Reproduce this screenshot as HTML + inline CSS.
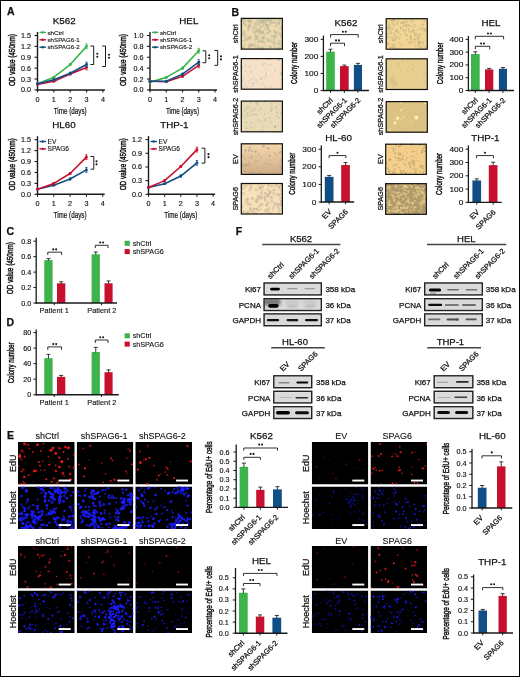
<!DOCTYPE html>
<html><head><meta charset="utf-8"><style>
html,body{margin:0;padding:0;background:#fff;}
svg{display:block;font-family:"Liberation Sans", sans-serif;will-change:transform;}
</style></head><body>
<svg width="520" height="677" viewBox="0 0 520 677">
<defs><filter id="bl" x="-50%" y="-50%" width="200%" height="200%"><feGaussianBlur stdDeviation="0.6"/></filter><filter id="bl2" x="-50%" y="-50%" width="200%" height="200%"><feGaussianBlur stdDeviation="1.6"/></filter></defs>
<rect x="0" y="0" width="520" height="677" fill="#fff"/>
<line x1="37.50" y1="32.00" x2="37.50" y2="90.65" stroke="#1a1a1a" stroke-width="1.4"/>
<line x1="36.80" y1="89.90" x2="104.90" y2="89.90" stroke="#1a1a1a" stroke-width="1.5"/>
<line x1="34.50" y1="89.90" x2="37.50" y2="89.90" stroke="#1a1a1a" stroke-width="1.1"/>
<text x="31.10" y="92.40" font-size="7.2" text-anchor="end" fill="#111" stroke="#111" stroke-width="0.15">0.0</text>
<line x1="34.50" y1="79.02" x2="37.50" y2="79.02" stroke="#1a1a1a" stroke-width="1.1"/>
<text x="31.10" y="81.52" font-size="7.2" text-anchor="end" fill="#111" stroke="#111" stroke-width="0.15">0.3</text>
<line x1="34.50" y1="68.14" x2="37.50" y2="68.14" stroke="#1a1a1a" stroke-width="1.1"/>
<text x="31.10" y="70.64" font-size="7.2" text-anchor="end" fill="#111" stroke="#111" stroke-width="0.15">0.6</text>
<line x1="34.50" y1="57.26" x2="37.50" y2="57.26" stroke="#1a1a1a" stroke-width="1.1"/>
<text x="31.10" y="59.76" font-size="7.2" text-anchor="end" fill="#111" stroke="#111" stroke-width="0.15">0.9</text>
<line x1="34.50" y1="46.38" x2="37.50" y2="46.38" stroke="#1a1a1a" stroke-width="1.1"/>
<text x="31.10" y="48.88" font-size="7.2" text-anchor="end" fill="#111" stroke="#111" stroke-width="0.15">1.2</text>
<line x1="34.50" y1="35.50" x2="37.50" y2="35.50" stroke="#1a1a1a" stroke-width="1.1"/>
<text x="31.10" y="38.00" font-size="7.2" text-anchor="end" fill="#111" stroke="#111" stroke-width="0.15">1.5</text>
<line x1="37.50" y1="89.90" x2="37.50" y2="92.40" stroke="#1a1a1a" stroke-width="1.1"/>
<text x="37.50" y="101.90" font-size="7.2" text-anchor="middle" fill="#111" stroke="#111" stroke-width="0.15">0</text>
<line x1="53.85" y1="89.90" x2="53.85" y2="92.40" stroke="#1a1a1a" stroke-width="1.1"/>
<text x="53.85" y="101.90" font-size="7.2" text-anchor="middle" fill="#111" stroke="#111" stroke-width="0.15">1</text>
<line x1="70.20" y1="89.90" x2="70.20" y2="92.40" stroke="#1a1a1a" stroke-width="1.1"/>
<text x="70.20" y="101.90" font-size="7.2" text-anchor="middle" fill="#111" stroke="#111" stroke-width="0.15">2</text>
<line x1="86.55" y1="89.90" x2="86.55" y2="92.40" stroke="#1a1a1a" stroke-width="1.1"/>
<text x="86.55" y="101.90" font-size="7.2" text-anchor="middle" fill="#111" stroke="#111" stroke-width="0.15">3</text>
<line x1="102.90" y1="89.90" x2="102.90" y2="92.40" stroke="#1a1a1a" stroke-width="1.1"/>
<text x="102.90" y="101.90" font-size="7.2" text-anchor="middle" fill="#111" stroke="#111" stroke-width="0.15">4</text>
<text x="70.20" y="113.80" font-size="8.2" text-anchor="middle" textLength="33" lengthAdjust="spacingAndGlyphs" fill="#111" stroke="#111" stroke-width="0.2">Time (days)</text>
<text x="64.20" y="24.00" font-size="9.8" text-anchor="middle" fill="#111" stroke="#111" stroke-width="0.25">K562</text>
<text x="14.60" y="60.10" font-size="8.7" text-anchor="middle" textLength="52" lengthAdjust="spacingAndGlyphs" transform="rotate(-90 14.60 60.10)" fill="#111" stroke="#111" stroke-width="0.45">OD value (450nm)</text>
<polyline points="37.50,83.73 53.85,77.21 70.20,64.51 86.55,46.38" stroke="#3cb44b" stroke-width="1.6" fill="none" stroke-linejoin="round"/>
<circle cx="37.50" cy="83.73" r="1.45" fill="#3cb44b"/>
<circle cx="53.85" cy="77.21" r="1.45" fill="#3cb44b"/>
<circle cx="70.20" cy="64.51" r="1.45" fill="#3cb44b"/>
<circle cx="86.55" cy="46.38" r="1.45" fill="#3cb44b"/>
<line x1="53.85" y1="76.61" x2="53.85" y2="77.81" stroke="#3cb44b" stroke-width="0.9"/>
<line x1="52.65" y1="76.61" x2="55.05" y2="76.61" stroke="#3cb44b" stroke-width="0.8"/>
<line x1="52.65" y1="77.81" x2="55.05" y2="77.81" stroke="#3cb44b" stroke-width="0.8"/>
<line x1="70.20" y1="63.51" x2="70.20" y2="65.51" stroke="#3cb44b" stroke-width="0.9"/>
<line x1="69.00" y1="63.51" x2="71.40" y2="63.51" stroke="#3cb44b" stroke-width="0.8"/>
<line x1="69.00" y1="65.51" x2="71.40" y2="65.51" stroke="#3cb44b" stroke-width="0.8"/>
<line x1="86.55" y1="43.98" x2="86.55" y2="48.78" stroke="#3cb44b" stroke-width="0.9"/>
<line x1="85.35" y1="43.98" x2="87.75" y2="43.98" stroke="#3cb44b" stroke-width="0.8"/>
<line x1="85.35" y1="48.78" x2="87.75" y2="48.78" stroke="#3cb44b" stroke-width="0.8"/>
<polyline points="37.50,84.46 53.85,81.20 70.20,73.94 86.55,67.41" stroke="#c8102e" stroke-width="1.6" fill="none" stroke-linejoin="round"/>
<circle cx="37.50" cy="84.46" r="1.45" fill="#c8102e"/>
<circle cx="53.85" cy="81.20" r="1.45" fill="#c8102e"/>
<circle cx="70.20" cy="73.94" r="1.45" fill="#c8102e"/>
<circle cx="86.55" cy="67.41" r="1.45" fill="#c8102e"/>
<line x1="53.85" y1="80.60" x2="53.85" y2="81.80" stroke="#c8102e" stroke-width="0.9"/>
<line x1="52.65" y1="80.60" x2="55.05" y2="80.60" stroke="#c8102e" stroke-width="0.8"/>
<line x1="52.65" y1="81.80" x2="55.05" y2="81.80" stroke="#c8102e" stroke-width="0.8"/>
<line x1="70.20" y1="72.94" x2="70.20" y2="74.94" stroke="#c8102e" stroke-width="0.9"/>
<line x1="69.00" y1="72.94" x2="71.40" y2="72.94" stroke="#c8102e" stroke-width="0.8"/>
<line x1="69.00" y1="74.94" x2="71.40" y2="74.94" stroke="#c8102e" stroke-width="0.8"/>
<line x1="86.55" y1="65.01" x2="86.55" y2="69.81" stroke="#c8102e" stroke-width="0.9"/>
<line x1="85.35" y1="65.01" x2="87.75" y2="65.01" stroke="#c8102e" stroke-width="0.8"/>
<line x1="85.35" y1="69.81" x2="87.75" y2="69.81" stroke="#c8102e" stroke-width="0.8"/>
<polyline points="37.50,83.73 53.85,79.74 70.20,73.22 86.55,64.51" stroke="#124e86" stroke-width="1.6" fill="none" stroke-linejoin="round"/>
<circle cx="37.50" cy="83.73" r="1.45" fill="#124e86"/>
<circle cx="53.85" cy="79.74" r="1.45" fill="#124e86"/>
<circle cx="70.20" cy="73.22" r="1.45" fill="#124e86"/>
<circle cx="86.55" cy="64.51" r="1.45" fill="#124e86"/>
<line x1="53.85" y1="79.14" x2="53.85" y2="80.34" stroke="#124e86" stroke-width="0.9"/>
<line x1="52.65" y1="79.14" x2="55.05" y2="79.14" stroke="#124e86" stroke-width="0.8"/>
<line x1="52.65" y1="80.34" x2="55.05" y2="80.34" stroke="#124e86" stroke-width="0.8"/>
<line x1="70.20" y1="72.22" x2="70.20" y2="74.22" stroke="#124e86" stroke-width="0.9"/>
<line x1="69.00" y1="72.22" x2="71.40" y2="72.22" stroke="#124e86" stroke-width="0.8"/>
<line x1="69.00" y1="74.22" x2="71.40" y2="74.22" stroke="#124e86" stroke-width="0.8"/>
<line x1="86.55" y1="62.11" x2="86.55" y2="66.91" stroke="#124e86" stroke-width="0.9"/>
<line x1="85.35" y1="62.11" x2="87.75" y2="62.11" stroke="#124e86" stroke-width="0.8"/>
<line x1="85.35" y1="66.91" x2="87.75" y2="66.91" stroke="#124e86" stroke-width="0.8"/>
<line x1="39.50" y1="32.40" x2="46.00" y2="32.40" stroke="#3cb44b" stroke-width="1.4"/>
<circle cx="42.70" cy="32.40" r="1.2" fill="#3cb44b"/>
<text x="47.50" y="34.60" font-size="6.2" text-anchor="start" fill="#111" stroke="#111" stroke-width="0.12">shCtrl</text>
<line x1="39.50" y1="39.80" x2="46.00" y2="39.80" stroke="#c8102e" stroke-width="1.4"/>
<circle cx="42.70" cy="39.80" r="1.2" fill="#c8102e"/>
<text x="47.50" y="42.00" font-size="6.2" text-anchor="start" fill="#111" stroke="#111" stroke-width="0.12">shSPAG6-1</text>
<line x1="39.50" y1="47.20" x2="46.00" y2="47.20" stroke="#124e86" stroke-width="1.4"/>
<circle cx="42.70" cy="47.20" r="1.2" fill="#124e86"/>
<text x="47.50" y="49.40" font-size="6.2" text-anchor="start" fill="#111" stroke="#111" stroke-width="0.12">shSPAG6-2</text>
<polyline points="90.40,46.00 93.70,46.00 93.70,64.50 90.40,64.50" stroke="#1a1a1a" stroke-width="1.0" fill="none" stroke-linejoin="round"/>
<circle cx="97.30" cy="53.75" r="1.05" fill="#1a1a1a"/>
<circle cx="97.30" cy="56.75" r="1.05" fill="#1a1a1a"/>
<polyline points="102.20,46.00 105.50,46.00 105.50,66.50 102.20,66.50" stroke="#1a1a1a" stroke-width="1.0" fill="none" stroke-linejoin="round"/>
<circle cx="109.00" cy="54.75" r="1.05" fill="#1a1a1a"/>
<circle cx="109.00" cy="57.75" r="1.05" fill="#1a1a1a"/>
<line x1="150.00" y1="32.00" x2="150.00" y2="90.65" stroke="#1a1a1a" stroke-width="1.4"/>
<line x1="149.30" y1="89.90" x2="217.00" y2="89.90" stroke="#1a1a1a" stroke-width="1.5"/>
<line x1="147.00" y1="89.90" x2="150.00" y2="89.90" stroke="#1a1a1a" stroke-width="1.1"/>
<text x="143.60" y="92.40" font-size="7.2" text-anchor="end" fill="#111" stroke="#111" stroke-width="0.15">0.0</text>
<line x1="147.00" y1="79.02" x2="150.00" y2="79.02" stroke="#1a1a1a" stroke-width="1.1"/>
<text x="143.60" y="81.52" font-size="7.2" text-anchor="end" fill="#111" stroke="#111" stroke-width="0.15">0.2</text>
<line x1="147.00" y1="68.14" x2="150.00" y2="68.14" stroke="#1a1a1a" stroke-width="1.1"/>
<text x="143.60" y="70.64" font-size="7.2" text-anchor="end" fill="#111" stroke="#111" stroke-width="0.15">0.4</text>
<line x1="147.00" y1="57.26" x2="150.00" y2="57.26" stroke="#1a1a1a" stroke-width="1.1"/>
<text x="143.60" y="59.76" font-size="7.2" text-anchor="end" fill="#111" stroke="#111" stroke-width="0.15">0.6</text>
<line x1="147.00" y1="46.38" x2="150.00" y2="46.38" stroke="#1a1a1a" stroke-width="1.1"/>
<text x="143.60" y="48.88" font-size="7.2" text-anchor="end" fill="#111" stroke="#111" stroke-width="0.15">0.8</text>
<line x1="147.00" y1="35.50" x2="150.00" y2="35.50" stroke="#1a1a1a" stroke-width="1.1"/>
<text x="143.60" y="38.00" font-size="7.2" text-anchor="end" fill="#111" stroke="#111" stroke-width="0.15">1.0</text>
<line x1="150.00" y1="89.90" x2="150.00" y2="92.40" stroke="#1a1a1a" stroke-width="1.1"/>
<text x="150.00" y="101.90" font-size="7.2" text-anchor="middle" fill="#111" stroke="#111" stroke-width="0.15">0</text>
<line x1="166.25" y1="89.90" x2="166.25" y2="92.40" stroke="#1a1a1a" stroke-width="1.1"/>
<text x="166.25" y="101.90" font-size="7.2" text-anchor="middle" fill="#111" stroke="#111" stroke-width="0.15">1</text>
<line x1="182.50" y1="89.90" x2="182.50" y2="92.40" stroke="#1a1a1a" stroke-width="1.1"/>
<text x="182.50" y="101.90" font-size="7.2" text-anchor="middle" fill="#111" stroke="#111" stroke-width="0.15">2</text>
<line x1="198.75" y1="89.90" x2="198.75" y2="92.40" stroke="#1a1a1a" stroke-width="1.1"/>
<text x="198.75" y="101.90" font-size="7.2" text-anchor="middle" fill="#111" stroke="#111" stroke-width="0.15">3</text>
<line x1="215.00" y1="89.90" x2="215.00" y2="92.40" stroke="#1a1a1a" stroke-width="1.1"/>
<text x="215.00" y="101.90" font-size="7.2" text-anchor="middle" fill="#111" stroke="#111" stroke-width="0.15">4</text>
<text x="182.50" y="113.80" font-size="8.2" text-anchor="middle" textLength="33" lengthAdjust="spacingAndGlyphs" fill="#111" stroke="#111" stroke-width="0.2">Time (days)</text>
<text x="188.80" y="24.00" font-size="9.8" text-anchor="middle" fill="#111" stroke="#111" stroke-width="0.25">HEL</text>
<text x="126.40" y="60.10" font-size="8.7" text-anchor="middle" textLength="52" lengthAdjust="spacingAndGlyphs" transform="rotate(-90 126.40 60.10)" fill="#111" stroke="#111" stroke-width="0.45">OD value (450nm)</text>
<polyline points="150.00,82.28 166.25,77.39 182.50,68.14 198.75,50.73" stroke="#3cb44b" stroke-width="1.6" fill="none" stroke-linejoin="round"/>
<circle cx="150.00" cy="82.28" r="1.45" fill="#3cb44b"/>
<circle cx="166.25" cy="77.39" r="1.45" fill="#3cb44b"/>
<circle cx="182.50" cy="68.14" r="1.45" fill="#3cb44b"/>
<circle cx="198.75" cy="50.73" r="1.45" fill="#3cb44b"/>
<line x1="166.25" y1="76.79" x2="166.25" y2="77.99" stroke="#3cb44b" stroke-width="0.9"/>
<line x1="165.05" y1="76.79" x2="167.45" y2="76.79" stroke="#3cb44b" stroke-width="0.8"/>
<line x1="165.05" y1="77.99" x2="167.45" y2="77.99" stroke="#3cb44b" stroke-width="0.8"/>
<line x1="182.50" y1="67.14" x2="182.50" y2="69.14" stroke="#3cb44b" stroke-width="0.9"/>
<line x1="181.30" y1="67.14" x2="183.70" y2="67.14" stroke="#3cb44b" stroke-width="0.8"/>
<line x1="181.30" y1="69.14" x2="183.70" y2="69.14" stroke="#3cb44b" stroke-width="0.8"/>
<line x1="198.75" y1="48.33" x2="198.75" y2="53.13" stroke="#3cb44b" stroke-width="0.9"/>
<line x1="197.55" y1="48.33" x2="199.95" y2="48.33" stroke="#3cb44b" stroke-width="0.8"/>
<line x1="197.55" y1="53.13" x2="199.95" y2="53.13" stroke="#3cb44b" stroke-width="0.8"/>
<polyline points="150.00,81.20 166.25,81.74 182.50,76.30 198.75,65.42" stroke="#c8102e" stroke-width="1.6" fill="none" stroke-linejoin="round"/>
<circle cx="150.00" cy="81.20" r="1.45" fill="#c8102e"/>
<circle cx="166.25" cy="81.74" r="1.45" fill="#c8102e"/>
<circle cx="182.50" cy="76.30" r="1.45" fill="#c8102e"/>
<circle cx="198.75" cy="65.42" r="1.45" fill="#c8102e"/>
<line x1="166.25" y1="81.14" x2="166.25" y2="82.34" stroke="#c8102e" stroke-width="0.9"/>
<line x1="165.05" y1="81.14" x2="167.45" y2="81.14" stroke="#c8102e" stroke-width="0.8"/>
<line x1="165.05" y1="82.34" x2="167.45" y2="82.34" stroke="#c8102e" stroke-width="0.8"/>
<line x1="182.50" y1="75.30" x2="182.50" y2="77.30" stroke="#c8102e" stroke-width="0.9"/>
<line x1="181.30" y1="75.30" x2="183.70" y2="75.30" stroke="#c8102e" stroke-width="0.8"/>
<line x1="181.30" y1="77.30" x2="183.70" y2="77.30" stroke="#c8102e" stroke-width="0.8"/>
<line x1="198.75" y1="63.02" x2="198.75" y2="67.82" stroke="#c8102e" stroke-width="0.9"/>
<line x1="197.55" y1="63.02" x2="199.95" y2="63.02" stroke="#c8102e" stroke-width="0.8"/>
<line x1="197.55" y1="67.82" x2="199.95" y2="67.82" stroke="#c8102e" stroke-width="0.8"/>
<polyline points="150.00,81.20 166.25,81.20 182.50,74.12 198.75,62.16" stroke="#124e86" stroke-width="1.6" fill="none" stroke-linejoin="round"/>
<circle cx="150.00" cy="81.20" r="1.45" fill="#124e86"/>
<circle cx="166.25" cy="81.20" r="1.45" fill="#124e86"/>
<circle cx="182.50" cy="74.12" r="1.45" fill="#124e86"/>
<circle cx="198.75" cy="62.16" r="1.45" fill="#124e86"/>
<line x1="166.25" y1="80.60" x2="166.25" y2="81.80" stroke="#124e86" stroke-width="0.9"/>
<line x1="165.05" y1="80.60" x2="167.45" y2="80.60" stroke="#124e86" stroke-width="0.8"/>
<line x1="165.05" y1="81.80" x2="167.45" y2="81.80" stroke="#124e86" stroke-width="0.8"/>
<line x1="182.50" y1="73.12" x2="182.50" y2="75.12" stroke="#124e86" stroke-width="0.9"/>
<line x1="181.30" y1="73.12" x2="183.70" y2="73.12" stroke="#124e86" stroke-width="0.8"/>
<line x1="181.30" y1="75.12" x2="183.70" y2="75.12" stroke="#124e86" stroke-width="0.8"/>
<line x1="198.75" y1="59.76" x2="198.75" y2="64.56" stroke="#124e86" stroke-width="0.9"/>
<line x1="197.55" y1="59.76" x2="199.95" y2="59.76" stroke="#124e86" stroke-width="0.8"/>
<line x1="197.55" y1="64.56" x2="199.95" y2="64.56" stroke="#124e86" stroke-width="0.8"/>
<line x1="152.00" y1="32.40" x2="158.50" y2="32.40" stroke="#3cb44b" stroke-width="1.4"/>
<circle cx="155.20" cy="32.40" r="1.2" fill="#3cb44b"/>
<text x="160.00" y="34.60" font-size="6.2" text-anchor="start" fill="#111" stroke="#111" stroke-width="0.12">shCtrl</text>
<line x1="152.00" y1="39.80" x2="158.50" y2="39.80" stroke="#c8102e" stroke-width="1.4"/>
<circle cx="155.20" cy="39.80" r="1.2" fill="#c8102e"/>
<text x="160.00" y="42.00" font-size="6.2" text-anchor="start" fill="#111" stroke="#111" stroke-width="0.12">shSPAG6-1</text>
<line x1="152.00" y1="47.20" x2="158.50" y2="47.20" stroke="#124e86" stroke-width="1.4"/>
<circle cx="155.20" cy="47.20" r="1.2" fill="#124e86"/>
<text x="160.00" y="49.40" font-size="6.2" text-anchor="start" fill="#111" stroke="#111" stroke-width="0.12">shSPAG6-2</text>
<polyline points="202.50,50.80 205.80,50.80 205.80,62.70 202.50,62.70" stroke="#1a1a1a" stroke-width="1.0" fill="none" stroke-linejoin="round"/>
<circle cx="209.20" cy="55.25" r="1.05" fill="#1a1a1a"/>
<circle cx="209.20" cy="58.25" r="1.05" fill="#1a1a1a"/>
<polyline points="214.40,50.40 217.70,50.40 217.70,65.30 214.40,65.30" stroke="#1a1a1a" stroke-width="1.0" fill="none" stroke-linejoin="round"/>
<circle cx="221.00" cy="56.35" r="1.05" fill="#1a1a1a"/>
<circle cx="221.00" cy="59.35" r="1.05" fill="#1a1a1a"/>
<line x1="37.50" y1="136.20" x2="37.50" y2="195.05" stroke="#1a1a1a" stroke-width="1.4"/>
<line x1="36.80" y1="194.30" x2="104.70" y2="194.30" stroke="#1a1a1a" stroke-width="1.5"/>
<line x1="34.50" y1="194.30" x2="37.50" y2="194.30" stroke="#1a1a1a" stroke-width="1.1"/>
<text x="31.10" y="196.80" font-size="7.2" text-anchor="end" fill="#111" stroke="#111" stroke-width="0.15">0.0</text>
<line x1="34.50" y1="183.38" x2="37.50" y2="183.38" stroke="#1a1a1a" stroke-width="1.1"/>
<text x="31.10" y="185.88" font-size="7.2" text-anchor="end" fill="#111" stroke="#111" stroke-width="0.15">0.3</text>
<line x1="34.50" y1="172.46" x2="37.50" y2="172.46" stroke="#1a1a1a" stroke-width="1.1"/>
<text x="31.10" y="174.96" font-size="7.2" text-anchor="end" fill="#111" stroke="#111" stroke-width="0.15">0.6</text>
<line x1="34.50" y1="161.54" x2="37.50" y2="161.54" stroke="#1a1a1a" stroke-width="1.1"/>
<text x="31.10" y="164.04" font-size="7.2" text-anchor="end" fill="#111" stroke="#111" stroke-width="0.15">0.9</text>
<line x1="34.50" y1="150.62" x2="37.50" y2="150.62" stroke="#1a1a1a" stroke-width="1.1"/>
<text x="31.10" y="153.12" font-size="7.2" text-anchor="end" fill="#111" stroke="#111" stroke-width="0.15">1.2</text>
<line x1="34.50" y1="139.70" x2="37.50" y2="139.70" stroke="#1a1a1a" stroke-width="1.1"/>
<text x="31.10" y="142.20" font-size="7.2" text-anchor="end" fill="#111" stroke="#111" stroke-width="0.15">1.5</text>
<line x1="37.50" y1="194.30" x2="37.50" y2="196.80" stroke="#1a1a1a" stroke-width="1.1"/>
<text x="37.50" y="206.30" font-size="7.2" text-anchor="middle" fill="#111" stroke="#111" stroke-width="0.15">0</text>
<line x1="53.80" y1="194.30" x2="53.80" y2="196.80" stroke="#1a1a1a" stroke-width="1.1"/>
<text x="53.80" y="206.30" font-size="7.2" text-anchor="middle" fill="#111" stroke="#111" stroke-width="0.15">1</text>
<line x1="70.10" y1="194.30" x2="70.10" y2="196.80" stroke="#1a1a1a" stroke-width="1.1"/>
<text x="70.10" y="206.30" font-size="7.2" text-anchor="middle" fill="#111" stroke="#111" stroke-width="0.15">2</text>
<line x1="86.40" y1="194.30" x2="86.40" y2="196.80" stroke="#1a1a1a" stroke-width="1.1"/>
<text x="86.40" y="206.30" font-size="7.2" text-anchor="middle" fill="#111" stroke="#111" stroke-width="0.15">3</text>
<line x1="102.70" y1="194.30" x2="102.70" y2="196.80" stroke="#1a1a1a" stroke-width="1.1"/>
<text x="102.70" y="206.30" font-size="7.2" text-anchor="middle" fill="#111" stroke="#111" stroke-width="0.15">4</text>
<text x="70.10" y="218.20" font-size="8.2" text-anchor="middle" textLength="33" lengthAdjust="spacingAndGlyphs" fill="#111" stroke="#111" stroke-width="0.2">Time (days)</text>
<text x="64.00" y="128.40" font-size="9.8" text-anchor="middle" fill="#111" stroke="#111" stroke-width="0.25">HL60</text>
<text x="14.60" y="164.40" font-size="8.7" text-anchor="middle" textLength="52" lengthAdjust="spacingAndGlyphs" transform="rotate(-90 14.60 164.40)" fill="#111" stroke="#111" stroke-width="0.45">OD value (450nm)</text>
<polyline points="37.50,189.20 53.80,185.20 70.10,179.01 86.40,169.91" stroke="#124e86" stroke-width="1.6" fill="none" stroke-linejoin="round"/>
<circle cx="37.50" cy="189.20" r="1.45" fill="#124e86"/>
<circle cx="53.80" cy="185.20" r="1.45" fill="#124e86"/>
<circle cx="70.10" cy="179.01" r="1.45" fill="#124e86"/>
<circle cx="86.40" cy="169.91" r="1.45" fill="#124e86"/>
<line x1="53.80" y1="184.60" x2="53.80" y2="185.80" stroke="#124e86" stroke-width="0.9"/>
<line x1="52.60" y1="184.60" x2="55.00" y2="184.60" stroke="#124e86" stroke-width="0.8"/>
<line x1="52.60" y1="185.80" x2="55.00" y2="185.80" stroke="#124e86" stroke-width="0.8"/>
<line x1="70.10" y1="178.01" x2="70.10" y2="180.01" stroke="#124e86" stroke-width="0.9"/>
<line x1="68.90" y1="178.01" x2="71.30" y2="178.01" stroke="#124e86" stroke-width="0.8"/>
<line x1="68.90" y1="180.01" x2="71.30" y2="180.01" stroke="#124e86" stroke-width="0.8"/>
<line x1="86.40" y1="167.51" x2="86.40" y2="172.31" stroke="#124e86" stroke-width="0.9"/>
<line x1="85.20" y1="167.51" x2="87.60" y2="167.51" stroke="#124e86" stroke-width="0.8"/>
<line x1="85.20" y1="172.31" x2="87.60" y2="172.31" stroke="#124e86" stroke-width="0.8"/>
<polyline points="37.50,189.20 53.80,183.38 70.10,173.55 86.40,157.17" stroke="#c8102e" stroke-width="1.6" fill="none" stroke-linejoin="round"/>
<circle cx="37.50" cy="189.20" r="1.45" fill="#c8102e"/>
<circle cx="53.80" cy="183.38" r="1.45" fill="#c8102e"/>
<circle cx="70.10" cy="173.55" r="1.45" fill="#c8102e"/>
<circle cx="86.40" cy="157.17" r="1.45" fill="#c8102e"/>
<line x1="53.80" y1="182.78" x2="53.80" y2="183.98" stroke="#c8102e" stroke-width="0.9"/>
<line x1="52.60" y1="182.78" x2="55.00" y2="182.78" stroke="#c8102e" stroke-width="0.8"/>
<line x1="52.60" y1="183.98" x2="55.00" y2="183.98" stroke="#c8102e" stroke-width="0.8"/>
<line x1="70.10" y1="172.55" x2="70.10" y2="174.55" stroke="#c8102e" stroke-width="0.9"/>
<line x1="68.90" y1="172.55" x2="71.30" y2="172.55" stroke="#c8102e" stroke-width="0.8"/>
<line x1="68.90" y1="174.55" x2="71.30" y2="174.55" stroke="#c8102e" stroke-width="0.8"/>
<line x1="86.40" y1="154.77" x2="86.40" y2="159.57" stroke="#c8102e" stroke-width="0.9"/>
<line x1="85.20" y1="154.77" x2="87.60" y2="154.77" stroke="#c8102e" stroke-width="0.8"/>
<line x1="85.20" y1="159.57" x2="87.60" y2="159.57" stroke="#c8102e" stroke-width="0.8"/>
<line x1="39.50" y1="141.50" x2="46.00" y2="141.50" stroke="#124e86" stroke-width="1.4"/>
<circle cx="42.70" cy="141.50" r="1.2" fill="#124e86"/>
<text x="47.50" y="143.70" font-size="6.6" text-anchor="start" fill="#111" stroke="#111" stroke-width="0.12">EV</text>
<line x1="39.50" y1="148.90" x2="46.00" y2="148.90" stroke="#c8102e" stroke-width="1.4"/>
<circle cx="42.70" cy="148.90" r="1.2" fill="#c8102e"/>
<text x="47.50" y="151.10" font-size="6.6" text-anchor="start" fill="#111" stroke="#111" stroke-width="0.12">SPAG6</text>
<polyline points="90.50,156.50 93.80,156.50 93.80,169.20 90.50,169.20" stroke="#1a1a1a" stroke-width="1.0" fill="none" stroke-linejoin="round"/>
<circle cx="96.50" cy="161.35" r="1.05" fill="#1a1a1a"/>
<circle cx="96.50" cy="164.35" r="1.05" fill="#1a1a1a"/>
<line x1="148.50" y1="136.08" x2="148.50" y2="195.05" stroke="#1a1a1a" stroke-width="1.4"/>
<line x1="147.80" y1="194.30" x2="215.10" y2="194.30" stroke="#1a1a1a" stroke-width="1.5"/>
<line x1="145.50" y1="194.30" x2="148.50" y2="194.30" stroke="#1a1a1a" stroke-width="1.1"/>
<text x="142.10" y="196.80" font-size="7.2" text-anchor="end" fill="#111" stroke="#111" stroke-width="0.15">0.0</text>
<line x1="145.50" y1="180.62" x2="148.50" y2="180.62" stroke="#1a1a1a" stroke-width="1.1"/>
<text x="142.10" y="183.12" font-size="7.2" text-anchor="end" fill="#111" stroke="#111" stroke-width="0.15">0.3</text>
<line x1="145.50" y1="166.94" x2="148.50" y2="166.94" stroke="#1a1a1a" stroke-width="1.1"/>
<text x="142.10" y="169.44" font-size="7.2" text-anchor="end" fill="#111" stroke="#111" stroke-width="0.15">0.6</text>
<line x1="145.50" y1="153.26" x2="148.50" y2="153.26" stroke="#1a1a1a" stroke-width="1.1"/>
<text x="142.10" y="155.76" font-size="7.2" text-anchor="end" fill="#111" stroke="#111" stroke-width="0.15">0.9</text>
<line x1="145.50" y1="139.58" x2="148.50" y2="139.58" stroke="#1a1a1a" stroke-width="1.1"/>
<text x="142.10" y="142.08" font-size="7.2" text-anchor="end" fill="#111" stroke="#111" stroke-width="0.15">1.2</text>
<line x1="148.50" y1="194.30" x2="148.50" y2="196.80" stroke="#1a1a1a" stroke-width="1.1"/>
<text x="148.50" y="206.30" font-size="7.2" text-anchor="middle" fill="#111" stroke="#111" stroke-width="0.15">0</text>
<line x1="164.65" y1="194.30" x2="164.65" y2="196.80" stroke="#1a1a1a" stroke-width="1.1"/>
<text x="164.65" y="206.30" font-size="7.2" text-anchor="middle" fill="#111" stroke="#111" stroke-width="0.15">1</text>
<line x1="180.80" y1="194.30" x2="180.80" y2="196.80" stroke="#1a1a1a" stroke-width="1.1"/>
<text x="180.80" y="206.30" font-size="7.2" text-anchor="middle" fill="#111" stroke="#111" stroke-width="0.15">2</text>
<line x1="196.95" y1="194.30" x2="196.95" y2="196.80" stroke="#1a1a1a" stroke-width="1.1"/>
<text x="196.95" y="206.30" font-size="7.2" text-anchor="middle" fill="#111" stroke="#111" stroke-width="0.15">3</text>
<line x1="213.10" y1="194.30" x2="213.10" y2="196.80" stroke="#1a1a1a" stroke-width="1.1"/>
<text x="213.10" y="206.30" font-size="7.2" text-anchor="middle" fill="#111" stroke="#111" stroke-width="0.15">4</text>
<text x="180.80" y="218.20" font-size="8.2" text-anchor="middle" textLength="33" lengthAdjust="spacingAndGlyphs" fill="#111" stroke="#111" stroke-width="0.2">Time (days)</text>
<text x="174.40" y="128.40" font-size="9.8" text-anchor="middle" fill="#111" stroke="#111" stroke-width="0.25">THP-1</text>
<text x="126.10" y="164.34" font-size="8.7" text-anchor="middle" textLength="52" lengthAdjust="spacingAndGlyphs" transform="rotate(-90 126.10 164.34)" fill="#111" stroke="#111" stroke-width="0.45">OD value (450nm)</text>
<polyline points="148.50,187.46 164.65,183.81 180.80,176.06 196.95,162.84" stroke="#124e86" stroke-width="1.6" fill="none" stroke-linejoin="round"/>
<circle cx="148.50" cy="187.46" r="1.45" fill="#124e86"/>
<circle cx="164.65" cy="183.81" r="1.45" fill="#124e86"/>
<circle cx="180.80" cy="176.06" r="1.45" fill="#124e86"/>
<circle cx="196.95" cy="162.84" r="1.45" fill="#124e86"/>
<line x1="164.65" y1="183.21" x2="164.65" y2="184.41" stroke="#124e86" stroke-width="0.9"/>
<line x1="163.45" y1="183.21" x2="165.85" y2="183.21" stroke="#124e86" stroke-width="0.8"/>
<line x1="163.45" y1="184.41" x2="165.85" y2="184.41" stroke="#124e86" stroke-width="0.8"/>
<line x1="180.80" y1="175.06" x2="180.80" y2="177.06" stroke="#124e86" stroke-width="0.9"/>
<line x1="179.60" y1="175.06" x2="182.00" y2="175.06" stroke="#124e86" stroke-width="0.8"/>
<line x1="179.60" y1="177.06" x2="182.00" y2="177.06" stroke="#124e86" stroke-width="0.8"/>
<line x1="196.95" y1="160.44" x2="196.95" y2="165.24" stroke="#124e86" stroke-width="0.9"/>
<line x1="195.75" y1="160.44" x2="198.15" y2="160.44" stroke="#124e86" stroke-width="0.8"/>
<line x1="195.75" y1="165.24" x2="198.15" y2="165.24" stroke="#124e86" stroke-width="0.8"/>
<polyline points="148.50,187.46 164.65,180.62 180.80,166.48 196.95,149.61" stroke="#c8102e" stroke-width="1.6" fill="none" stroke-linejoin="round"/>
<circle cx="148.50" cy="187.46" r="1.45" fill="#c8102e"/>
<circle cx="164.65" cy="180.62" r="1.45" fill="#c8102e"/>
<circle cx="180.80" cy="166.48" r="1.45" fill="#c8102e"/>
<circle cx="196.95" cy="149.61" r="1.45" fill="#c8102e"/>
<line x1="164.65" y1="180.02" x2="164.65" y2="181.22" stroke="#c8102e" stroke-width="0.9"/>
<line x1="163.45" y1="180.02" x2="165.85" y2="180.02" stroke="#c8102e" stroke-width="0.8"/>
<line x1="163.45" y1="181.22" x2="165.85" y2="181.22" stroke="#c8102e" stroke-width="0.8"/>
<line x1="180.80" y1="165.48" x2="180.80" y2="167.48" stroke="#c8102e" stroke-width="0.9"/>
<line x1="179.60" y1="165.48" x2="182.00" y2="165.48" stroke="#c8102e" stroke-width="0.8"/>
<line x1="179.60" y1="167.48" x2="182.00" y2="167.48" stroke="#c8102e" stroke-width="0.8"/>
<line x1="196.95" y1="147.21" x2="196.95" y2="152.01" stroke="#c8102e" stroke-width="0.9"/>
<line x1="195.75" y1="147.21" x2="198.15" y2="147.21" stroke="#c8102e" stroke-width="0.8"/>
<line x1="195.75" y1="152.01" x2="198.15" y2="152.01" stroke="#c8102e" stroke-width="0.8"/>
<line x1="150.50" y1="141.50" x2="157.00" y2="141.50" stroke="#124e86" stroke-width="1.4"/>
<circle cx="153.70" cy="141.50" r="1.2" fill="#124e86"/>
<text x="158.50" y="143.70" font-size="6.6" text-anchor="start" fill="#111" stroke="#111" stroke-width="0.12">EV</text>
<line x1="150.50" y1="148.90" x2="157.00" y2="148.90" stroke="#c8102e" stroke-width="1.4"/>
<circle cx="153.70" cy="148.90" r="1.2" fill="#c8102e"/>
<text x="158.50" y="151.10" font-size="6.6" text-anchor="start" fill="#111" stroke="#111" stroke-width="0.12">SPAG6</text>
<polyline points="201.60,148.20 204.90,148.20 204.90,163.10 201.60,163.10" stroke="#1a1a1a" stroke-width="1.0" fill="none" stroke-linejoin="round"/>
<circle cx="208.50" cy="154.15" r="1.05" fill="#1a1a1a"/>
<circle cx="208.50" cy="157.15" r="1.05" fill="#1a1a1a"/>
<rect x="326.20" y="51.63" width="8.60" height="38.87" fill="#3cb44b"/>
<line x1="330.50" y1="49.24" x2="330.50" y2="52.13" stroke="#222" stroke-width="0.9"/>
<line x1="328.50" y1="49.24" x2="332.50" y2="49.24" stroke="#222" stroke-width="0.9"/>
<rect x="340.00" y="66.12" width="8.70" height="24.38" fill="#c8102e"/>
<line x1="344.35" y1="65.10" x2="344.35" y2="66.62" stroke="#222" stroke-width="0.9"/>
<line x1="342.35" y1="65.10" x2="346.35" y2="65.10" stroke="#222" stroke-width="0.9"/>
<rect x="353.90" y="64.92" width="8.10" height="25.58" fill="#124e86"/>
<line x1="357.95" y1="63.39" x2="357.95" y2="65.42" stroke="#222" stroke-width="0.9"/>
<line x1="355.95" y1="63.39" x2="359.95" y2="63.39" stroke="#222" stroke-width="0.9"/>
<line x1="323.40" y1="35.60" x2="323.40" y2="91.20" stroke="#1a1a1a" stroke-width="1.3"/>
<line x1="322.80" y1="90.50" x2="369.00" y2="90.50" stroke="#1a1a1a" stroke-width="1.4"/>
<line x1="320.60" y1="90.50" x2="323.40" y2="90.50" stroke="#1a1a1a" stroke-width="1.0"/>
<text x="318.40" y="93.00" font-size="7.6" text-anchor="end" textLength="4.65" lengthAdjust="spacingAndGlyphs" fill="#111" stroke="#111" stroke-width="0.15">0</text>
<line x1="320.60" y1="73.45" x2="323.40" y2="73.45" stroke="#1a1a1a" stroke-width="1.0"/>
<text x="318.40" y="75.95" font-size="7.6" text-anchor="end" textLength="13.95" lengthAdjust="spacingAndGlyphs" fill="#111" stroke="#111" stroke-width="0.15">100</text>
<line x1="320.60" y1="56.40" x2="323.40" y2="56.40" stroke="#1a1a1a" stroke-width="1.0"/>
<text x="318.40" y="58.90" font-size="7.6" text-anchor="end" textLength="13.95" lengthAdjust="spacingAndGlyphs" fill="#111" stroke="#111" stroke-width="0.15">200</text>
<line x1="320.60" y1="39.35" x2="323.40" y2="39.35" stroke="#1a1a1a" stroke-width="1.0"/>
<text x="318.40" y="41.85" font-size="7.6" text-anchor="end" textLength="13.95" lengthAdjust="spacingAndGlyphs" fill="#111" stroke="#111" stroke-width="0.15">300</text>
<line x1="330.50" y1="90.50" x2="330.50" y2="92.80" stroke="#1a1a1a" stroke-width="1.0"/>
<line x1="344.35" y1="90.50" x2="344.35" y2="92.80" stroke="#1a1a1a" stroke-width="1.0"/>
<line x1="357.95" y1="90.50" x2="357.95" y2="92.80" stroke="#1a1a1a" stroke-width="1.0"/>
<text x="346.00" y="26.20" font-size="9.8" text-anchor="middle" fill="#111" stroke="#111" stroke-width="0.25">K562</text>
<text x="297.50" y="63.05" font-size="9.4" text-anchor="middle" textLength="42" lengthAdjust="spacingAndGlyphs" transform="rotate(-90 297.50 63.05)" fill="#111" stroke="#111" stroke-width="0.45">Colony number</text>
<polyline points="330.50,46.20 330.50,43.20 344.50,43.20 344.50,46.20" stroke="#1a1a1a" stroke-width="0.9" fill="none" stroke-linejoin="round"/>
<circle cx="336.05" cy="40.40" r="1.05" fill="#1a1a1a"/>
<circle cx="338.95" cy="40.40" r="1.05" fill="#1a1a1a"/>
<polyline points="330.50,37.60 330.50,34.60 358.20,34.60 358.20,37.60" stroke="#1a1a1a" stroke-width="0.9" fill="none" stroke-linejoin="round"/>
<circle cx="342.90" cy="31.80" r="1.05" fill="#1a1a1a"/>
<circle cx="345.80" cy="31.80" r="1.05" fill="#1a1a1a"/>
<text x="333.50" y="100.80" font-size="7.5" text-anchor="end" transform="rotate(-45 333.50 100.80)" fill="#111" stroke="#111" stroke-width="0.25">shCtrl</text>
<text x="347.35" y="100.80" font-size="7.5" text-anchor="end" transform="rotate(-45 347.35 100.80)" fill="#111" stroke="#111" stroke-width="0.25">shSPAG6-1</text>
<text x="360.95" y="100.80" font-size="7.5" text-anchor="end" transform="rotate(-45 360.95 100.80)" fill="#111" stroke="#111" stroke-width="0.25">shSPAG6-2</text>
<rect x="471.00" y="54.08" width="8.70" height="36.42" fill="#3cb44b"/>
<line x1="475.35" y1="51.78" x2="475.35" y2="54.58" stroke="#222" stroke-width="0.9"/>
<line x1="473.35" y1="51.78" x2="477.35" y2="51.78" stroke="#222" stroke-width="0.9"/>
<rect x="485.00" y="69.41" width="8.30" height="21.09" fill="#c8102e"/>
<line x1="489.15" y1="68.39" x2="489.15" y2="69.91" stroke="#222" stroke-width="0.9"/>
<line x1="487.15" y1="68.39" x2="491.15" y2="68.39" stroke="#222" stroke-width="0.9"/>
<rect x="498.90" y="68.77" width="8.10" height="21.73" fill="#124e86"/>
<line x1="502.95" y1="67.50" x2="502.95" y2="69.27" stroke="#222" stroke-width="0.9"/>
<line x1="500.95" y1="67.50" x2="504.95" y2="67.50" stroke="#222" stroke-width="0.9"/>
<line x1="468.40" y1="36.00" x2="468.40" y2="91.20" stroke="#1a1a1a" stroke-width="1.3"/>
<line x1="467.80" y1="90.50" x2="514.00" y2="90.50" stroke="#1a1a1a" stroke-width="1.4"/>
<line x1="465.60" y1="90.50" x2="468.40" y2="90.50" stroke="#1a1a1a" stroke-width="1.0"/>
<text x="463.40" y="93.00" font-size="7.6" text-anchor="end" textLength="4.65" lengthAdjust="spacingAndGlyphs" fill="#111" stroke="#111" stroke-width="0.15">0</text>
<line x1="465.60" y1="77.72" x2="468.40" y2="77.72" stroke="#1a1a1a" stroke-width="1.0"/>
<text x="463.40" y="80.22" font-size="7.6" text-anchor="end" textLength="13.95" lengthAdjust="spacingAndGlyphs" fill="#111" stroke="#111" stroke-width="0.15">100</text>
<line x1="465.60" y1="64.94" x2="468.40" y2="64.94" stroke="#1a1a1a" stroke-width="1.0"/>
<text x="463.40" y="67.44" font-size="7.6" text-anchor="end" textLength="13.95" lengthAdjust="spacingAndGlyphs" fill="#111" stroke="#111" stroke-width="0.15">200</text>
<line x1="465.60" y1="52.16" x2="468.40" y2="52.16" stroke="#1a1a1a" stroke-width="1.0"/>
<text x="463.40" y="54.66" font-size="7.6" text-anchor="end" textLength="13.95" lengthAdjust="spacingAndGlyphs" fill="#111" stroke="#111" stroke-width="0.15">300</text>
<line x1="465.60" y1="39.38" x2="468.40" y2="39.38" stroke="#1a1a1a" stroke-width="1.0"/>
<text x="463.40" y="41.88" font-size="7.6" text-anchor="end" textLength="13.95" lengthAdjust="spacingAndGlyphs" fill="#111" stroke="#111" stroke-width="0.15">400</text>
<line x1="475.35" y1="90.50" x2="475.35" y2="92.80" stroke="#1a1a1a" stroke-width="1.0"/>
<line x1="489.15" y1="90.50" x2="489.15" y2="92.80" stroke="#1a1a1a" stroke-width="1.0"/>
<line x1="502.95" y1="90.50" x2="502.95" y2="92.80" stroke="#1a1a1a" stroke-width="1.0"/>
<text x="491.00" y="26.20" font-size="9.8" text-anchor="middle" fill="#111" stroke="#111" stroke-width="0.25">HEL</text>
<text x="442.50" y="63.25" font-size="9.4" text-anchor="middle" textLength="42" lengthAdjust="spacingAndGlyphs" transform="rotate(-90 442.50 63.25)" fill="#111" stroke="#111" stroke-width="0.45">Colony number</text>
<polyline points="475.30,49.30 475.30,46.30 489.70,46.30 489.70,49.30" stroke="#1a1a1a" stroke-width="0.9" fill="none" stroke-linejoin="round"/>
<circle cx="481.05" cy="43.50" r="1.05" fill="#1a1a1a"/>
<circle cx="483.95" cy="43.50" r="1.05" fill="#1a1a1a"/>
<polyline points="475.30,39.30 475.30,36.30 503.60,36.30 503.60,39.30" stroke="#1a1a1a" stroke-width="0.9" fill="none" stroke-linejoin="round"/>
<circle cx="488.00" cy="33.50" r="1.05" fill="#1a1a1a"/>
<circle cx="490.90" cy="33.50" r="1.05" fill="#1a1a1a"/>
<text x="478.35" y="100.80" font-size="7.5" text-anchor="end" transform="rotate(-45 478.35 100.80)" fill="#111" stroke="#111" stroke-width="0.25">shCtrl</text>
<text x="492.15" y="100.80" font-size="7.5" text-anchor="end" transform="rotate(-45 492.15 100.80)" fill="#111" stroke="#111" stroke-width="0.25">shSPAG6-1</text>
<text x="505.95" y="100.80" font-size="7.5" text-anchor="end" transform="rotate(-45 505.95 100.80)" fill="#111" stroke="#111" stroke-width="0.25">shSPAG6-2</text>
<rect x="324.80" y="176.83" width="8.70" height="25.17" fill="#124e86"/>
<line x1="329.15" y1="175.42" x2="329.15" y2="177.33" stroke="#222" stroke-width="0.9"/>
<line x1="327.15" y1="175.42" x2="331.15" y2="175.42" stroke="#222" stroke-width="0.9"/>
<rect x="341.20" y="165.04" width="8.70" height="36.96" fill="#c8102e"/>
<line x1="345.55" y1="162.58" x2="345.55" y2="165.54" stroke="#222" stroke-width="0.9"/>
<line x1="343.55" y1="162.58" x2="347.55" y2="162.58" stroke="#222" stroke-width="0.9"/>
<line x1="321.30" y1="145.40" x2="321.30" y2="202.70" stroke="#1a1a1a" stroke-width="1.3"/>
<line x1="320.70" y1="202.00" x2="354.20" y2="202.00" stroke="#1a1a1a" stroke-width="1.4"/>
<line x1="318.50" y1="202.00" x2="321.30" y2="202.00" stroke="#1a1a1a" stroke-width="1.0"/>
<text x="316.30" y="204.50" font-size="7.6" text-anchor="end" textLength="4.65" lengthAdjust="spacingAndGlyphs" fill="#111" stroke="#111" stroke-width="0.15">0</text>
<line x1="318.50" y1="184.40" x2="321.30" y2="184.40" stroke="#1a1a1a" stroke-width="1.0"/>
<text x="316.30" y="186.90" font-size="7.6" text-anchor="end" textLength="13.95" lengthAdjust="spacingAndGlyphs" fill="#111" stroke="#111" stroke-width="0.15">100</text>
<line x1="318.50" y1="166.80" x2="321.30" y2="166.80" stroke="#1a1a1a" stroke-width="1.0"/>
<text x="316.30" y="169.30" font-size="7.6" text-anchor="end" textLength="13.95" lengthAdjust="spacingAndGlyphs" fill="#111" stroke="#111" stroke-width="0.15">200</text>
<line x1="318.50" y1="149.20" x2="321.30" y2="149.20" stroke="#1a1a1a" stroke-width="1.0"/>
<text x="316.30" y="151.70" font-size="7.6" text-anchor="end" textLength="13.95" lengthAdjust="spacingAndGlyphs" fill="#111" stroke="#111" stroke-width="0.15">300</text>
<line x1="329.15" y1="202.00" x2="329.15" y2="204.30" stroke="#1a1a1a" stroke-width="1.0"/>
<line x1="345.55" y1="202.00" x2="345.55" y2="204.30" stroke="#1a1a1a" stroke-width="1.0"/>
<text x="338.50" y="141.20" font-size="9.8" text-anchor="middle" fill="#111" stroke="#111" stroke-width="0.25">HL-60</text>
<text x="295.50" y="173.70" font-size="9.4" text-anchor="middle" textLength="42" lengthAdjust="spacingAndGlyphs" transform="rotate(-90 295.50 173.70)" fill="#111" stroke="#111" stroke-width="0.45">Colony number</text>
<polyline points="329.10,158.20 329.10,155.60 345.90,155.60 345.90,158.20" stroke="#1a1a1a" stroke-width="0.9" fill="none" stroke-linejoin="round"/>
<circle cx="337.50" cy="152.80" r="1.05" fill="#1a1a1a"/>
<text x="332.15" y="212.30" font-size="7.5" text-anchor="end" transform="rotate(-45 332.15 212.30)" fill="#111" stroke="#111" stroke-width="0.25">EV</text>
<text x="348.55" y="212.30" font-size="7.5" text-anchor="end" transform="rotate(-45 348.55 212.30)" fill="#111" stroke="#111" stroke-width="0.25">SPAG6</text>
<rect x="472.40" y="180.46" width="8.70" height="21.94" fill="#124e86"/>
<line x1="476.75" y1="178.86" x2="476.75" y2="180.96" stroke="#222" stroke-width="0.9"/>
<line x1="474.75" y1="178.86" x2="478.75" y2="178.86" stroke="#222" stroke-width="0.9"/>
<rect x="488.80" y="165.16" width="8.70" height="37.24" fill="#c8102e"/>
<line x1="493.15" y1="162.23" x2="493.15" y2="165.66" stroke="#222" stroke-width="0.9"/>
<line x1="491.15" y1="162.23" x2="495.15" y2="162.23" stroke="#222" stroke-width="0.9"/>
<line x1="468.40" y1="145.40" x2="468.40" y2="203.10" stroke="#1a1a1a" stroke-width="1.3"/>
<line x1="467.80" y1="202.40" x2="501.80" y2="202.40" stroke="#1a1a1a" stroke-width="1.4"/>
<line x1="465.60" y1="202.40" x2="468.40" y2="202.40" stroke="#1a1a1a" stroke-width="1.0"/>
<text x="463.40" y="204.90" font-size="7.6" text-anchor="end" textLength="4.65" lengthAdjust="spacingAndGlyphs" fill="#111" stroke="#111" stroke-width="0.15">0</text>
<line x1="465.60" y1="189.10" x2="468.40" y2="189.10" stroke="#1a1a1a" stroke-width="1.0"/>
<text x="463.40" y="191.60" font-size="7.6" text-anchor="end" textLength="13.95" lengthAdjust="spacingAndGlyphs" fill="#111" stroke="#111" stroke-width="0.15">100</text>
<line x1="465.60" y1="175.80" x2="468.40" y2="175.80" stroke="#1a1a1a" stroke-width="1.0"/>
<text x="463.40" y="178.30" font-size="7.6" text-anchor="end" textLength="13.95" lengthAdjust="spacingAndGlyphs" fill="#111" stroke="#111" stroke-width="0.15">200</text>
<line x1="465.60" y1="162.50" x2="468.40" y2="162.50" stroke="#1a1a1a" stroke-width="1.0"/>
<text x="463.40" y="165.00" font-size="7.6" text-anchor="end" textLength="13.95" lengthAdjust="spacingAndGlyphs" fill="#111" stroke="#111" stroke-width="0.15">300</text>
<line x1="465.60" y1="149.20" x2="468.40" y2="149.20" stroke="#1a1a1a" stroke-width="1.0"/>
<text x="463.40" y="151.70" font-size="7.6" text-anchor="end" textLength="13.95" lengthAdjust="spacingAndGlyphs" fill="#111" stroke="#111" stroke-width="0.15">400</text>
<line x1="476.75" y1="202.40" x2="476.75" y2="204.70" stroke="#1a1a1a" stroke-width="1.0"/>
<line x1="493.15" y1="202.40" x2="493.15" y2="204.70" stroke="#1a1a1a" stroke-width="1.0"/>
<text x="485.40" y="141.20" font-size="9.8" text-anchor="middle" fill="#111" stroke="#111" stroke-width="0.25">THP-1</text>
<text x="442.50" y="173.90" font-size="9.4" text-anchor="middle" textLength="42" lengthAdjust="spacingAndGlyphs" transform="rotate(-90 442.50 173.90)" fill="#111" stroke="#111" stroke-width="0.45">Colony number</text>
<polyline points="476.40,158.20 476.40,155.60 493.50,155.60 493.50,158.20" stroke="#1a1a1a" stroke-width="0.9" fill="none" stroke-linejoin="round"/>
<circle cx="484.95" cy="152.80" r="1.05" fill="#1a1a1a"/>
<text x="479.75" y="212.70" font-size="7.5" text-anchor="end" transform="rotate(-45 479.75 212.70)" fill="#111" stroke="#111" stroke-width="0.25">EV</text>
<text x="496.15" y="212.70" font-size="7.5" text-anchor="end" transform="rotate(-45 496.15 212.70)" fill="#111" stroke="#111" stroke-width="0.25">SPAG6</text>
<rect x="44.30" y="260.13" width="8.30" height="42.87" fill="#3cb44b"/>
<line x1="48.45" y1="258.58" x2="48.45" y2="260.63" stroke="#222" stroke-width="0.9"/>
<line x1="46.45" y1="258.58" x2="50.45" y2="258.58" stroke="#222" stroke-width="0.9"/>
<rect x="57.00" y="283.30" width="8.30" height="19.70" fill="#c8102e"/>
<line x1="61.15" y1="281.76" x2="61.15" y2="283.80" stroke="#222" stroke-width="0.9"/>
<line x1="59.15" y1="281.76" x2="63.15" y2="281.76" stroke="#222" stroke-width="0.9"/>
<rect x="91.60" y="254.33" width="8.30" height="48.67" fill="#3cb44b"/>
<line x1="95.75" y1="252.02" x2="95.75" y2="254.83" stroke="#222" stroke-width="0.9"/>
<line x1="93.75" y1="252.02" x2="97.75" y2="252.02" stroke="#222" stroke-width="0.9"/>
<rect x="104.50" y="283.30" width="8.10" height="19.70" fill="#c8102e"/>
<line x1="108.55" y1="280.98" x2="108.55" y2="283.80" stroke="#222" stroke-width="0.9"/>
<line x1="106.55" y1="280.98" x2="110.55" y2="280.98" stroke="#222" stroke-width="0.9"/>
<line x1="36.20" y1="237.70" x2="36.20" y2="303.70" stroke="#1a1a1a" stroke-width="1.3"/>
<line x1="35.60" y1="303.00" x2="117.00" y2="303.00" stroke="#1a1a1a" stroke-width="1.4"/>
<line x1="33.40" y1="303.00" x2="36.20" y2="303.00" stroke="#1a1a1a" stroke-width="1.0"/>
<text x="31.20" y="305.50" font-size="7.2" text-anchor="end" fill="#111" stroke="#111" stroke-width="0.15">0.0</text>
<line x1="33.40" y1="287.55" x2="36.20" y2="287.55" stroke="#1a1a1a" stroke-width="1.0"/>
<text x="31.20" y="290.05" font-size="7.2" text-anchor="end" fill="#111" stroke="#111" stroke-width="0.15">0.2</text>
<line x1="33.40" y1="272.10" x2="36.20" y2="272.10" stroke="#1a1a1a" stroke-width="1.0"/>
<text x="31.20" y="274.60" font-size="7.2" text-anchor="end" fill="#111" stroke="#111" stroke-width="0.15">0.4</text>
<line x1="33.40" y1="256.65" x2="36.20" y2="256.65" stroke="#1a1a1a" stroke-width="1.0"/>
<text x="31.20" y="259.15" font-size="7.2" text-anchor="end" fill="#111" stroke="#111" stroke-width="0.15">0.6</text>
<line x1="33.40" y1="241.20" x2="36.20" y2="241.20" stroke="#1a1a1a" stroke-width="1.0"/>
<text x="31.20" y="243.70" font-size="7.2" text-anchor="end" fill="#111" stroke="#111" stroke-width="0.15">0.8</text>
<line x1="54.20" y1="303.00" x2="54.20" y2="305.30" stroke="#1a1a1a" stroke-width="1.0"/>
<line x1="101.50" y1="303.00" x2="101.50" y2="305.30" stroke="#1a1a1a" stroke-width="1.0"/>
<text x="13.20" y="268.15" font-size="8.7" text-anchor="middle" textLength="52" lengthAdjust="spacingAndGlyphs" transform="rotate(-90 13.20 268.15)" fill="#111" stroke="#111" stroke-width="0.45">OD value (450nm)</text>
<polyline points="47.80,255.00 47.80,252.20 61.60,252.20 61.60,255.00" stroke="#1a1a1a" stroke-width="0.9" fill="none" stroke-linejoin="round"/>
<circle cx="53.25" cy="249.40" r="1.05" fill="#1a1a1a"/>
<circle cx="56.15" cy="249.40" r="1.05" fill="#1a1a1a"/>
<polyline points="95.30,248.10 95.30,245.30 108.00,245.30 108.00,248.10" stroke="#1a1a1a" stroke-width="0.9" fill="none" stroke-linejoin="round"/>
<circle cx="100.20" cy="242.50" r="1.05" fill="#1a1a1a"/>
<circle cx="103.10" cy="242.50" r="1.05" fill="#1a1a1a"/>
<text x="54.20" y="313.20" font-size="7.4" text-anchor="middle" fill="#111" stroke="#111" stroke-width="0.12">Patient 1</text>
<text x="101.80" y="313.20" font-size="7.4" text-anchor="middle" fill="#111" stroke="#111" stroke-width="0.12">Patient 2</text>
<rect x="44.30" y="358.23" width="8.30" height="36.47" fill="#3cb44b"/>
<line x1="48.45" y1="354.35" x2="48.45" y2="358.73" stroke="#222" stroke-width="0.9"/>
<line x1="46.45" y1="354.35" x2="50.45" y2="354.35" stroke="#222" stroke-width="0.9"/>
<rect x="57.00" y="376.85" width="8.30" height="17.85" fill="#c8102e"/>
<line x1="61.15" y1="375.46" x2="61.15" y2="377.35" stroke="#222" stroke-width="0.9"/>
<line x1="59.15" y1="375.46" x2="63.15" y2="375.46" stroke="#222" stroke-width="0.9"/>
<rect x="91.60" y="352.02" width="8.30" height="42.68" fill="#3cb44b"/>
<line x1="95.75" y1="347.36" x2="95.75" y2="352.52" stroke="#222" stroke-width="0.9"/>
<line x1="93.75" y1="347.36" x2="97.75" y2="347.36" stroke="#222" stroke-width="0.9"/>
<rect x="104.50" y="372.20" width="8.10" height="22.50" fill="#c8102e"/>
<line x1="108.55" y1="369.87" x2="108.55" y2="372.70" stroke="#222" stroke-width="0.9"/>
<line x1="106.55" y1="369.87" x2="110.55" y2="369.87" stroke="#222" stroke-width="0.9"/>
<line x1="36.20" y1="329.60" x2="36.20" y2="395.40" stroke="#1a1a1a" stroke-width="1.3"/>
<line x1="35.60" y1="394.70" x2="118.80" y2="394.70" stroke="#1a1a1a" stroke-width="1.4"/>
<line x1="33.40" y1="394.70" x2="36.20" y2="394.70" stroke="#1a1a1a" stroke-width="1.0"/>
<text x="31.20" y="397.20" font-size="7.2" text-anchor="end" fill="#111" stroke="#111" stroke-width="0.15">0</text>
<line x1="33.40" y1="379.18" x2="36.20" y2="379.18" stroke="#1a1a1a" stroke-width="1.0"/>
<text x="31.20" y="381.68" font-size="7.2" text-anchor="end" fill="#111" stroke="#111" stroke-width="0.15">20</text>
<line x1="33.40" y1="363.66" x2="36.20" y2="363.66" stroke="#1a1a1a" stroke-width="1.0"/>
<text x="31.20" y="366.16" font-size="7.2" text-anchor="end" fill="#111" stroke="#111" stroke-width="0.15">40</text>
<line x1="33.40" y1="348.14" x2="36.20" y2="348.14" stroke="#1a1a1a" stroke-width="1.0"/>
<text x="31.20" y="350.64" font-size="7.2" text-anchor="end" fill="#111" stroke="#111" stroke-width="0.15">60</text>
<line x1="33.40" y1="332.62" x2="36.20" y2="332.62" stroke="#1a1a1a" stroke-width="1.0"/>
<text x="31.20" y="335.12" font-size="7.2" text-anchor="end" fill="#111" stroke="#111" stroke-width="0.15">80</text>
<line x1="54.20" y1="394.70" x2="54.20" y2="397.00" stroke="#1a1a1a" stroke-width="1.0"/>
<line x1="101.50" y1="394.70" x2="101.50" y2="397.00" stroke="#1a1a1a" stroke-width="1.0"/>
<text x="14.50" y="362.85" font-size="9.4" text-anchor="middle" textLength="41" lengthAdjust="spacingAndGlyphs" transform="rotate(-90 14.50 362.85)" fill="#111" stroke="#111" stroke-width="0.45">Colony number</text>
<polyline points="47.80,349.90 47.80,346.90 61.60,346.90 61.60,349.90" stroke="#1a1a1a" stroke-width="0.9" fill="none" stroke-linejoin="round"/>
<circle cx="53.25" cy="344.10" r="1.05" fill="#1a1a1a"/>
<circle cx="56.15" cy="344.10" r="1.05" fill="#1a1a1a"/>
<polyline points="95.30,343.00 95.30,340.00 108.00,340.00 108.00,343.00" stroke="#1a1a1a" stroke-width="0.9" fill="none" stroke-linejoin="round"/>
<circle cx="100.20" cy="337.20" r="1.05" fill="#1a1a1a"/>
<circle cx="103.10" cy="337.20" r="1.05" fill="#1a1a1a"/>
<text x="54.20" y="405.00" font-size="7.4" text-anchor="middle" fill="#111" stroke="#111" stroke-width="0.12">Patient 1</text>
<text x="101.80" y="405.00" font-size="7.4" text-anchor="middle" fill="#111" stroke="#111" stroke-width="0.12">Patient 2</text>
<rect x="124.60" y="240.80" width="5.20" height="5.00" fill="#3cb44b"/>
<rect x="124.60" y="249.10" width="5.20" height="5.00" fill="#c8102e"/>
<text x="132.70" y="245.80" font-size="7.2" text-anchor="start" fill="#111" stroke="#111" stroke-width="0.12">shCtrl</text>
<text x="132.70" y="254.10" font-size="7.2" text-anchor="start" fill="#111" stroke="#111" stroke-width="0.12">shSPAG6</text>
<rect x="124.60" y="333.30" width="5.20" height="5.00" fill="#3cb44b"/>
<rect x="124.60" y="341.60" width="5.20" height="5.00" fill="#c8102e"/>
<text x="132.70" y="338.30" font-size="7.2" text-anchor="start" fill="#111" stroke="#111" stroke-width="0.12">shCtrl</text>
<text x="132.70" y="346.60" font-size="7.2" text-anchor="start" fill="#111" stroke="#111" stroke-width="0.12">shSPAG6</text>
<rect x="239.60" y="466.79" width="8.60" height="40.61" fill="#3cb44b"/>
<line x1="243.90" y1="463.10" x2="243.90" y2="467.29" stroke="#222" stroke-width="0.9"/>
<line x1="241.90" y1="463.10" x2="245.90" y2="463.10" stroke="#222" stroke-width="0.9"/>
<rect x="256.20" y="489.86" width="8.30" height="17.54" fill="#c8102e"/>
<line x1="260.35" y1="487.09" x2="260.35" y2="490.36" stroke="#222" stroke-width="0.9"/>
<line x1="258.35" y1="487.09" x2="262.35" y2="487.09" stroke="#222" stroke-width="0.9"/>
<rect x="273.00" y="489.40" width="8.80" height="18.00" fill="#124e86"/>
<line x1="277.40" y1="486.63" x2="277.40" y2="489.90" stroke="#222" stroke-width="0.9"/>
<line x1="275.40" y1="486.63" x2="279.40" y2="486.63" stroke="#222" stroke-width="0.9"/>
<line x1="236.20" y1="444.60" x2="236.20" y2="508.10" stroke="#1a1a1a" stroke-width="1.3"/>
<line x1="235.60" y1="507.40" x2="288.00" y2="507.40" stroke="#1a1a1a" stroke-width="1.4"/>
<line x1="233.40" y1="507.40" x2="236.20" y2="507.40" stroke="#1a1a1a" stroke-width="1.0"/>
<text x="229.40" y="509.90" font-size="7.2" text-anchor="end" fill="#111" stroke="#111" stroke-width="0.15">0.0</text>
<line x1="233.40" y1="498.17" x2="236.20" y2="498.17" stroke="#1a1a1a" stroke-width="1.0"/>
<text x="229.40" y="500.67" font-size="7.2" text-anchor="end" fill="#111" stroke="#111" stroke-width="0.15">0.1</text>
<line x1="233.40" y1="488.94" x2="236.20" y2="488.94" stroke="#1a1a1a" stroke-width="1.0"/>
<text x="229.40" y="491.44" font-size="7.2" text-anchor="end" fill="#111" stroke="#111" stroke-width="0.15">0.2</text>
<line x1="233.40" y1="479.71" x2="236.20" y2="479.71" stroke="#1a1a1a" stroke-width="1.0"/>
<text x="229.40" y="482.21" font-size="7.2" text-anchor="end" fill="#111" stroke="#111" stroke-width="0.15">0.3</text>
<line x1="233.40" y1="470.48" x2="236.20" y2="470.48" stroke="#1a1a1a" stroke-width="1.0"/>
<text x="229.40" y="472.98" font-size="7.2" text-anchor="end" fill="#111" stroke="#111" stroke-width="0.15">0.4</text>
<line x1="233.40" y1="461.25" x2="236.20" y2="461.25" stroke="#1a1a1a" stroke-width="1.0"/>
<text x="229.40" y="463.75" font-size="7.2" text-anchor="end" fill="#111" stroke="#111" stroke-width="0.15">0.5</text>
<line x1="233.40" y1="452.02" x2="236.20" y2="452.02" stroke="#1a1a1a" stroke-width="1.0"/>
<text x="229.40" y="454.52" font-size="7.2" text-anchor="end" fill="#111" stroke="#111" stroke-width="0.15">0.6</text>
<line x1="243.90" y1="507.40" x2="243.90" y2="509.70" stroke="#1a1a1a" stroke-width="1.0"/>
<line x1="260.35" y1="507.40" x2="260.35" y2="509.70" stroke="#1a1a1a" stroke-width="1.0"/>
<line x1="277.40" y1="507.40" x2="277.40" y2="509.70" stroke="#1a1a1a" stroke-width="1.0"/>
<text x="261.50" y="439.30" font-size="9.8" text-anchor="middle" fill="#111" stroke="#111" stroke-width="0.25">K562</text>
<text x="212.30" y="477.20" font-size="9" text-anchor="middle" textLength="71.5" lengthAdjust="spacingAndGlyphs" transform="rotate(-90 212.30 477.20)" fill="#111" stroke="#111" stroke-width="0.45">Percentage of EdU+ cells</text>
<polyline points="243.80,459.90 243.80,457.30 260.40,457.30 260.40,459.90" stroke="#1a1a1a" stroke-width="0.9" fill="none" stroke-linejoin="round"/>
<circle cx="250.65" cy="453.90" r="1.05" fill="#1a1a1a"/>
<circle cx="253.55" cy="453.90" r="1.05" fill="#1a1a1a"/>
<polyline points="243.80,450.60 243.80,448.00 277.50,448.00 277.50,450.60" stroke="#1a1a1a" stroke-width="0.9" fill="none" stroke-linejoin="round"/>
<circle cx="259.20" cy="444.60" r="1.05" fill="#1a1a1a"/>
<circle cx="262.10" cy="444.60" r="1.05" fill="#1a1a1a"/>
<text x="245.40" y="517.70" font-size="7.5" text-anchor="end" transform="rotate(-45 245.40 517.70)" fill="#111" stroke="#111" stroke-width="0.25">shCtrl</text>
<text x="261.85" y="517.70" font-size="7.5" text-anchor="end" transform="rotate(-45 261.85 517.70)" fill="#111" stroke="#111" stroke-width="0.25">shSPAG6-1</text>
<text x="278.90" y="517.70" font-size="7.5" text-anchor="end" transform="rotate(-45 278.90 517.70)" fill="#111" stroke="#111" stroke-width="0.25">shSPAG6-2</text>
<rect x="239.00" y="592.76" width="8.70" height="40.44" fill="#3cb44b"/>
<line x1="243.35" y1="588.88" x2="243.35" y2="593.26" stroke="#222" stroke-width="0.9"/>
<line x1="241.35" y1="588.88" x2="245.35" y2="588.88" stroke="#222" stroke-width="0.9"/>
<rect x="255.80" y="616.58" width="8.50" height="16.62" fill="#c8102e"/>
<line x1="260.05" y1="614.92" x2="260.05" y2="617.08" stroke="#222" stroke-width="0.9"/>
<line x1="258.05" y1="614.92" x2="262.05" y2="614.92" stroke="#222" stroke-width="0.9"/>
<rect x="272.40" y="617.69" width="8.80" height="15.51" fill="#124e86"/>
<line x1="276.80" y1="615.47" x2="276.80" y2="618.19" stroke="#222" stroke-width="0.9"/>
<line x1="274.80" y1="615.47" x2="278.80" y2="615.47" stroke="#222" stroke-width="0.9"/>
<line x1="235.50" y1="568.00" x2="235.50" y2="633.90" stroke="#1a1a1a" stroke-width="1.3"/>
<line x1="234.90" y1="633.20" x2="287.50" y2="633.20" stroke="#1a1a1a" stroke-width="1.4"/>
<line x1="232.70" y1="633.20" x2="235.50" y2="633.20" stroke="#1a1a1a" stroke-width="1.0"/>
<text x="228.70" y="635.70" font-size="7.2" text-anchor="end" fill="#111" stroke="#111" stroke-width="0.15">0.0</text>
<line x1="232.70" y1="622.12" x2="235.50" y2="622.12" stroke="#1a1a1a" stroke-width="1.0"/>
<text x="228.70" y="624.62" font-size="7.2" text-anchor="end" fill="#111" stroke="#111" stroke-width="0.15">0.1</text>
<line x1="232.70" y1="611.04" x2="235.50" y2="611.04" stroke="#1a1a1a" stroke-width="1.0"/>
<text x="228.70" y="613.54" font-size="7.2" text-anchor="end" fill="#111" stroke="#111" stroke-width="0.15">0.2</text>
<line x1="232.70" y1="599.96" x2="235.50" y2="599.96" stroke="#1a1a1a" stroke-width="1.0"/>
<text x="228.70" y="602.46" font-size="7.2" text-anchor="end" fill="#111" stroke="#111" stroke-width="0.15">0.3</text>
<line x1="232.70" y1="588.88" x2="235.50" y2="588.88" stroke="#1a1a1a" stroke-width="1.0"/>
<text x="228.70" y="591.38" font-size="7.2" text-anchor="end" fill="#111" stroke="#111" stroke-width="0.15">0.4</text>
<line x1="232.70" y1="577.80" x2="235.50" y2="577.80" stroke="#1a1a1a" stroke-width="1.0"/>
<text x="228.70" y="580.30" font-size="7.2" text-anchor="end" fill="#111" stroke="#111" stroke-width="0.15">0.5</text>
<line x1="243.35" y1="633.20" x2="243.35" y2="635.50" stroke="#1a1a1a" stroke-width="1.0"/>
<line x1="260.05" y1="633.20" x2="260.05" y2="635.50" stroke="#1a1a1a" stroke-width="1.0"/>
<line x1="276.80" y1="633.20" x2="276.80" y2="635.50" stroke="#1a1a1a" stroke-width="1.0"/>
<text x="261.50" y="564.20" font-size="9.8" text-anchor="middle" fill="#111" stroke="#111" stroke-width="0.25">HEL</text>
<text x="211.80" y="601.80" font-size="9" text-anchor="middle" textLength="71.5" lengthAdjust="spacingAndGlyphs" transform="rotate(-90 211.80 601.80)" fill="#111" stroke="#111" stroke-width="0.45">Percentage of EdU+ cells</text>
<polyline points="243.50,586.10 243.50,583.50 260.00,583.50 260.00,586.10" stroke="#1a1a1a" stroke-width="0.9" fill="none" stroke-linejoin="round"/>
<circle cx="250.30" cy="580.10" r="1.05" fill="#1a1a1a"/>
<circle cx="253.20" cy="580.10" r="1.05" fill="#1a1a1a"/>
<polyline points="243.50,576.00 243.50,573.40 277.00,573.40 277.00,576.00" stroke="#1a1a1a" stroke-width="0.9" fill="none" stroke-linejoin="round"/>
<circle cx="258.80" cy="570.00" r="1.05" fill="#1a1a1a"/>
<circle cx="261.70" cy="570.00" r="1.05" fill="#1a1a1a"/>
<text x="244.85" y="643.50" font-size="7.5" text-anchor="end" transform="rotate(-45 244.85 643.50)" fill="#111" stroke="#111" stroke-width="0.25">shCtrl</text>
<text x="261.55" y="643.50" font-size="7.5" text-anchor="end" transform="rotate(-45 261.55 643.50)" fill="#111" stroke="#111" stroke-width="0.25">shSPAG6-1</text>
<text x="278.30" y="643.50" font-size="7.5" text-anchor="end" transform="rotate(-45 278.30 643.50)" fill="#111" stroke="#111" stroke-width="0.25">shSPAG6-2</text>
<rect x="477.80" y="487.75" width="8.70" height="20.25" fill="#124e86"/>
<line x1="482.15" y1="485.50" x2="482.15" y2="488.25" stroke="#222" stroke-width="0.9"/>
<line x1="480.15" y1="485.50" x2="484.15" y2="485.50" stroke="#222" stroke-width="0.9"/>
<rect x="497.00" y="466.38" width="8.50" height="41.62" fill="#c8102e"/>
<line x1="501.25" y1="461.88" x2="501.25" y2="466.88" stroke="#222" stroke-width="0.9"/>
<line x1="499.25" y1="461.88" x2="503.25" y2="461.88" stroke="#222" stroke-width="0.9"/>
<line x1="472.00" y1="449.00" x2="472.00" y2="508.70" stroke="#1a1a1a" stroke-width="1.3"/>
<line x1="471.40" y1="508.00" x2="512.30" y2="508.00" stroke="#1a1a1a" stroke-width="1.4"/>
<line x1="469.20" y1="508.00" x2="472.00" y2="508.00" stroke="#1a1a1a" stroke-width="1.0"/>
<text x="466.40" y="510.50" font-size="7.2" text-anchor="end" fill="#111" stroke="#111" stroke-width="0.15">0.0</text>
<line x1="469.20" y1="496.75" x2="472.00" y2="496.75" stroke="#1a1a1a" stroke-width="1.0"/>
<text x="466.40" y="499.25" font-size="7.2" text-anchor="end" fill="#111" stroke="#111" stroke-width="0.15">0.1</text>
<line x1="469.20" y1="485.50" x2="472.00" y2="485.50" stroke="#1a1a1a" stroke-width="1.0"/>
<text x="466.40" y="488.00" font-size="7.2" text-anchor="end" fill="#111" stroke="#111" stroke-width="0.15">0.2</text>
<line x1="469.20" y1="474.25" x2="472.00" y2="474.25" stroke="#1a1a1a" stroke-width="1.0"/>
<text x="466.40" y="476.75" font-size="7.2" text-anchor="end" fill="#111" stroke="#111" stroke-width="0.15">0.3</text>
<line x1="469.20" y1="463.00" x2="472.00" y2="463.00" stroke="#1a1a1a" stroke-width="1.0"/>
<text x="466.40" y="465.50" font-size="7.2" text-anchor="end" fill="#111" stroke="#111" stroke-width="0.15">0.4</text>
<line x1="469.20" y1="451.75" x2="472.00" y2="451.75" stroke="#1a1a1a" stroke-width="1.0"/>
<text x="466.40" y="454.25" font-size="7.2" text-anchor="end" fill="#111" stroke="#111" stroke-width="0.15">0.5</text>
<line x1="482.15" y1="508.00" x2="482.15" y2="510.30" stroke="#1a1a1a" stroke-width="1.0"/>
<line x1="501.25" y1="508.00" x2="501.25" y2="510.30" stroke="#1a1a1a" stroke-width="1.0"/>
<text x="492.30" y="439.00" font-size="9.8" text-anchor="middle" fill="#111" stroke="#111" stroke-width="0.25">HL-60</text>
<text x="448.80" y="478.50" font-size="9.3" text-anchor="middle" textLength="71.5" lengthAdjust="spacingAndGlyphs" transform="rotate(-90 448.80 478.50)" fill="#111" stroke="#111" stroke-width="0.45">Percentage of EdU+ cells</text>
<polyline points="482.00,458.40 482.00,455.80 501.50,455.80 501.50,458.40" stroke="#1a1a1a" stroke-width="0.9" fill="none" stroke-linejoin="round"/>
<circle cx="491.75" cy="452.40" r="1.05" fill="#1a1a1a"/>
<text x="483.65" y="518.30" font-size="7.5" text-anchor="end" transform="rotate(-45 483.65 518.30)" fill="#111" stroke="#111" stroke-width="0.25">EV</text>
<text x="502.75" y="518.30" font-size="7.5" text-anchor="end" transform="rotate(-45 502.75 518.30)" fill="#111" stroke="#111" stroke-width="0.25">SPAG6</text>
<rect x="478.50" y="610.52" width="8.50" height="22.48" fill="#124e86"/>
<line x1="482.75" y1="609.40" x2="482.75" y2="611.02" stroke="#222" stroke-width="0.9"/>
<line x1="480.75" y1="609.40" x2="484.75" y2="609.40" stroke="#222" stroke-width="0.9"/>
<rect x="498.50" y="595.91" width="8.30" height="37.09" fill="#c8102e"/>
<line x1="502.65" y1="593.66" x2="502.65" y2="596.41" stroke="#222" stroke-width="0.9"/>
<line x1="500.65" y1="593.66" x2="504.65" y2="593.66" stroke="#222" stroke-width="0.9"/>
<line x1="473.60" y1="574.60" x2="473.60" y2="633.70" stroke="#1a1a1a" stroke-width="1.3"/>
<line x1="473.00" y1="633.00" x2="513.00" y2="633.00" stroke="#1a1a1a" stroke-width="1.4"/>
<line x1="470.80" y1="633.00" x2="473.60" y2="633.00" stroke="#1a1a1a" stroke-width="1.0"/>
<text x="468.00" y="635.50" font-size="7.2" text-anchor="end" fill="#111" stroke="#111" stroke-width="0.15">0.0</text>
<line x1="470.80" y1="621.76" x2="473.60" y2="621.76" stroke="#1a1a1a" stroke-width="1.0"/>
<text x="468.00" y="624.26" font-size="7.2" text-anchor="end" fill="#111" stroke="#111" stroke-width="0.15">0.1</text>
<line x1="470.80" y1="610.52" x2="473.60" y2="610.52" stroke="#1a1a1a" stroke-width="1.0"/>
<text x="468.00" y="613.02" font-size="7.2" text-anchor="end" fill="#111" stroke="#111" stroke-width="0.15">0.2</text>
<line x1="470.80" y1="599.28" x2="473.60" y2="599.28" stroke="#1a1a1a" stroke-width="1.0"/>
<text x="468.00" y="601.78" font-size="7.2" text-anchor="end" fill="#111" stroke="#111" stroke-width="0.15">0.3</text>
<line x1="470.80" y1="588.04" x2="473.60" y2="588.04" stroke="#1a1a1a" stroke-width="1.0"/>
<text x="468.00" y="590.54" font-size="7.2" text-anchor="end" fill="#111" stroke="#111" stroke-width="0.15">0.4</text>
<line x1="470.80" y1="576.80" x2="473.60" y2="576.80" stroke="#1a1a1a" stroke-width="1.0"/>
<text x="468.00" y="579.30" font-size="7.2" text-anchor="end" fill="#111" stroke="#111" stroke-width="0.15">0.5</text>
<line x1="482.75" y1="633.00" x2="482.75" y2="635.30" stroke="#1a1a1a" stroke-width="1.0"/>
<line x1="502.65" y1="633.00" x2="502.65" y2="635.30" stroke="#1a1a1a" stroke-width="1.0"/>
<text x="492.30" y="565.40" font-size="9.8" text-anchor="middle" fill="#111" stroke="#111" stroke-width="0.25">THP-1</text>
<text x="448.80" y="603.80" font-size="9.3" text-anchor="middle" textLength="71.5" lengthAdjust="spacingAndGlyphs" transform="rotate(-90 448.80 603.80)" fill="#111" stroke="#111" stroke-width="0.45">Percentage of EdU+ cells</text>
<polyline points="482.50,590.20 482.50,587.60 502.80,587.60 502.80,590.20" stroke="#1a1a1a" stroke-width="0.9" fill="none" stroke-linejoin="round"/>
<circle cx="491.20" cy="584.20" r="1.05" fill="#1a1a1a"/>
<circle cx="494.10" cy="584.20" r="1.05" fill="#1a1a1a"/>
<text x="484.25" y="643.30" font-size="7.5" text-anchor="end" transform="rotate(-45 484.25 643.30)" fill="#111" stroke="#111" stroke-width="0.25">EV</text>
<text x="504.15" y="643.30" font-size="7.5" text-anchor="end" transform="rotate(-45 504.15 643.30)" fill="#111" stroke="#111" stroke-width="0.25">SPAG6</text>
<clipPath id="c1"><rect x="240.70" y="17.80" width="42.30" height="31.90"/></clipPath>
<g clip-path="url(#c1)">
<rect x="240.70" y="17.80" width="42.30" height="31.90" fill="#efdab0"/>
<g fill="#9fa890" fill-opacity="0.45"><circle cx="259.8" cy="30.4" r="1.24"/><circle cx="260.4" cy="28.6" r="0.97"/><circle cx="248.5" cy="28.7" r="1.00"/><circle cx="274.2" cy="18.5" r="0.74"/><circle cx="244.5" cy="40.6" r="1.05"/><circle cx="242.5" cy="48.8" r="1.27"/><circle cx="268.4" cy="32.5" r="0.63"/><circle cx="241.3" cy="29.3" r="0.55"/><circle cx="248.7" cy="21.1" r="0.52"/><circle cx="260.3" cy="26.4" r="1.17"/><circle cx="262.7" cy="33.4" r="0.90"/><circle cx="268.7" cy="26.9" r="0.72"/><circle cx="282.9" cy="49.5" r="1.17"/><circle cx="270.6" cy="22.8" r="0.68"/><circle cx="252.9" cy="18.3" r="1.11"/><circle cx="257.6" cy="42.2" r="0.81"/><circle cx="281.2" cy="42.3" r="0.50"/><circle cx="249.6" cy="45.2" r="0.88"/><circle cx="282.2" cy="25.1" r="0.56"/><circle cx="267.3" cy="39.2" r="0.72"/><circle cx="244.4" cy="23.3" r="1.27"/><circle cx="272.8" cy="18.8" r="0.70"/><circle cx="245.0" cy="18.2" r="1.14"/><circle cx="248.2" cy="30.4" r="0.86"/><circle cx="248.8" cy="37.2" r="0.60"/><circle cx="267.9" cy="18.8" r="0.84"/><circle cx="249.7" cy="21.7" r="1.28"/><circle cx="274.7" cy="22.6" r="1.21"/><circle cx="249.6" cy="25.0" r="1.18"/><circle cx="267.8" cy="18.6" r="1.29"/><circle cx="249.7" cy="21.5" r="1.12"/><circle cx="254.6" cy="22.4" r="0.56"/><circle cx="244.5" cy="31.2" r="0.69"/><circle cx="266.1" cy="24.3" r="0.86"/><circle cx="281.3" cy="27.8" r="0.96"/><circle cx="277.4" cy="19.9" r="0.62"/><circle cx="279.1" cy="40.9" r="0.70"/><circle cx="248.7" cy="37.5" r="1.25"/><circle cx="249.0" cy="47.2" r="1.21"/><circle cx="266.2" cy="25.8" r="0.58"/><circle cx="242.3" cy="47.8" r="0.69"/><circle cx="270.5" cy="21.4" r="1.16"/><circle cx="265.9" cy="22.3" r="0.64"/><circle cx="271.2" cy="18.2" r="0.68"/><circle cx="264.4" cy="42.5" r="0.99"/><circle cx="252.6" cy="45.6" r="0.66"/><circle cx="241.4" cy="21.7" r="0.86"/><circle cx="243.3" cy="19.8" r="0.80"/><circle cx="264.9" cy="19.0" r="0.79"/><circle cx="278.4" cy="48.7" r="1.03"/><circle cx="269.9" cy="31.3" r="0.61"/><circle cx="242.2" cy="17.9" r="1.23"/><circle cx="270.4" cy="47.8" r="0.52"/><circle cx="267.6" cy="27.7" r="1.08"/><circle cx="254.2" cy="49.7" r="0.56"/><circle cx="263.8" cy="37.4" r="1.22"/><circle cx="271.9" cy="36.0" r="1.13"/><circle cx="279.4" cy="23.8" r="1.05"/><circle cx="278.8" cy="43.4" r="0.83"/><circle cx="274.1" cy="43.0" r="0.96"/><circle cx="267.1" cy="24.7" r="0.97"/><circle cx="266.5" cy="18.4" r="1.01"/><circle cx="282.7" cy="43.8" r="1.08"/><circle cx="257.1" cy="37.3" r="0.96"/><circle cx="259.3" cy="41.9" r="0.57"/><circle cx="272.4" cy="17.9" r="0.98"/><circle cx="261.0" cy="20.8" r="1.06"/><circle cx="261.7" cy="32.4" r="1.24"/><circle cx="251.5" cy="17.8" r="0.74"/><circle cx="269.4" cy="20.3" r="0.64"/><circle cx="279.0" cy="34.2" r="0.85"/><circle cx="278.4" cy="23.1" r="1.03"/><circle cx="249.1" cy="26.1" r="1.14"/><circle cx="279.4" cy="43.8" r="0.81"/><circle cx="265.4" cy="22.9" r="0.61"/><circle cx="261.7" cy="41.8" r="1.18"/><circle cx="270.8" cy="47.2" r="0.72"/><circle cx="247.9" cy="26.7" r="0.72"/><circle cx="249.8" cy="25.6" r="1.00"/><circle cx="261.6" cy="22.8" r="1.17"/><circle cx="282.2" cy="26.8" r="0.56"/><circle cx="242.0" cy="43.5" r="0.53"/><circle cx="270.7" cy="30.8" r="0.75"/><circle cx="274.2" cy="17.9" r="0.61"/><circle cx="259.9" cy="17.9" r="1.16"/><circle cx="250.7" cy="19.2" r="0.54"/><circle cx="267.3" cy="26.6" r="1.00"/><circle cx="268.4" cy="40.5" r="1.27"/><circle cx="269.7" cy="20.2" r="0.88"/><circle cx="248.3" cy="17.8" r="0.88"/><circle cx="270.9" cy="19.8" r="0.72"/><circle cx="255.3" cy="35.7" r="0.92"/><circle cx="266.7" cy="38.2" r="0.81"/><circle cx="274.2" cy="45.1" r="0.57"/><circle cx="280.1" cy="36.8" r="0.60"/><circle cx="259.9" cy="32.9" r="1.23"/><circle cx="256.6" cy="30.7" r="1.20"/><circle cx="274.4" cy="46.9" r="0.87"/><circle cx="268.3" cy="20.3" r="1.08"/><circle cx="275.3" cy="33.5" r="1.07"/><circle cx="249.7" cy="44.8" r="1.28"/><circle cx="282.0" cy="29.6" r="1.13"/><circle cx="254.3" cy="45.2" r="1.18"/><circle cx="255.4" cy="18.4" r="0.85"/><circle cx="264.0" cy="38.7" r="0.89"/><circle cx="241.9" cy="40.5" r="0.55"/><circle cx="274.5" cy="19.7" r="0.77"/><circle cx="274.0" cy="19.2" r="0.62"/><circle cx="262.5" cy="36.8" r="1.17"/><circle cx="269.9" cy="47.0" r="0.89"/><circle cx="280.8" cy="18.4" r="0.68"/><circle cx="263.0" cy="22.2" r="1.08"/><circle cx="267.7" cy="29.1" r="1.17"/><circle cx="264.4" cy="22.7" r="0.80"/><circle cx="276.5" cy="44.8" r="0.67"/><circle cx="276.7" cy="48.1" r="0.92"/><circle cx="264.9" cy="20.2" r="0.93"/><circle cx="262.0" cy="32.1" r="0.52"/><circle cx="281.7" cy="28.9" r="0.82"/><circle cx="274.6" cy="30.5" r="0.89"/><circle cx="269.9" cy="18.2" r="0.93"/><circle cx="258.2" cy="47.5" r="1.24"/><circle cx="252.1" cy="27.4" r="0.60"/><circle cx="259.0" cy="40.8" r="1.22"/><circle cx="260.9" cy="22.9" r="0.65"/><circle cx="266.8" cy="46.0" r="0.60"/><circle cx="273.7" cy="17.9" r="0.66"/><circle cx="250.3" cy="35.3" r="0.76"/><circle cx="255.7" cy="32.6" r="0.58"/><circle cx="271.6" cy="18.9" r="0.91"/><circle cx="251.3" cy="20.2" r="0.92"/><circle cx="259.2" cy="24.5" r="0.83"/><circle cx="263.1" cy="19.5" r="0.66"/><circle cx="267.4" cy="33.4" r="0.92"/><circle cx="276.7" cy="32.3" r="1.19"/><circle cx="250.5" cy="37.5" r="1.15"/><circle cx="278.9" cy="22.8" r="0.75"/><circle cx="279.7" cy="20.6" r="1.30"/><circle cx="278.2" cy="19.1" r="0.69"/><circle cx="271.4" cy="21.5" r="0.58"/><circle cx="275.9" cy="25.8" r="1.13"/><circle cx="246.0" cy="25.2" r="1.05"/><circle cx="241.5" cy="20.2" r="1.05"/><circle cx="279.3" cy="48.1" r="0.59"/><circle cx="262.1" cy="38.3" r="0.90"/><circle cx="269.7" cy="20.0" r="0.56"/><circle cx="245.2" cy="18.0" r="0.94"/><circle cx="262.5" cy="30.7" r="0.62"/><circle cx="248.5" cy="20.3" r="1.17"/><circle cx="282.6" cy="46.1" r="0.58"/><circle cx="243.3" cy="47.3" r="0.87"/><circle cx="273.0" cy="23.1" r="0.87"/><circle cx="262.5" cy="26.1" r="0.98"/><circle cx="241.3" cy="35.9" r="1.18"/><circle cx="248.4" cy="26.8" r="1.09"/><circle cx="257.8" cy="20.1" r="0.63"/><circle cx="262.4" cy="17.8" r="1.21"/><circle cx="274.6" cy="36.0" r="1.19"/><circle cx="267.3" cy="25.3" r="0.98"/><circle cx="262.0" cy="48.8" r="1.14"/><circle cx="251.6" cy="45.3" r="1.10"/><circle cx="273.6" cy="40.8" r="0.82"/><circle cx="278.6" cy="43.8" r="1.06"/><circle cx="273.2" cy="38.6" r="0.82"/><circle cx="271.3" cy="18.3" r="0.77"/><circle cx="260.5" cy="17.8" r="0.78"/><circle cx="267.7" cy="32.8" r="0.69"/><circle cx="280.7" cy="34.5" r="0.77"/><circle cx="268.6" cy="30.8" r="0.93"/><circle cx="257.2" cy="49.7" r="1.01"/></g>
<g fill="#b8b79c" fill-opacity="0.35"><circle cx="270.4" cy="40.2" r="1.88"/><circle cx="241.7" cy="34.8" r="1.61"/><circle cx="251.6" cy="27.5" r="0.86"/><circle cx="249.0" cy="26.7" r="0.91"/><circle cx="251.3" cy="45.8" r="1.41"/><circle cx="262.2" cy="48.3" r="1.42"/><circle cx="282.8" cy="35.6" r="1.69"/><circle cx="243.9" cy="34.1" r="1.64"/><circle cx="242.6" cy="46.8" r="0.98"/><circle cx="260.7" cy="21.0" r="1.35"/><circle cx="266.6" cy="18.6" r="1.84"/><circle cx="258.5" cy="31.7" r="1.46"/><circle cx="256.2" cy="24.1" r="1.52"/><circle cx="264.4" cy="24.0" r="1.59"/><circle cx="253.2" cy="17.9" r="1.07"/><circle cx="242.5" cy="20.7" r="1.63"/><circle cx="257.2" cy="45.5" r="1.62"/><circle cx="242.8" cy="49.2" r="1.84"/><circle cx="243.8" cy="45.8" r="1.27"/><circle cx="260.9" cy="48.6" r="1.07"/><circle cx="262.8" cy="47.1" r="1.60"/><circle cx="260.5" cy="48.8" r="1.70"/><circle cx="266.2" cy="19.7" r="1.49"/><circle cx="260.0" cy="21.8" r="0.86"/><circle cx="263.0" cy="19.9" r="1.29"/><circle cx="269.0" cy="29.3" r="1.09"/><circle cx="265.3" cy="28.1" r="1.66"/><circle cx="263.2" cy="49.6" r="1.85"/><circle cx="271.8" cy="22.7" r="0.93"/><circle cx="278.5" cy="41.1" r="1.49"/><circle cx="255.9" cy="23.7" r="1.55"/><circle cx="264.6" cy="33.9" r="1.50"/><circle cx="272.6" cy="21.5" r="1.07"/><circle cx="282.1" cy="46.3" r="1.77"/><circle cx="242.4" cy="18.6" r="1.10"/><circle cx="258.7" cy="35.1" r="0.91"/><circle cx="263.6" cy="18.9" r="0.90"/><circle cx="269.3" cy="32.5" r="1.49"/><circle cx="256.5" cy="30.0" r="1.03"/><circle cx="255.2" cy="39.6" r="1.72"/><circle cx="243.8" cy="19.8" r="1.69"/><circle cx="267.1" cy="40.5" r="1.03"/><circle cx="258.7" cy="23.3" r="1.69"/><circle cx="256.3" cy="36.2" r="1.89"/><circle cx="254.5" cy="32.4" r="1.62"/><circle cx="279.7" cy="28.4" r="1.21"/><circle cx="244.8" cy="44.6" r="0.89"/><circle cx="244.2" cy="33.0" r="1.33"/><circle cx="269.7" cy="24.4" r="1.65"/><circle cx="243.9" cy="22.1" r="1.53"/><circle cx="244.2" cy="24.6" r="1.60"/><circle cx="270.1" cy="24.0" r="0.96"/><circle cx="255.8" cy="38.8" r="1.20"/><circle cx="245.7" cy="38.2" r="1.43"/><circle cx="279.6" cy="47.2" r="1.80"/><circle cx="259.2" cy="41.8" r="1.14"/><circle cx="254.1" cy="27.5" r="1.83"/><circle cx="278.5" cy="23.0" r="1.20"/><circle cx="256.2" cy="26.4" r="1.24"/><circle cx="257.1" cy="21.6" r="1.42"/><circle cx="274.4" cy="32.1" r="1.72"/><circle cx="264.5" cy="21.1" r="1.63"/><circle cx="278.0" cy="23.9" r="0.82"/><circle cx="262.5" cy="32.3" r="1.42"/><circle cx="281.6" cy="36.1" r="1.68"/><circle cx="243.4" cy="32.4" r="1.67"/><circle cx="244.3" cy="19.0" r="1.61"/><circle cx="278.7" cy="19.1" r="1.50"/><circle cx="246.8" cy="39.6" r="1.51"/><circle cx="251.1" cy="22.3" r="1.64"/><circle cx="262.8" cy="40.3" r="1.23"/><circle cx="255.0" cy="48.4" r="1.54"/><circle cx="261.6" cy="32.0" r="1.59"/><circle cx="270.7" cy="46.2" r="1.25"/><circle cx="275.6" cy="36.6" r="1.74"/><circle cx="274.8" cy="43.0" r="1.78"/><circle cx="281.2" cy="35.7" r="1.38"/><circle cx="270.7" cy="41.8" r="1.26"/><circle cx="258.5" cy="20.4" r="1.62"/><circle cx="282.6" cy="26.7" r="0.98"/><circle cx="249.3" cy="28.3" r="1.12"/><circle cx="281.7" cy="18.6" r="1.14"/><circle cx="245.6" cy="35.9" r="1.65"/><circle cx="248.3" cy="18.7" r="1.30"/><circle cx="265.4" cy="46.0" r="0.84"/><circle cx="245.3" cy="21.3" r="1.04"/><circle cx="250.7" cy="38.5" r="1.45"/><circle cx="250.2" cy="21.4" r="1.11"/><circle cx="248.0" cy="40.0" r="1.14"/><circle cx="263.9" cy="42.3" r="1.33"/><circle cx="251.7" cy="45.1" r="1.81"/><circle cx="255.2" cy="32.4" r="1.85"/><circle cx="261.1" cy="22.3" r="0.85"/><circle cx="280.8" cy="41.7" r="1.22"/><circle cx="263.0" cy="31.3" r="1.10"/><circle cx="282.6" cy="36.3" r="1.06"/><circle cx="241.2" cy="29.8" r="1.21"/><circle cx="274.4" cy="38.4" r="1.47"/><circle cx="247.4" cy="20.7" r="1.15"/><circle cx="251.7" cy="44.4" r="1.37"/><circle cx="267.6" cy="49.4" r="1.09"/><circle cx="263.3" cy="20.5" r="1.65"/><circle cx="240.8" cy="42.5" r="1.73"/><circle cx="275.5" cy="19.0" r="1.10"/><circle cx="271.0" cy="19.3" r="1.33"/><circle cx="260.5" cy="47.9" r="1.45"/><circle cx="277.0" cy="24.6" r="1.67"/><circle cx="258.3" cy="46.3" r="0.90"/><circle cx="275.7" cy="22.0" r="1.40"/><circle cx="262.9" cy="20.7" r="1.72"/><circle cx="253.9" cy="24.8" r="0.88"/><circle cx="253.6" cy="29.7" r="1.59"/><circle cx="255.9" cy="37.4" r="0.92"/><circle cx="257.4" cy="29.5" r="1.86"/><circle cx="275.8" cy="36.2" r="0.81"/><circle cx="256.7" cy="38.2" r="1.06"/><circle cx="264.6" cy="29.4" r="0.81"/><circle cx="282.6" cy="41.6" r="1.03"/><circle cx="266.8" cy="24.2" r="1.21"/><circle cx="263.5" cy="24.4" r="1.17"/><circle cx="257.3" cy="36.6" r="1.08"/><circle cx="249.2" cy="39.0" r="1.16"/><circle cx="280.7" cy="32.9" r="1.60"/><circle cx="254.7" cy="42.7" r="0.90"/><circle cx="246.7" cy="19.3" r="1.55"/><circle cx="270.7" cy="21.2" r="1.24"/><circle cx="276.1" cy="34.0" r="0.90"/><circle cx="250.3" cy="20.7" r="0.94"/><circle cx="257.9" cy="18.9" r="1.81"/><circle cx="258.8" cy="31.1" r="1.51"/><circle cx="273.1" cy="42.5" r="1.22"/><circle cx="254.7" cy="27.9" r="0.82"/><circle cx="257.6" cy="37.9" r="1.88"/><circle cx="274.1" cy="36.4" r="1.47"/><circle cx="241.5" cy="25.4" r="1.18"/><circle cx="268.2" cy="19.5" r="1.22"/><circle cx="262.2" cy="41.2" r="1.71"/><circle cx="266.6" cy="20.7" r="1.64"/><circle cx="278.9" cy="32.4" r="1.19"/><circle cx="261.9" cy="20.3" r="1.58"/></g>
</g>
<rect x="241.30" y="18.40" width="41.10" height="30.70" fill="none" stroke="#111" stroke-width="1.2"/>
<clipPath id="c2"><rect x="240.70" y="58.00" width="42.30" height="31.80"/></clipPath>
<g clip-path="url(#c2)">
<rect x="240.70" y="58.00" width="42.30" height="31.80" fill="#f6e0c8"/>
<g fill="#86aaa4" fill-opacity="0.7"><circle cx="260.8" cy="78.9" r="0.73"/><circle cx="246.7" cy="58.3" r="0.59"/><circle cx="252.3" cy="83.8" r="0.75"/><circle cx="266.1" cy="75.8" r="0.73"/><circle cx="246.8" cy="72.0" r="0.48"/><circle cx="279.0" cy="59.9" r="0.81"/><circle cx="243.9" cy="79.8" r="0.57"/><circle cx="257.8" cy="84.8" r="0.41"/><circle cx="243.3" cy="87.1" r="0.65"/><circle cx="244.5" cy="89.4" r="0.87"/><circle cx="245.5" cy="71.5" r="0.47"/><circle cx="253.9" cy="77.8" r="0.48"/><circle cx="270.2" cy="59.6" r="0.49"/><circle cx="275.2" cy="70.7" r="0.61"/><circle cx="265.9" cy="73.2" r="0.59"/><circle cx="242.0" cy="81.1" r="0.88"/><circle cx="282.0" cy="79.1" r="0.58"/><circle cx="256.1" cy="79.9" r="0.74"/><circle cx="245.5" cy="65.5" r="0.58"/><circle cx="262.3" cy="83.8" r="0.65"/><circle cx="241.9" cy="84.2" r="0.62"/><circle cx="262.7" cy="65.1" r="0.61"/><circle cx="257.1" cy="82.5" r="0.45"/><circle cx="264.0" cy="63.7" r="0.75"/><circle cx="242.3" cy="66.8" r="0.57"/><circle cx="267.6" cy="59.7" r="0.63"/><circle cx="249.5" cy="67.0" r="0.64"/><circle cx="281.3" cy="73.3" r="0.88"/></g>
<g fill="#b9c6b6" fill-opacity="0.4"><circle cx="247.8" cy="87.4" r="1.02"/><circle cx="248.7" cy="81.8" r="1.35"/><circle cx="241.0" cy="66.5" r="1.26"/><circle cx="255.2" cy="65.7" r="0.81"/><circle cx="242.4" cy="77.7" r="1.39"/><circle cx="282.9" cy="74.0" r="0.81"/><circle cx="254.3" cy="83.0" r="1.30"/><circle cx="267.7" cy="65.3" r="1.12"/><circle cx="260.9" cy="77.9" r="0.96"/><circle cx="280.7" cy="86.4" r="0.90"/><circle cx="253.0" cy="85.8" r="0.97"/><circle cx="280.6" cy="74.4" r="1.22"/><circle cx="270.5" cy="64.8" r="0.97"/><circle cx="251.5" cy="79.7" r="1.22"/><circle cx="246.3" cy="86.2" r="1.05"/><circle cx="250.9" cy="71.8" r="1.39"/><circle cx="264.4" cy="77.9" r="1.35"/><circle cx="281.4" cy="82.2" r="1.05"/><circle cx="265.6" cy="86.7" r="1.27"/><circle cx="265.2" cy="69.0" r="1.02"/><circle cx="271.8" cy="75.9" r="0.81"/><circle cx="270.7" cy="86.7" r="1.28"/></g>
</g>
<rect x="241.30" y="58.60" width="41.10" height="30.60" fill="none" stroke="#111" stroke-width="1.2"/>
<clipPath id="c3"><rect x="240.70" y="100.50" width="42.30" height="31.90"/></clipPath>
<g clip-path="url(#c3)">
<rect x="240.70" y="100.50" width="42.30" height="31.90" fill="#e9dbb5"/>
<g fill="#93a59c" fill-opacity="0.6"><circle cx="251.7" cy="122.4" r="0.74"/><circle cx="276.6" cy="106.4" r="0.52"/><circle cx="246.9" cy="107.7" r="0.77"/><circle cx="246.2" cy="117.4" r="0.51"/><circle cx="253.2" cy="114.3" r="0.82"/><circle cx="266.4" cy="101.0" r="0.54"/><circle cx="246.9" cy="128.3" r="0.80"/><circle cx="274.8" cy="126.9" r="0.77"/><circle cx="280.9" cy="125.8" r="0.53"/><circle cx="276.7" cy="116.0" r="0.78"/><circle cx="264.6" cy="114.2" r="0.58"/><circle cx="258.9" cy="110.5" r="0.46"/><circle cx="275.4" cy="126.0" r="0.89"/><circle cx="269.9" cy="118.2" r="0.77"/><circle cx="246.4" cy="122.1" r="0.62"/><circle cx="248.2" cy="107.0" r="0.66"/><circle cx="251.4" cy="115.2" r="0.70"/><circle cx="257.4" cy="104.7" r="0.65"/><circle cx="250.7" cy="108.0" r="0.50"/><circle cx="256.2" cy="102.8" r="0.73"/><circle cx="281.0" cy="112.9" r="0.76"/><circle cx="280.2" cy="101.9" r="0.47"/><circle cx="274.8" cy="127.2" r="0.72"/><circle cx="247.5" cy="113.7" r="0.83"/><circle cx="278.2" cy="126.1" r="0.50"/><circle cx="276.8" cy="112.5" r="0.76"/><circle cx="246.5" cy="131.5" r="0.70"/><circle cx="271.3" cy="107.3" r="0.71"/><circle cx="265.3" cy="119.4" r="0.58"/><circle cx="271.5" cy="111.4" r="0.55"/><circle cx="247.7" cy="122.3" r="0.46"/><circle cx="250.2" cy="102.7" r="0.72"/><circle cx="264.2" cy="117.8" r="0.42"/><circle cx="259.3" cy="111.4" r="0.45"/><circle cx="240.8" cy="132.3" r="0.46"/><circle cx="253.5" cy="109.1" r="0.70"/><circle cx="244.0" cy="115.5" r="0.58"/><circle cx="276.0" cy="100.7" r="0.57"/><circle cx="261.7" cy="131.4" r="0.66"/><circle cx="260.8" cy="121.9" r="0.55"/></g>
<g fill="#b9bea6" fill-opacity="0.4"><circle cx="242.0" cy="116.5" r="1.34"/><circle cx="271.9" cy="108.7" r="1.18"/><circle cx="276.6" cy="108.7" r="1.11"/><circle cx="255.7" cy="108.3" r="0.90"/><circle cx="249.3" cy="111.7" r="0.73"/><circle cx="257.5" cy="103.3" r="1.23"/><circle cx="266.1" cy="100.6" r="1.24"/><circle cx="248.8" cy="115.8" r="1.09"/><circle cx="254.8" cy="109.7" r="1.00"/><circle cx="246.5" cy="128.0" r="0.78"/><circle cx="275.5" cy="107.5" r="0.91"/><circle cx="257.1" cy="101.6" r="0.79"/><circle cx="256.0" cy="114.6" r="1.31"/><circle cx="282.6" cy="101.9" r="1.07"/><circle cx="246.2" cy="126.1" r="0.93"/><circle cx="278.5" cy="117.9" r="0.79"/><circle cx="240.9" cy="108.4" r="1.31"/><circle cx="247.0" cy="115.8" r="0.96"/><circle cx="255.3" cy="126.1" r="0.85"/><circle cx="271.1" cy="121.8" r="1.35"/><circle cx="262.7" cy="129.9" r="1.01"/><circle cx="264.9" cy="120.3" r="1.29"/><circle cx="278.7" cy="104.2" r="0.80"/><circle cx="263.3" cy="126.4" r="1.07"/><circle cx="253.4" cy="131.2" r="0.91"/><circle cx="244.4" cy="102.2" r="0.72"/><circle cx="271.4" cy="103.9" r="1.20"/><circle cx="277.3" cy="132.4" r="1.27"/><circle cx="258.6" cy="120.3" r="1.28"/><circle cx="271.0" cy="109.8" r="1.23"/><circle cx="245.3" cy="110.3" r="1.40"/><circle cx="260.6" cy="109.0" r="1.25"/><circle cx="259.7" cy="100.6" r="0.72"/><circle cx="251.7" cy="111.1" r="1.36"/><circle cx="251.2" cy="127.6" r="1.30"/><circle cx="258.3" cy="132.2" r="1.23"/><circle cx="261.2" cy="108.8" r="1.02"/><circle cx="278.9" cy="117.6" r="0.84"/><circle cx="256.6" cy="115.7" r="0.83"/><circle cx="264.9" cy="101.6" r="1.27"/></g>
</g>
<rect x="241.30" y="101.10" width="41.10" height="30.70" fill="none" stroke="#111" stroke-width="1.2"/>
<clipPath id="c4"><rect x="240.70" y="143.20" width="42.30" height="31.80"/></clipPath>
<g clip-path="url(#c4)">
<rect x="240.70" y="143.20" width="42.30" height="31.80" fill="#f7d8ad"/>
<linearGradient id="gc4" x1="0" y1="0" x2="0" y2="1"><stop offset="0" stop-color="#9a7656" stop-opacity="0"/><stop offset="1" stop-color="#9a7656" stop-opacity="0.45"/></linearGradient>
<rect x="240.70" y="143.20" width="42.30" height="31.80" fill="url(#gc4)"/>
<g fill="#8c8f8c" fill-opacity="0.6"><circle cx="245.2" cy="165.5" r="0.86"/><circle cx="280.5" cy="151.8" r="0.58"/><circle cx="271.8" cy="164.1" r="0.61"/><circle cx="269.6" cy="155.8" r="0.94"/><circle cx="245.7" cy="150.3" r="1.03"/><circle cx="255.8" cy="151.5" r="0.96"/><circle cx="267.4" cy="148.0" r="0.79"/><circle cx="268.8" cy="148.4" r="0.86"/><circle cx="245.9" cy="153.9" r="0.46"/><circle cx="249.3" cy="174.3" r="0.68"/><circle cx="282.6" cy="157.1" r="0.83"/><circle cx="277.6" cy="165.0" r="0.48"/><circle cx="265.6" cy="163.4" r="0.53"/><circle cx="244.7" cy="171.0" r="0.76"/><circle cx="248.9" cy="157.6" r="0.55"/><circle cx="274.5" cy="159.1" r="0.47"/><circle cx="275.3" cy="146.0" r="0.60"/><circle cx="241.9" cy="166.7" r="0.48"/><circle cx="262.9" cy="146.2" r="0.74"/><circle cx="269.7" cy="160.2" r="0.72"/><circle cx="261.2" cy="157.1" r="0.82"/><circle cx="244.7" cy="158.3" r="0.57"/><circle cx="277.3" cy="173.1" r="0.45"/><circle cx="246.8" cy="165.6" r="0.80"/><circle cx="241.5" cy="165.6" r="1.06"/><circle cx="258.6" cy="154.3" r="0.80"/><circle cx="280.4" cy="151.6" r="0.61"/><circle cx="248.7" cy="163.2" r="0.73"/><circle cx="251.5" cy="155.5" r="0.42"/><circle cx="253.9" cy="174.5" r="0.81"/><circle cx="252.7" cy="173.0" r="0.65"/><circle cx="251.3" cy="144.3" r="0.50"/><circle cx="249.1" cy="150.5" r="1.01"/><circle cx="251.9" cy="151.1" r="0.82"/><circle cx="279.5" cy="152.5" r="0.93"/></g>
<g fill="#b2a390" fill-opacity="0.5"><circle cx="256.3" cy="161.0" r="1.28"/><circle cx="280.6" cy="167.3" r="1.21"/><circle cx="276.3" cy="154.9" r="1.11"/><circle cx="281.3" cy="160.6" r="1.42"/><circle cx="254.0" cy="172.3" r="1.29"/><circle cx="251.2" cy="172.9" r="1.18"/><circle cx="255.1" cy="151.6" r="0.88"/><circle cx="249.2" cy="165.2" r="0.91"/><circle cx="251.6" cy="157.4" r="1.24"/><circle cx="256.8" cy="168.2" r="1.01"/><circle cx="256.3" cy="156.7" r="0.90"/><circle cx="250.1" cy="147.9" r="1.38"/><circle cx="246.9" cy="164.4" r="0.98"/><circle cx="268.1" cy="164.1" r="1.08"/><circle cx="280.2" cy="164.1" r="1.25"/><circle cx="242.7" cy="156.1" r="1.01"/><circle cx="260.6" cy="172.9" r="1.49"/><circle cx="243.3" cy="164.8" r="1.55"/><circle cx="263.6" cy="146.3" r="1.49"/><circle cx="258.7" cy="174.4" r="1.50"/><circle cx="275.8" cy="172.8" r="0.85"/><circle cx="274.3" cy="152.9" r="0.91"/></g>
</g>
<rect x="241.30" y="143.80" width="41.10" height="30.60" fill="none" stroke="#111" stroke-width="1.2"/>
<clipPath id="c5"><rect x="240.70" y="182.90" width="42.30" height="31.70"/></clipPath>
<g clip-path="url(#c5)">
<rect x="240.70" y="182.90" width="42.30" height="31.70" fill="#f8e0b8"/>
<g fill="#bba894" fill-opacity="0.5"><circle cx="281.5" cy="183.3" r="1.19"/><circle cx="247.4" cy="214.2" r="0.61"/><circle cx="277.9" cy="204.5" r="1.29"/><circle cx="283.0" cy="190.5" r="0.87"/><circle cx="270.7" cy="191.8" r="0.81"/><circle cx="250.4" cy="210.1" r="1.30"/><circle cx="274.4" cy="190.0" r="1.34"/><circle cx="262.3" cy="190.2" r="0.96"/><circle cx="258.5" cy="185.4" r="1.05"/><circle cx="255.9" cy="201.0" r="1.34"/><circle cx="268.0" cy="195.7" r="1.29"/><circle cx="282.8" cy="198.4" r="1.36"/><circle cx="241.5" cy="187.3" r="0.74"/><circle cx="280.4" cy="204.8" r="1.18"/><circle cx="252.8" cy="198.6" r="1.31"/><circle cx="244.9" cy="186.6" r="0.64"/><circle cx="260.5" cy="209.5" r="1.04"/><circle cx="257.7" cy="198.8" r="0.74"/><circle cx="280.8" cy="194.1" r="0.79"/><circle cx="253.9" cy="209.1" r="0.85"/><circle cx="279.0" cy="193.6" r="0.95"/><circle cx="243.8" cy="211.7" r="1.24"/><circle cx="260.8" cy="186.6" r="0.99"/><circle cx="256.6" cy="209.5" r="1.34"/><circle cx="272.0" cy="192.0" r="0.63"/><circle cx="278.5" cy="212.8" r="0.73"/><circle cx="261.8" cy="198.1" r="1.38"/><circle cx="242.5" cy="184.9" r="1.27"/><circle cx="264.8" cy="197.6" r="1.22"/><circle cx="265.8" cy="204.8" r="0.80"/><circle cx="244.3" cy="183.2" r="0.87"/><circle cx="268.1" cy="194.9" r="0.88"/><circle cx="266.9" cy="205.3" r="1.08"/><circle cx="253.9" cy="208.9" r="1.24"/><circle cx="278.5" cy="211.2" r="0.61"/><circle cx="269.0" cy="193.9" r="0.91"/><circle cx="262.6" cy="187.5" r="0.80"/><circle cx="282.4" cy="193.4" r="1.33"/><circle cx="269.7" cy="192.9" r="0.85"/><circle cx="266.3" cy="205.2" r="0.87"/><circle cx="243.2" cy="188.4" r="1.29"/><circle cx="271.5" cy="186.3" r="1.27"/><circle cx="265.1" cy="193.5" r="1.32"/><circle cx="246.1" cy="186.0" r="0.87"/><circle cx="271.9" cy="200.3" r="0.99"/><circle cx="279.1" cy="195.4" r="1.23"/><circle cx="240.9" cy="207.7" r="0.72"/><circle cx="268.4" cy="209.5" r="1.12"/><circle cx="265.2" cy="200.3" r="1.20"/><circle cx="256.3" cy="190.3" r="1.05"/><circle cx="262.7" cy="186.6" r="1.02"/><circle cx="260.4" cy="187.9" r="1.17"/><circle cx="273.6" cy="193.6" r="1.29"/><circle cx="282.5" cy="203.9" r="0.93"/><circle cx="252.2" cy="187.0" r="0.82"/><circle cx="282.9" cy="184.8" r="1.33"/><circle cx="270.2" cy="207.7" r="0.68"/><circle cx="268.0" cy="189.4" r="1.14"/><circle cx="274.3" cy="205.8" r="1.03"/><circle cx="278.1" cy="190.2" r="0.73"/><circle cx="277.3" cy="184.7" r="0.93"/><circle cx="258.5" cy="210.7" r="0.90"/><circle cx="264.8" cy="198.8" r="0.98"/><circle cx="260.7" cy="197.7" r="1.08"/><circle cx="259.0" cy="196.3" r="1.34"/><circle cx="282.0" cy="190.7" r="1.36"/><circle cx="241.7" cy="193.4" r="1.32"/><circle cx="247.9" cy="204.1" r="1.40"/><circle cx="266.6" cy="197.5" r="0.62"/><circle cx="259.8" cy="197.6" r="1.23"/><circle cx="257.2" cy="208.4" r="0.92"/><circle cx="267.6" cy="207.0" r="0.73"/><circle cx="281.0" cy="197.2" r="0.98"/><circle cx="281.8" cy="201.0" r="1.02"/><circle cx="249.7" cy="189.9" r="1.21"/><circle cx="262.1" cy="203.8" r="1.16"/><circle cx="269.6" cy="193.2" r="1.29"/><circle cx="259.7" cy="188.5" r="1.29"/><circle cx="278.8" cy="186.7" r="1.31"/><circle cx="269.8" cy="191.5" r="1.06"/><circle cx="279.7" cy="187.7" r="1.13"/><circle cx="250.9" cy="187.6" r="1.36"/><circle cx="282.8" cy="203.7" r="1.23"/><circle cx="257.4" cy="196.5" r="1.09"/><circle cx="275.1" cy="205.1" r="0.98"/><circle cx="267.2" cy="195.7" r="1.25"/><circle cx="277.5" cy="207.4" r="0.86"/><circle cx="256.8" cy="214.0" r="0.90"/><circle cx="268.8" cy="186.0" r="0.71"/><circle cx="250.2" cy="204.2" r="0.78"/><circle cx="268.5" cy="185.2" r="1.15"/><circle cx="270.4" cy="191.0" r="0.79"/><circle cx="251.3" cy="198.6" r="0.75"/><circle cx="250.6" cy="208.4" r="1.35"/><circle cx="247.5" cy="199.4" r="1.13"/><circle cx="280.9" cy="200.6" r="1.03"/><circle cx="273.3" cy="207.9" r="1.17"/><circle cx="267.0" cy="208.6" r="0.63"/><circle cx="273.2" cy="189.9" r="0.88"/><circle cx="257.4" cy="199.4" r="1.07"/><circle cx="265.5" cy="192.9" r="0.89"/><circle cx="268.4" cy="212.4" r="0.90"/><circle cx="241.0" cy="210.0" r="1.31"/><circle cx="276.3" cy="203.1" r="0.93"/><circle cx="243.5" cy="212.1" r="0.95"/><circle cx="245.9" cy="202.7" r="0.64"/><circle cx="257.1" cy="202.0" r="1.24"/><circle cx="255.9" cy="189.1" r="0.88"/><circle cx="275.4" cy="185.8" r="0.71"/><circle cx="255.4" cy="213.1" r="1.31"/></g>
<g fill="#cbb8a0" fill-opacity="0.4"><circle cx="281.6" cy="184.4" r="1.50"/><circle cx="246.8" cy="201.5" r="1.79"/><circle cx="261.1" cy="204.8" r="1.68"/><circle cx="262.1" cy="195.3" r="1.24"/><circle cx="271.2" cy="214.0" r="1.97"/><circle cx="279.8" cy="209.8" r="1.66"/><circle cx="261.7" cy="186.7" r="1.80"/><circle cx="248.5" cy="212.4" r="1.86"/><circle cx="252.7" cy="211.6" r="1.76"/><circle cx="275.0" cy="186.3" r="1.27"/><circle cx="247.3" cy="212.7" r="1.24"/><circle cx="259.5" cy="206.7" r="1.40"/><circle cx="267.4" cy="202.7" r="1.38"/><circle cx="279.9" cy="204.1" r="1.74"/><circle cx="271.6" cy="202.5" r="1.17"/><circle cx="279.4" cy="212.8" r="1.10"/><circle cx="256.3" cy="188.8" r="1.13"/><circle cx="265.2" cy="196.6" r="1.13"/><circle cx="261.1" cy="205.0" r="1.14"/><circle cx="268.0" cy="203.8" r="1.83"/><circle cx="282.9" cy="210.8" r="1.37"/><circle cx="244.2" cy="193.5" r="1.17"/><circle cx="276.8" cy="194.5" r="1.56"/><circle cx="271.4" cy="197.5" r="2.00"/><circle cx="268.6" cy="201.8" r="1.17"/><circle cx="250.9" cy="204.7" r="1.44"/><circle cx="265.2" cy="210.8" r="1.68"/><circle cx="276.1" cy="194.5" r="1.07"/><circle cx="252.4" cy="211.6" r="1.24"/><circle cx="245.9" cy="185.1" r="2.00"/><circle cx="249.6" cy="185.3" r="1.36"/><circle cx="242.5" cy="206.0" r="1.69"/><circle cx="258.6" cy="205.9" r="1.02"/><circle cx="274.4" cy="203.3" r="1.75"/><circle cx="246.7" cy="213.1" r="1.99"/><circle cx="261.0" cy="193.0" r="1.52"/><circle cx="270.7" cy="197.5" r="1.54"/><circle cx="281.0" cy="205.4" r="1.39"/><circle cx="279.2" cy="207.9" r="1.02"/><circle cx="261.6" cy="192.5" r="1.31"/><circle cx="256.3" cy="209.4" r="1.61"/><circle cx="251.1" cy="185.0" r="1.15"/><circle cx="256.6" cy="200.1" r="1.50"/><circle cx="258.7" cy="199.6" r="1.31"/><circle cx="281.0" cy="189.9" r="1.37"/><circle cx="268.6" cy="209.5" r="1.40"/><circle cx="267.5" cy="190.9" r="1.01"/><circle cx="281.7" cy="185.0" r="1.76"/><circle cx="242.0" cy="192.4" r="1.52"/><circle cx="278.7" cy="208.4" r="1.30"/><circle cx="241.0" cy="206.8" r="1.75"/><circle cx="280.2" cy="187.1" r="1.67"/><circle cx="266.8" cy="210.7" r="1.85"/><circle cx="273.2" cy="209.8" r="1.08"/><circle cx="282.5" cy="202.0" r="1.90"/><circle cx="247.1" cy="199.3" r="1.89"/><circle cx="281.6" cy="202.3" r="1.89"/><circle cx="241.7" cy="186.2" r="1.26"/><circle cx="277.7" cy="205.5" r="1.43"/><circle cx="279.4" cy="199.2" r="1.15"/></g>
</g>
<rect x="241.30" y="183.50" width="41.10" height="30.50" fill="none" stroke="#111" stroke-width="1.2"/>
<clipPath id="c6"><rect x="385.60" y="18.10" width="42.30" height="31.70"/></clipPath>
<g clip-path="url(#c6)">
<rect x="385.60" y="18.10" width="42.30" height="31.70" fill="#f3d696"/>
<g fill="#b0a276" fill-opacity="0.6"><circle cx="392.6" cy="40.0" r="0.76"/><circle cx="405.9" cy="24.9" r="0.87"/><circle cx="419.8" cy="34.3" r="0.68"/><circle cx="395.6" cy="18.2" r="0.59"/><circle cx="410.4" cy="20.3" r="0.87"/><circle cx="395.4" cy="25.5" r="0.38"/><circle cx="427.8" cy="41.5" r="0.92"/><circle cx="411.7" cy="19.2" r="0.56"/><circle cx="406.6" cy="21.8" r="0.97"/><circle cx="401.2" cy="23.0" r="0.88"/><circle cx="390.9" cy="47.5" r="0.64"/><circle cx="408.9" cy="29.0" r="0.67"/><circle cx="393.5" cy="19.3" r="0.91"/><circle cx="395.5" cy="42.8" r="0.49"/><circle cx="426.6" cy="46.4" r="0.84"/><circle cx="417.9" cy="36.5" r="0.82"/><circle cx="390.8" cy="33.2" r="0.89"/><circle cx="394.1" cy="47.4" r="0.93"/><circle cx="402.9" cy="29.7" r="0.64"/><circle cx="401.9" cy="49.6" r="0.60"/><circle cx="386.7" cy="21.1" r="0.82"/><circle cx="427.6" cy="33.8" r="0.67"/><circle cx="408.9" cy="41.8" r="0.49"/><circle cx="411.4" cy="35.7" r="0.75"/><circle cx="393.2" cy="23.5" r="0.58"/><circle cx="424.8" cy="29.1" r="0.74"/><circle cx="398.6" cy="21.4" r="0.39"/><circle cx="420.0" cy="42.7" r="0.59"/><circle cx="414.5" cy="39.5" r="0.93"/><circle cx="426.1" cy="31.0" r="0.99"/><circle cx="426.3" cy="36.8" r="0.92"/><circle cx="406.4" cy="30.0" r="0.51"/><circle cx="422.7" cy="23.2" r="0.40"/><circle cx="419.7" cy="42.6" r="0.66"/><circle cx="421.0" cy="19.8" r="0.52"/><circle cx="397.9" cy="31.4" r="0.46"/><circle cx="388.5" cy="28.8" r="0.93"/><circle cx="427.2" cy="41.7" r="0.66"/><circle cx="396.3" cy="48.5" r="0.69"/><circle cx="416.4" cy="19.0" r="0.49"/><circle cx="421.1" cy="43.3" r="0.92"/><circle cx="411.0" cy="31.6" r="0.73"/><circle cx="421.5" cy="27.9" r="0.70"/><circle cx="397.3" cy="42.5" r="0.36"/><circle cx="414.6" cy="48.3" r="0.37"/><circle cx="410.7" cy="38.5" r="0.90"/><circle cx="410.3" cy="26.3" r="0.61"/><circle cx="426.2" cy="46.8" r="0.44"/><circle cx="389.6" cy="21.1" r="0.37"/><circle cx="404.5" cy="22.6" r="0.91"/><circle cx="413.3" cy="22.1" r="0.70"/><circle cx="399.3" cy="33.8" r="0.49"/><circle cx="392.6" cy="23.9" r="0.60"/><circle cx="415.6" cy="35.5" r="0.38"/><circle cx="415.7" cy="45.8" r="0.85"/><circle cx="419.0" cy="18.3" r="0.65"/><circle cx="388.3" cy="42.3" r="0.46"/><circle cx="415.7" cy="26.1" r="0.80"/><circle cx="398.9" cy="19.4" r="0.60"/><circle cx="398.7" cy="46.7" r="0.54"/><circle cx="406.9" cy="35.5" r="0.97"/><circle cx="389.8" cy="37.2" r="0.68"/><circle cx="416.7" cy="48.8" r="0.55"/><circle cx="415.2" cy="34.8" r="0.71"/><circle cx="388.3" cy="43.9" r="0.98"/><circle cx="400.6" cy="28.2" r="1.00"/><circle cx="390.2" cy="20.5" r="0.40"/><circle cx="420.0" cy="42.2" r="0.64"/><circle cx="411.9" cy="18.7" r="0.77"/><circle cx="404.3" cy="34.5" r="0.60"/><circle cx="402.6" cy="25.2" r="0.38"/><circle cx="404.0" cy="25.9" r="0.81"/><circle cx="420.2" cy="41.0" r="0.65"/><circle cx="395.6" cy="30.3" r="0.67"/><circle cx="412.3" cy="48.6" r="0.41"/><circle cx="405.9" cy="33.7" r="0.82"/><circle cx="423.3" cy="42.8" r="0.76"/><circle cx="417.7" cy="39.3" r="0.91"/><circle cx="415.2" cy="39.8" r="0.51"/><circle cx="424.4" cy="30.3" r="0.75"/><circle cx="420.5" cy="48.6" r="0.99"/><circle cx="385.9" cy="28.0" r="0.55"/><circle cx="402.1" cy="22.7" r="0.71"/><circle cx="389.0" cy="27.7" r="0.96"/><circle cx="417.0" cy="32.8" r="0.42"/><circle cx="426.0" cy="40.4" r="0.48"/><circle cx="399.8" cy="38.4" r="0.79"/><circle cx="396.6" cy="48.3" r="0.56"/><circle cx="396.4" cy="44.9" r="0.45"/><circle cx="414.4" cy="24.4" r="0.74"/><circle cx="397.3" cy="30.1" r="0.96"/><circle cx="405.4" cy="31.9" r="0.75"/><circle cx="397.5" cy="23.6" r="0.60"/><circle cx="397.1" cy="24.1" r="0.97"/><circle cx="387.1" cy="43.8" r="0.96"/><circle cx="415.4" cy="18.7" r="0.68"/><circle cx="387.3" cy="37.4" r="0.81"/><circle cx="395.8" cy="18.3" r="0.70"/><circle cx="389.6" cy="27.9" r="0.65"/><circle cx="423.4" cy="29.8" r="0.44"/><circle cx="419.1" cy="44.2" r="0.69"/><circle cx="387.7" cy="24.0" r="0.61"/><circle cx="408.9" cy="25.2" r="0.87"/><circle cx="421.3" cy="47.4" r="0.92"/><circle cx="386.3" cy="36.6" r="0.40"/><circle cx="423.7" cy="41.8" r="0.84"/><circle cx="393.6" cy="20.0" r="0.88"/><circle cx="411.3" cy="37.8" r="0.66"/><circle cx="419.4" cy="28.8" r="0.53"/><circle cx="400.5" cy="27.5" r="0.76"/><circle cx="423.3" cy="20.4" r="0.39"/><circle cx="407.2" cy="39.6" r="0.47"/><circle cx="397.0" cy="20.0" r="0.37"/><circle cx="406.5" cy="39.7" r="0.77"/><circle cx="392.3" cy="21.4" r="0.96"/><circle cx="408.4" cy="31.0" r="0.80"/><circle cx="416.4" cy="34.7" r="0.40"/><circle cx="420.6" cy="24.9" r="0.38"/><circle cx="400.5" cy="35.0" r="0.76"/><circle cx="393.0" cy="40.6" r="0.67"/><circle cx="392.5" cy="45.1" r="0.87"/><circle cx="423.9" cy="39.6" r="0.49"/><circle cx="418.5" cy="46.7" r="0.70"/><circle cx="424.0" cy="48.9" r="0.60"/><circle cx="425.4" cy="47.8" r="0.87"/><circle cx="386.1" cy="29.3" r="0.75"/><circle cx="411.3" cy="42.1" r="0.77"/><circle cx="392.4" cy="47.6" r="0.70"/><circle cx="422.9" cy="24.7" r="1.00"/><circle cx="409.1" cy="42.7" r="0.83"/><circle cx="422.9" cy="29.6" r="0.40"/><circle cx="402.8" cy="23.8" r="0.70"/><circle cx="420.1" cy="29.6" r="0.44"/><circle cx="386.7" cy="31.5" r="0.73"/><circle cx="386.7" cy="39.2" r="0.49"/><circle cx="390.1" cy="47.5" r="0.69"/><circle cx="423.5" cy="34.4" r="0.43"/><circle cx="395.8" cy="31.5" r="0.77"/><circle cx="418.2" cy="41.9" r="0.77"/><circle cx="396.3" cy="31.7" r="0.60"/><circle cx="406.3" cy="26.5" r="0.70"/><circle cx="405.0" cy="19.2" r="0.88"/><circle cx="410.4" cy="43.5" r="0.83"/><circle cx="416.5" cy="49.6" r="0.59"/><circle cx="402.2" cy="18.2" r="0.78"/><circle cx="410.2" cy="36.4" r="1.00"/><circle cx="393.9" cy="25.3" r="0.83"/><circle cx="420.0" cy="33.4" r="0.39"/><circle cx="401.3" cy="44.3" r="0.67"/><circle cx="405.1" cy="30.4" r="0.76"/></g>
<g fill="#c6b786" fill-opacity="0.45"><circle cx="410.9" cy="40.1" r="1.57"/><circle cx="417.4" cy="30.0" r="0.95"/><circle cx="418.7" cy="43.2" r="1.63"/><circle cx="394.0" cy="45.0" r="1.59"/><circle cx="388.9" cy="27.9" r="1.33"/><circle cx="391.8" cy="44.4" r="0.96"/><circle cx="414.5" cy="27.5" r="0.92"/><circle cx="394.4" cy="33.9" r="1.41"/><circle cx="394.8" cy="39.9" r="1.04"/><circle cx="413.1" cy="29.8" r="0.89"/><circle cx="391.6" cy="19.9" r="1.40"/><circle cx="403.1" cy="22.0" r="1.58"/><circle cx="413.3" cy="18.8" r="1.42"/><circle cx="410.8" cy="32.2" r="1.20"/><circle cx="426.3" cy="30.0" r="1.34"/><circle cx="412.5" cy="29.7" r="1.05"/><circle cx="417.5" cy="38.3" r="1.16"/><circle cx="407.3" cy="25.2" r="1.49"/><circle cx="386.4" cy="38.5" r="1.15"/><circle cx="395.0" cy="36.7" r="1.28"/><circle cx="389.3" cy="33.6" r="0.87"/><circle cx="419.4" cy="28.5" r="1.03"/><circle cx="394.7" cy="19.6" r="0.89"/><circle cx="392.0" cy="37.9" r="1.55"/><circle cx="394.9" cy="21.6" r="1.23"/><circle cx="390.5" cy="30.9" r="1.46"/><circle cx="394.2" cy="40.3" r="1.24"/><circle cx="389.2" cy="25.8" r="1.30"/><circle cx="389.7" cy="24.6" r="1.28"/><circle cx="420.2" cy="34.6" r="1.36"/><circle cx="386.0" cy="27.7" r="1.02"/><circle cx="424.2" cy="29.4" r="1.48"/><circle cx="387.1" cy="33.9" r="1.59"/><circle cx="418.2" cy="36.5" r="0.88"/><circle cx="424.8" cy="20.6" r="1.66"/><circle cx="418.4" cy="40.9" r="1.23"/><circle cx="392.5" cy="28.9" r="1.36"/><circle cx="413.3" cy="30.4" r="1.50"/><circle cx="387.9" cy="27.2" r="0.79"/><circle cx="399.3" cy="43.2" r="1.45"/><circle cx="391.9" cy="27.9" r="0.81"/><circle cx="413.6" cy="32.1" r="0.93"/><circle cx="401.4" cy="45.5" r="1.13"/><circle cx="414.8" cy="38.0" r="1.17"/><circle cx="409.1" cy="29.6" r="0.90"/><circle cx="406.5" cy="27.8" r="1.03"/><circle cx="393.5" cy="47.1" r="1.13"/><circle cx="394.1" cy="19.1" r="0.91"/><circle cx="422.3" cy="28.8" r="1.37"/><circle cx="395.4" cy="38.7" r="1.15"/><circle cx="416.7" cy="34.9" r="1.08"/><circle cx="397.4" cy="36.9" r="1.53"/><circle cx="414.9" cy="33.3" r="1.03"/><circle cx="423.3" cy="44.9" r="0.85"/><circle cx="414.3" cy="42.6" r="1.38"/><circle cx="426.4" cy="46.0" r="0.95"/><circle cx="427.8" cy="28.5" r="1.08"/><circle cx="426.9" cy="23.4" r="1.10"/><circle cx="412.1" cy="26.8" r="0.97"/><circle cx="419.2" cy="37.5" r="1.44"/><circle cx="419.0" cy="45.7" r="1.59"/><circle cx="420.4" cy="49.1" r="1.20"/><circle cx="415.3" cy="34.4" r="1.67"/><circle cx="413.3" cy="31.7" r="1.36"/><circle cx="398.1" cy="22.2" r="1.09"/><circle cx="391.4" cy="18.2" r="0.79"/><circle cx="404.8" cy="42.3" r="0.75"/><circle cx="412.5" cy="21.6" r="1.21"/><circle cx="398.1" cy="32.2" r="1.41"/><circle cx="403.1" cy="30.5" r="1.43"/></g>
</g>
<rect x="386.20" y="18.70" width="41.10" height="30.50" fill="none" stroke="#111" stroke-width="1.2"/>
<clipPath id="c7"><rect x="385.60" y="58.20" width="42.30" height="31.90"/></clipPath>
<g clip-path="url(#c7)">
<rect x="385.60" y="58.20" width="42.30" height="31.90" fill="#e8cf90"/>
<g fill="#c5b482" fill-opacity="0.5"><circle cx="426.1" cy="62.7" r="0.41"/><circle cx="427.8" cy="64.1" r="0.47"/><circle cx="413.2" cy="69.2" r="0.93"/><circle cx="395.4" cy="88.8" r="0.59"/><circle cx="411.0" cy="87.9" r="0.81"/><circle cx="424.7" cy="80.8" r="0.43"/><circle cx="422.9" cy="77.0" r="0.59"/><circle cx="393.6" cy="85.3" r="0.75"/><circle cx="425.3" cy="82.9" r="0.98"/><circle cx="409.6" cy="80.5" r="0.77"/><circle cx="396.5" cy="88.7" r="0.59"/><circle cx="418.6" cy="88.7" r="0.79"/><circle cx="391.6" cy="84.5" r="0.80"/><circle cx="393.4" cy="59.8" r="0.72"/><circle cx="387.0" cy="87.7" r="0.70"/><circle cx="407.5" cy="71.3" r="0.80"/><circle cx="424.4" cy="68.0" r="0.62"/><circle cx="410.2" cy="67.7" r="0.76"/><circle cx="408.6" cy="72.0" r="0.80"/><circle cx="407.9" cy="61.0" r="1.00"/><circle cx="400.6" cy="72.0" r="0.64"/><circle cx="424.9" cy="88.6" r="0.71"/><circle cx="402.5" cy="61.3" r="0.94"/><circle cx="392.9" cy="75.6" r="0.61"/><circle cx="399.5" cy="69.6" r="0.51"/><circle cx="387.2" cy="75.3" r="0.88"/><circle cx="413.0" cy="64.6" r="0.82"/><circle cx="387.8" cy="71.3" r="0.90"/><circle cx="424.6" cy="72.9" r="0.91"/><circle cx="406.7" cy="74.9" r="0.75"/><circle cx="427.5" cy="81.9" r="0.68"/><circle cx="416.4" cy="78.7" r="0.61"/><circle cx="418.8" cy="84.4" r="0.77"/><circle cx="425.5" cy="58.8" r="0.70"/><circle cx="412.4" cy="69.1" r="0.50"/><circle cx="414.9" cy="72.1" r="0.56"/><circle cx="387.4" cy="89.1" r="0.61"/><circle cx="390.6" cy="65.1" r="0.55"/><circle cx="422.2" cy="64.0" r="0.57"/><circle cx="389.7" cy="73.2" r="0.52"/></g>
<circle cx="392.0" cy="80.0" r="3.00" fill="#cdb887" fill-opacity="0.5"/>
<circle cx="395.0" cy="84.0" r="2.50" fill="#cdb887" fill-opacity="0.5"/>
<circle cx="398.0" cy="64.0" r="2.00" fill="#cdb887" fill-opacity="0.4"/>
</g>
<rect x="386.20" y="58.80" width="41.10" height="30.70" fill="none" stroke="#111" stroke-width="1.2"/>
<clipPath id="c8"><rect x="385.60" y="101.00" width="42.30" height="31.80"/></clipPath>
<g clip-path="url(#c8)">
<rect x="385.60" y="101.00" width="42.30" height="31.80" fill="#dcc283"/>
<g fill="#fbeaa3" fill-opacity="0.8"><circle cx="424.7" cy="131.2" r="0.94"/><circle cx="389.1" cy="119.8" r="0.65"/><circle cx="408.0" cy="105.1" r="0.52"/><circle cx="404.4" cy="108.0" r="0.67"/><circle cx="386.6" cy="103.7" r="0.83"/><circle cx="403.4" cy="117.3" r="0.84"/><circle cx="400.8" cy="102.8" r="0.87"/><circle cx="410.5" cy="121.9" r="0.77"/><circle cx="426.7" cy="112.5" r="0.86"/><circle cx="401.2" cy="119.2" r="0.80"/></g>
<g fill="#c8b075" fill-opacity="0.5"><circle cx="398.9" cy="103.7" r="0.64"/><circle cx="416.0" cy="119.8" r="0.62"/><circle cx="412.8" cy="106.8" r="0.49"/><circle cx="399.3" cy="126.9" r="0.50"/><circle cx="390.4" cy="104.1" r="0.42"/><circle cx="397.3" cy="119.2" r="0.81"/><circle cx="399.6" cy="112.8" r="0.54"/><circle cx="398.5" cy="125.7" r="0.67"/><circle cx="396.5" cy="104.4" r="0.79"/><circle cx="415.5" cy="127.3" r="0.52"/><circle cx="408.7" cy="130.2" r="0.70"/><circle cx="425.6" cy="106.3" r="0.89"/><circle cx="388.0" cy="114.2" r="0.41"/><circle cx="419.8" cy="122.9" r="0.89"/><circle cx="419.6" cy="131.2" r="0.67"/><circle cx="427.4" cy="124.8" r="0.57"/><circle cx="426.8" cy="113.0" r="0.50"/><circle cx="388.8" cy="115.8" r="0.50"/><circle cx="425.1" cy="131.2" r="0.51"/><circle cx="390.0" cy="117.8" r="0.48"/><circle cx="408.6" cy="126.8" r="0.53"/><circle cx="403.4" cy="129.6" r="0.62"/><circle cx="400.1" cy="129.4" r="0.81"/><circle cx="423.5" cy="122.9" r="0.61"/><circle cx="414.9" cy="127.4" r="0.72"/><circle cx="395.7" cy="110.4" r="0.60"/><circle cx="418.2" cy="118.7" r="0.67"/><circle cx="420.6" cy="104.4" r="0.72"/><circle cx="399.7" cy="118.8" r="0.82"/><circle cx="396.1" cy="131.3" r="0.44"/></g>
<circle cx="397.6" cy="118.3" r="1.70" fill="#fff2b0" fill-opacity="0.95"/>
<circle cx="416.4" cy="117.6" r="2.10" fill="#fff2b0" fill-opacity="0.95"/>
<circle cx="394.9" cy="123.0" r="1.50" fill="#fff2b0" fill-opacity="0.9"/>
<circle cx="401.0" cy="110.2" r="1.00" fill="#fbeaa3" fill-opacity="0.9"/>
<circle cx="425.0" cy="103.5" r="1.10" fill="#fbeaa3" fill-opacity="0.9"/>
<circle cx="390.0" cy="130.0" r="1.00" fill="#fbeaa3" fill-opacity="0.8"/>
</g>
<rect x="386.20" y="101.60" width="41.10" height="30.60" fill="none" stroke="#111" stroke-width="1.2"/>
<clipPath id="c9"><rect x="385.10" y="143.60" width="41.80" height="31.40"/></clipPath>
<g clip-path="url(#c9)">
<rect x="385.10" y="143.60" width="41.80" height="31.40" fill="#f3cf8b"/>
<g fill="#a58c5c" fill-opacity="0.7"><circle cx="414.9" cy="170.0" r="0.39"/><circle cx="426.8" cy="149.7" r="0.64"/><circle cx="388.9" cy="167.4" r="0.38"/><circle cx="414.6" cy="166.3" r="0.68"/><circle cx="403.5" cy="170.8" r="0.79"/><circle cx="389.9" cy="159.8" r="0.78"/><circle cx="416.0" cy="157.5" r="0.45"/><circle cx="424.9" cy="146.3" r="0.68"/><circle cx="420.3" cy="148.6" r="0.46"/><circle cx="397.9" cy="160.6" r="0.48"/><circle cx="422.5" cy="172.6" r="0.46"/><circle cx="422.5" cy="145.8" r="0.35"/><circle cx="412.9" cy="168.7" r="0.71"/><circle cx="426.6" cy="170.6" r="0.43"/><circle cx="416.1" cy="172.6" r="0.35"/><circle cx="405.8" cy="148.4" r="0.37"/><circle cx="405.1" cy="164.6" r="0.79"/><circle cx="390.6" cy="159.5" r="0.80"/><circle cx="417.1" cy="160.3" r="0.42"/><circle cx="411.5" cy="151.8" r="0.62"/><circle cx="412.2" cy="155.9" r="0.70"/><circle cx="402.0" cy="158.3" r="0.72"/><circle cx="395.6" cy="149.4" r="0.59"/><circle cx="403.3" cy="171.0" r="0.42"/><circle cx="400.6" cy="145.4" r="0.53"/><circle cx="398.2" cy="157.7" r="0.68"/><circle cx="386.7" cy="174.7" r="0.66"/><circle cx="419.0" cy="160.5" r="0.59"/><circle cx="402.2" cy="156.0" r="0.41"/><circle cx="397.8" cy="152.8" r="0.47"/><circle cx="423.0" cy="168.7" r="0.62"/><circle cx="385.8" cy="151.8" r="0.57"/><circle cx="414.0" cy="156.8" r="0.62"/><circle cx="422.9" cy="152.0" r="0.49"/><circle cx="416.9" cy="153.6" r="0.66"/><circle cx="401.7" cy="144.2" r="0.53"/><circle cx="387.9" cy="168.2" r="0.72"/><circle cx="407.2" cy="171.8" r="0.41"/><circle cx="403.7" cy="149.1" r="0.32"/><circle cx="419.6" cy="145.2" r="0.77"/><circle cx="408.4" cy="165.6" r="0.32"/><circle cx="423.0" cy="168.5" r="0.35"/><circle cx="392.7" cy="148.0" r="0.55"/><circle cx="388.4" cy="168.7" r="0.55"/><circle cx="414.5" cy="151.6" r="0.63"/><circle cx="404.1" cy="164.0" r="0.51"/><circle cx="426.5" cy="170.2" r="0.72"/><circle cx="399.4" cy="149.6" r="0.38"/><circle cx="390.6" cy="174.0" r="0.44"/><circle cx="421.5" cy="150.9" r="0.61"/><circle cx="395.5" cy="153.2" r="0.67"/><circle cx="410.5" cy="173.3" r="0.42"/><circle cx="396.4" cy="145.6" r="0.41"/><circle cx="426.1" cy="161.3" r="0.54"/><circle cx="399.3" cy="167.5" r="0.64"/><circle cx="391.6" cy="145.1" r="0.39"/><circle cx="419.3" cy="166.6" r="0.41"/><circle cx="394.9" cy="153.2" r="0.64"/><circle cx="416.4" cy="151.1" r="0.46"/><circle cx="395.0" cy="173.3" r="0.58"/><circle cx="424.4" cy="151.2" r="0.62"/><circle cx="408.9" cy="172.9" r="0.48"/><circle cx="394.7" cy="169.3" r="0.78"/><circle cx="406.4" cy="154.0" r="0.34"/><circle cx="403.7" cy="172.6" r="0.48"/><circle cx="403.9" cy="161.3" r="0.42"/><circle cx="389.6" cy="159.9" r="0.78"/><circle cx="421.5" cy="153.1" r="0.69"/><circle cx="419.9" cy="161.9" r="0.48"/><circle cx="393.3" cy="165.7" r="0.64"/><circle cx="394.0" cy="148.0" r="0.36"/><circle cx="419.7" cy="171.4" r="0.56"/><circle cx="410.6" cy="165.8" r="0.38"/><circle cx="406.8" cy="157.7" r="0.73"/><circle cx="392.0" cy="170.2" r="0.37"/><circle cx="410.6" cy="171.6" r="0.34"/><circle cx="405.3" cy="143.7" r="0.55"/><circle cx="405.4" cy="173.7" r="0.54"/><circle cx="423.1" cy="166.5" r="0.72"/><circle cx="399.7" cy="146.6" r="0.62"/><circle cx="389.8" cy="163.3" r="0.39"/><circle cx="410.4" cy="167.7" r="0.78"/><circle cx="393.5" cy="149.1" r="0.51"/><circle cx="425.8" cy="151.6" r="0.54"/><circle cx="401.0" cy="145.5" r="0.57"/><circle cx="397.9" cy="158.4" r="0.67"/><circle cx="413.0" cy="151.3" r="0.62"/><circle cx="407.5" cy="167.6" r="0.30"/><circle cx="396.8" cy="164.7" r="0.58"/><circle cx="406.2" cy="160.2" r="0.61"/><circle cx="415.9" cy="169.8" r="0.69"/><circle cx="423.0" cy="161.7" r="0.39"/><circle cx="400.5" cy="170.7" r="0.69"/><circle cx="411.0" cy="147.6" r="0.38"/><circle cx="412.5" cy="156.9" r="0.39"/><circle cx="425.7" cy="150.9" r="0.76"/><circle cx="411.1" cy="173.6" r="0.69"/><circle cx="393.5" cy="150.8" r="0.73"/><circle cx="403.3" cy="159.4" r="0.67"/><circle cx="410.3" cy="166.2" r="0.56"/><circle cx="396.6" cy="166.3" r="0.36"/><circle cx="415.4" cy="168.6" r="0.37"/><circle cx="385.2" cy="172.3" r="0.39"/><circle cx="407.4" cy="152.7" r="0.37"/><circle cx="395.9" cy="145.9" r="0.72"/><circle cx="417.3" cy="168.2" r="0.37"/><circle cx="398.6" cy="146.7" r="0.72"/><circle cx="425.9" cy="173.4" r="0.72"/><circle cx="410.7" cy="159.2" r="0.36"/><circle cx="386.5" cy="163.0" r="0.78"/><circle cx="426.1" cy="156.7" r="0.56"/><circle cx="421.9" cy="152.5" r="0.67"/><circle cx="410.2" cy="157.2" r="0.49"/><circle cx="391.7" cy="148.2" r="0.45"/><circle cx="426.4" cy="169.3" r="0.30"/><circle cx="416.7" cy="148.0" r="0.59"/><circle cx="423.6" cy="172.0" r="0.74"/><circle cx="426.6" cy="163.4" r="0.32"/><circle cx="395.7" cy="164.6" r="0.60"/><circle cx="423.2" cy="149.0" r="0.74"/></g>
<g fill="#b89c68" fill-opacity="0.5"><circle cx="409.2" cy="162.2" r="0.95"/><circle cx="400.0" cy="159.7" r="1.71"/><circle cx="413.5" cy="163.7" r="1.65"/><circle cx="399.8" cy="154.1" r="1.97"/><circle cx="413.1" cy="161.2" r="1.96"/><circle cx="421.3" cy="166.2" r="1.97"/><circle cx="401.2" cy="172.7" r="1.49"/><circle cx="402.9" cy="156.2" r="0.86"/><circle cx="422.2" cy="174.2" r="1.25"/><circle cx="424.7" cy="147.7" r="1.35"/><circle cx="426.6" cy="163.5" r="0.99"/><circle cx="411.6" cy="144.4" r="1.67"/><circle cx="409.7" cy="163.8" r="1.61"/><circle cx="389.1" cy="171.3" r="1.72"/><circle cx="422.4" cy="150.8" r="1.07"/><circle cx="415.3" cy="172.6" r="1.48"/><circle cx="395.3" cy="157.5" r="1.09"/><circle cx="405.3" cy="173.7" r="1.61"/><circle cx="393.6" cy="172.4" r="1.85"/><circle cx="402.0" cy="143.6" r="1.60"/></g>
</g>
<rect x="385.70" y="144.20" width="40.60" height="30.20" fill="none" stroke="#111" stroke-width="1.2"/>
<clipPath id="c10"><rect x="385.10" y="183.10" width="41.80" height="31.80"/></clipPath>
<g clip-path="url(#c10)">
<rect x="385.10" y="183.10" width="41.80" height="31.80" fill="#b09a6c"/>
<g fill="#eccf8a" fill-opacity="0.75"><circle cx="400.9" cy="212.6" r="1.27"/><circle cx="394.0" cy="210.8" r="1.11"/><circle cx="386.9" cy="213.4" r="0.80"/><circle cx="397.9" cy="196.6" r="1.07"/><circle cx="390.3" cy="204.9" r="1.27"/><circle cx="406.5" cy="208.4" r="1.10"/><circle cx="419.6" cy="188.9" r="0.89"/><circle cx="404.7" cy="186.4" r="1.38"/><circle cx="411.7" cy="186.2" r="1.07"/><circle cx="402.4" cy="189.1" r="0.73"/><circle cx="404.4" cy="185.3" r="1.05"/><circle cx="406.6" cy="187.1" r="1.30"/><circle cx="386.8" cy="188.6" r="1.25"/><circle cx="394.3" cy="196.6" r="1.05"/><circle cx="403.3" cy="198.8" r="1.00"/><circle cx="405.3" cy="184.9" r="1.25"/><circle cx="396.9" cy="184.6" r="0.93"/><circle cx="419.1" cy="203.1" r="0.97"/><circle cx="405.1" cy="190.1" r="1.09"/><circle cx="399.7" cy="185.1" r="0.70"/><circle cx="389.0" cy="204.9" r="1.31"/><circle cx="416.7" cy="190.1" r="0.72"/><circle cx="424.8" cy="195.0" r="0.73"/><circle cx="409.0" cy="202.8" r="1.03"/><circle cx="404.0" cy="192.8" r="1.00"/><circle cx="404.2" cy="204.8" r="0.96"/><circle cx="399.9" cy="214.5" r="0.69"/><circle cx="416.7" cy="196.4" r="1.24"/><circle cx="414.7" cy="201.1" r="1.09"/><circle cx="394.7" cy="183.6" r="1.20"/><circle cx="395.9" cy="186.6" r="1.25"/><circle cx="409.8" cy="184.1" r="1.02"/><circle cx="391.9" cy="210.6" r="0.82"/><circle cx="424.4" cy="202.6" r="0.66"/><circle cx="402.2" cy="213.8" r="1.16"/><circle cx="391.6" cy="194.8" r="0.82"/><circle cx="389.0" cy="202.0" r="1.16"/><circle cx="394.2" cy="200.6" r="1.29"/><circle cx="422.4" cy="188.5" r="0.66"/><circle cx="423.2" cy="193.5" r="0.73"/><circle cx="418.5" cy="191.5" r="1.17"/><circle cx="414.0" cy="192.4" r="0.97"/><circle cx="397.2" cy="208.7" r="0.83"/><circle cx="396.5" cy="210.4" r="0.82"/><circle cx="403.4" cy="199.5" r="0.60"/><circle cx="397.1" cy="206.7" r="1.38"/><circle cx="399.4" cy="198.3" r="0.65"/><circle cx="405.5" cy="194.5" r="1.00"/><circle cx="397.6" cy="193.1" r="1.33"/><circle cx="417.6" cy="194.5" r="0.66"/><circle cx="387.3" cy="186.2" r="0.70"/><circle cx="409.5" cy="199.7" r="0.70"/><circle cx="421.8" cy="204.4" r="1.17"/><circle cx="422.5" cy="193.1" r="1.32"/><circle cx="425.9" cy="212.0" r="0.64"/><circle cx="420.7" cy="214.4" r="0.69"/><circle cx="421.3" cy="209.0" r="0.63"/><circle cx="414.7" cy="207.2" r="1.20"/><circle cx="387.5" cy="213.9" r="0.66"/><circle cx="388.6" cy="213.2" r="0.98"/><circle cx="392.6" cy="195.7" r="1.10"/><circle cx="396.3" cy="212.2" r="1.14"/><circle cx="401.3" cy="194.8" r="0.69"/><circle cx="426.3" cy="192.9" r="1.35"/><circle cx="407.7" cy="200.2" r="0.74"/><circle cx="406.1" cy="186.2" r="0.96"/><circle cx="410.7" cy="212.5" r="0.78"/><circle cx="392.7" cy="208.2" r="0.71"/><circle cx="393.2" cy="198.3" r="0.94"/><circle cx="426.6" cy="185.2" r="1.30"/><circle cx="404.4" cy="187.5" r="0.79"/><circle cx="423.1" cy="188.7" r="0.94"/><circle cx="386.7" cy="198.6" r="1.16"/><circle cx="415.9" cy="193.9" r="0.94"/><circle cx="419.6" cy="211.0" r="0.96"/><circle cx="387.4" cy="213.0" r="0.88"/><circle cx="405.0" cy="184.6" r="0.62"/><circle cx="389.8" cy="200.4" r="0.81"/><circle cx="418.3" cy="187.7" r="1.12"/><circle cx="386.0" cy="194.5" r="1.35"/><circle cx="395.8" cy="193.1" r="0.63"/><circle cx="421.6" cy="198.8" r="0.80"/><circle cx="408.5" cy="191.6" r="1.31"/><circle cx="402.9" cy="185.2" r="0.77"/><circle cx="387.3" cy="207.4" r="0.68"/><circle cx="405.4" cy="202.0" r="0.68"/><circle cx="411.9" cy="203.1" r="1.35"/><circle cx="424.3" cy="214.2" r="1.02"/><circle cx="405.4" cy="196.8" r="0.71"/><circle cx="410.0" cy="214.9" r="1.00"/><circle cx="420.8" cy="191.5" r="0.90"/><circle cx="402.8" cy="214.0" r="0.90"/><circle cx="416.9" cy="187.8" r="1.21"/><circle cx="404.9" cy="214.6" r="0.61"/><circle cx="396.0" cy="211.3" r="0.95"/><circle cx="396.8" cy="210.8" r="0.94"/><circle cx="421.9" cy="200.5" r="0.65"/><circle cx="389.3" cy="210.7" r="1.33"/><circle cx="392.2" cy="214.7" r="1.27"/><circle cx="407.4" cy="207.7" r="1.02"/><circle cx="386.5" cy="192.4" r="0.87"/><circle cx="422.5" cy="191.8" r="1.16"/><circle cx="411.6" cy="186.8" r="0.97"/><circle cx="408.1" cy="206.2" r="0.88"/><circle cx="426.4" cy="208.7" r="0.62"/><circle cx="421.9" cy="202.5" r="1.35"/><circle cx="394.7" cy="207.7" r="1.17"/><circle cx="401.8" cy="194.4" r="1.08"/><circle cx="426.0" cy="204.9" r="1.11"/><circle cx="413.8" cy="209.9" r="1.07"/><circle cx="414.8" cy="184.3" r="1.29"/><circle cx="425.4" cy="201.5" r="1.06"/><circle cx="424.2" cy="201.1" r="1.31"/><circle cx="408.0" cy="201.2" r="1.33"/><circle cx="423.7" cy="202.1" r="1.03"/><circle cx="408.2" cy="198.0" r="0.90"/><circle cx="394.6" cy="192.3" r="0.78"/><circle cx="424.5" cy="196.0" r="1.30"/><circle cx="404.8" cy="214.8" r="1.07"/><circle cx="399.4" cy="196.6" r="0.81"/><circle cx="398.8" cy="192.2" r="0.82"/><circle cx="401.2" cy="183.9" r="1.36"/><circle cx="418.9" cy="194.0" r="1.27"/><circle cx="387.2" cy="202.7" r="1.07"/><circle cx="421.9" cy="214.3" r="1.09"/><circle cx="419.8" cy="205.3" r="0.67"/><circle cx="389.6" cy="186.7" r="1.20"/><circle cx="404.8" cy="194.3" r="1.00"/><circle cx="424.3" cy="198.4" r="1.27"/><circle cx="400.4" cy="203.9" r="1.22"/><circle cx="392.8" cy="212.0" r="0.76"/><circle cx="391.7" cy="213.9" r="0.79"/><circle cx="403.1" cy="213.0" r="0.77"/><circle cx="412.6" cy="205.9" r="0.66"/><circle cx="389.9" cy="214.3" r="1.26"/><circle cx="413.0" cy="203.2" r="0.99"/><circle cx="423.1" cy="183.9" r="0.83"/><circle cx="397.1" cy="203.5" r="1.35"/><circle cx="395.5" cy="186.6" r="0.79"/><circle cx="420.8" cy="202.8" r="0.72"/><circle cx="414.7" cy="196.1" r="0.65"/><circle cx="398.4" cy="210.3" r="1.36"/><circle cx="401.3" cy="207.9" r="1.35"/><circle cx="389.6" cy="189.2" r="0.87"/><circle cx="398.9" cy="203.4" r="1.39"/><circle cx="393.4" cy="191.9" r="1.01"/><circle cx="415.6" cy="187.8" r="1.05"/><circle cx="411.1" cy="207.6" r="0.88"/><circle cx="398.5" cy="201.4" r="0.90"/><circle cx="403.8" cy="207.8" r="1.38"/></g>
<g fill="#dcc083" fill-opacity="0.7"><circle cx="426.5" cy="188.6" r="0.72"/><circle cx="407.8" cy="200.6" r="0.52"/><circle cx="398.6" cy="195.7" r="0.52"/><circle cx="405.4" cy="212.0" r="0.80"/><circle cx="391.7" cy="191.1" r="0.62"/><circle cx="419.6" cy="184.1" r="0.45"/><circle cx="420.3" cy="194.7" r="0.51"/><circle cx="407.7" cy="184.4" r="0.83"/><circle cx="422.3" cy="185.0" r="0.71"/><circle cx="424.0" cy="193.0" r="0.58"/><circle cx="422.0" cy="183.1" r="0.43"/><circle cx="410.1" cy="209.4" r="0.74"/><circle cx="413.8" cy="196.3" r="0.98"/><circle cx="398.3" cy="201.0" r="0.50"/><circle cx="397.8" cy="202.7" r="0.44"/><circle cx="416.7" cy="190.8" r="0.87"/><circle cx="390.8" cy="203.1" r="0.70"/><circle cx="395.3" cy="208.1" r="0.81"/><circle cx="402.1" cy="200.6" r="0.66"/><circle cx="417.1" cy="184.2" r="0.43"/><circle cx="409.0" cy="185.1" r="0.93"/><circle cx="422.3" cy="190.5" r="0.51"/><circle cx="421.5" cy="185.2" r="0.71"/><circle cx="389.8" cy="214.6" r="0.65"/><circle cx="413.3" cy="192.3" r="0.92"/><circle cx="415.5" cy="183.3" r="0.45"/><circle cx="397.8" cy="193.4" r="0.42"/><circle cx="411.1" cy="183.9" r="0.72"/><circle cx="416.5" cy="192.0" r="0.58"/><circle cx="420.9" cy="207.6" r="0.86"/><circle cx="389.2" cy="191.2" r="0.62"/><circle cx="405.6" cy="207.2" r="0.94"/><circle cx="409.3" cy="185.3" r="0.42"/><circle cx="401.8" cy="213.1" r="0.45"/><circle cx="425.9" cy="183.5" r="0.41"/><circle cx="404.8" cy="185.3" r="0.60"/><circle cx="426.1" cy="214.0" r="0.87"/><circle cx="413.5" cy="194.4" r="0.64"/><circle cx="407.1" cy="193.9" r="0.78"/><circle cx="393.7" cy="199.6" r="0.64"/><circle cx="390.6" cy="188.4" r="0.67"/><circle cx="400.3" cy="195.4" r="0.96"/><circle cx="397.0" cy="195.1" r="0.62"/><circle cx="424.7" cy="214.5" r="0.85"/><circle cx="385.3" cy="199.8" r="0.97"/><circle cx="395.4" cy="207.4" r="0.81"/><circle cx="407.7" cy="213.1" r="0.56"/><circle cx="425.3" cy="192.6" r="0.91"/><circle cx="414.0" cy="201.2" r="0.67"/><circle cx="391.7" cy="194.1" r="0.93"/><circle cx="407.8" cy="187.5" r="0.75"/><circle cx="406.9" cy="211.2" r="0.94"/><circle cx="421.8" cy="187.9" r="0.71"/><circle cx="405.9" cy="196.8" r="0.92"/><circle cx="424.8" cy="187.2" r="0.88"/><circle cx="402.4" cy="195.9" r="0.41"/><circle cx="406.5" cy="202.6" r="0.82"/><circle cx="390.8" cy="192.3" r="0.72"/><circle cx="396.3" cy="211.0" r="0.67"/><circle cx="386.4" cy="200.4" r="0.50"/><circle cx="415.7" cy="196.0" r="0.95"/><circle cx="391.8" cy="205.4" r="0.81"/><circle cx="400.4" cy="209.8" r="0.90"/><circle cx="425.1" cy="202.2" r="0.52"/><circle cx="419.8" cy="188.9" r="0.83"/><circle cx="397.7" cy="195.4" r="0.59"/><circle cx="410.9" cy="210.6" r="0.90"/><circle cx="385.7" cy="210.2" r="0.82"/><circle cx="400.9" cy="211.0" r="0.56"/><circle cx="420.5" cy="213.4" r="0.82"/><circle cx="399.5" cy="194.9" r="0.58"/><circle cx="402.9" cy="188.0" r="0.92"/><circle cx="399.6" cy="190.1" r="0.52"/><circle cx="410.0" cy="185.0" r="0.88"/><circle cx="420.9" cy="193.0" r="0.50"/><circle cx="425.5" cy="196.2" r="0.99"/><circle cx="413.7" cy="203.9" r="0.74"/><circle cx="388.3" cy="187.7" r="0.85"/><circle cx="399.9" cy="192.9" r="0.96"/><circle cx="395.5" cy="199.2" r="0.68"/><circle cx="420.5" cy="189.2" r="0.60"/><circle cx="399.3" cy="187.9" r="0.68"/><circle cx="416.7" cy="206.9" r="0.59"/><circle cx="412.8" cy="198.4" r="0.62"/><circle cx="416.3" cy="202.4" r="0.47"/><circle cx="400.3" cy="203.8" r="0.57"/><circle cx="410.4" cy="189.3" r="0.56"/><circle cx="393.7" cy="209.1" r="0.68"/><circle cx="390.0" cy="202.0" r="0.52"/><circle cx="386.3" cy="213.2" r="0.45"/></g>
</g>
<rect x="385.70" y="183.70" width="40.60" height="30.60" fill="none" stroke="#111" stroke-width="1.2"/>
<text x="238.00" y="33.80" font-size="7.2" text-anchor="middle" transform="rotate(-90 238.00 33.80)" fill="#111" stroke="#111" stroke-width="0.25">shCtrl</text>
<text x="383.00" y="33.80" font-size="7.2" text-anchor="middle" transform="rotate(-90 383.00 33.80)" fill="#111" stroke="#111" stroke-width="0.25">shCtrl</text>
<text x="238.00" y="74.00" font-size="7.2" text-anchor="middle" transform="rotate(-90 238.00 74.00)" fill="#111" stroke="#111" stroke-width="0.25">shSPAG6-1</text>
<text x="383.00" y="74.00" font-size="7.2" text-anchor="middle" transform="rotate(-90 383.00 74.00)" fill="#111" stroke="#111" stroke-width="0.25">shSPAG6-1</text>
<text x="238.00" y="116.50" font-size="7.2" text-anchor="middle" transform="rotate(-90 238.00 116.50)" fill="#111" stroke="#111" stroke-width="0.25">shSPAG6-2</text>
<text x="383.00" y="116.50" font-size="7.2" text-anchor="middle" transform="rotate(-90 383.00 116.50)" fill="#111" stroke="#111" stroke-width="0.25">shSPAG6-2</text>
<text x="238.00" y="159.10" font-size="7.2" text-anchor="middle" transform="rotate(-90 238.00 159.10)" fill="#111" stroke="#111" stroke-width="0.25">EV</text>
<text x="383.00" y="159.10" font-size="7.2" text-anchor="middle" transform="rotate(-90 383.00 159.10)" fill="#111" stroke="#111" stroke-width="0.25">EV</text>
<text x="238.00" y="198.80" font-size="7.2" text-anchor="middle" transform="rotate(-90 238.00 198.80)" fill="#111" stroke="#111" stroke-width="0.25">SPAG6</text>
<text x="383.00" y="198.80" font-size="7.2" text-anchor="middle" transform="rotate(-90 383.00 198.80)" fill="#111" stroke="#111" stroke-width="0.25">SPAG6</text>
<clipPath id="c11"><rect x="18.00" y="442.00" width="56.70" height="42.50"/></clipPath>
<g clip-path="url(#c11)">
<rect x="18.00" y="442.00" width="56.70" height="42.50" fill="#000"/>
<g fill="#ff1a1a"><circle cx="51.0" cy="450.3" r="1.48" fill-opacity="0.96"/><circle cx="44.5" cy="470.2" r="0.95" fill-opacity="0.61"/><circle cx="34.4" cy="471.4" r="0.95" fill-opacity="0.99"/><circle cx="22.0" cy="450.2" r="0.86" fill-opacity="0.88"/><circle cx="38.8" cy="462.0" r="1.03" fill-opacity="0.82"/><circle cx="40.9" cy="450.9" r="1.10" fill-opacity="0.65"/><circle cx="24.3" cy="477.0" r="1.28" fill-opacity="0.83"/><circle cx="68.0" cy="458.8" r="1.07" fill-opacity="0.71"/><circle cx="40.9" cy="470.4" r="0.80" fill-opacity="0.73"/><circle cx="48.3" cy="456.7" r="0.82" fill-opacity="0.85"/><circle cx="18.5" cy="466.0" r="0.91" fill-opacity="0.52"/><circle cx="28.3" cy="444.8" r="0.91" fill-opacity="0.84"/><circle cx="59.3" cy="457.4" r="1.26" fill-opacity="0.74"/><circle cx="46.3" cy="479.2" r="1.02" fill-opacity="0.93"/><circle cx="57.2" cy="471.0" r="0.80" fill-opacity="0.54"/><circle cx="19.8" cy="456.7" r="1.46" fill-opacity="0.94"/><circle cx="65.5" cy="447.1" r="1.29" fill-opacity="0.89"/><circle cx="63.9" cy="475.7" r="0.90" fill-opacity="0.59"/><circle cx="62.9" cy="473.4" r="1.42" fill-opacity="0.72"/><circle cx="68.4" cy="447.9" r="1.47" fill-opacity="0.94"/><circle cx="37.1" cy="444.9" r="1.18" fill-opacity="0.84"/><circle cx="37.9" cy="444.4" r="1.00" fill-opacity="0.91"/><circle cx="23.1" cy="481.8" r="0.98" fill-opacity="0.60"/><circle cx="24.4" cy="483.7" r="1.43" fill-opacity="0.66"/><circle cx="23.4" cy="469.8" r="1.42" fill-opacity="0.51"/><circle cx="53.9" cy="478.4" r="1.12" fill-opacity="0.78"/><circle cx="63.6" cy="452.1" r="0.99" fill-opacity="0.83"/><circle cx="49.3" cy="464.8" r="1.03" fill-opacity="0.97"/><circle cx="34.3" cy="470.9" r="1.43" fill-opacity="0.70"/><circle cx="21.1" cy="451.4" r="0.85" fill-opacity="0.57"/><circle cx="24.8" cy="456.6" r="1.06" fill-opacity="0.72"/><circle cx="55.7" cy="470.8" r="1.28" fill-opacity="0.68"/><circle cx="55.6" cy="465.4" r="0.89" fill-opacity="0.77"/><circle cx="36.1" cy="470.7" r="1.31" fill-opacity="0.62"/><circle cx="42.7" cy="461.3" r="1.01" fill-opacity="0.52"/><circle cx="20.8" cy="484.2" r="1.32" fill-opacity="0.72"/><circle cx="55.8" cy="453.4" r="1.30" fill-opacity="0.98"/><circle cx="61.8" cy="461.8" r="1.49" fill-opacity="0.96"/><circle cx="21.3" cy="459.5" r="1.12" fill-opacity="0.64"/><circle cx="53.0" cy="448.1" r="1.32" fill-opacity="0.93"/><circle cx="21.5" cy="471.4" r="0.99" fill-opacity="0.82"/><circle cx="57.2" cy="483.5" r="1.36" fill-opacity="0.67"/><circle cx="59.4" cy="448.2" r="1.30" fill-opacity="0.71"/><circle cx="33.0" cy="452.1" r="0.95" fill-opacity="0.90"/><circle cx="23.4" cy="451.9" r="0.93" fill-opacity="0.58"/><circle cx="59.4" cy="467.0" r="1.27" fill-opacity="0.95"/><circle cx="43.4" cy="443.6" r="0.93" fill-opacity="0.76"/><circle cx="58.6" cy="481.0" r="1.16" fill-opacity="0.61"/><circle cx="51.6" cy="481.7" r="1.03" fill-opacity="0.97"/><circle cx="69.2" cy="466.5" r="1.14" fill-opacity="0.56"/><circle cx="24.3" cy="443.7" r="1.23" fill-opacity="0.86"/><circle cx="74.3" cy="467.6" r="1.50" fill-opacity="0.70"/><circle cx="25.6" cy="444.5" r="1.00" fill-opacity="0.77"/><circle cx="73.9" cy="454.6" r="0.96" fill-opacity="0.86"/><circle cx="40.0" cy="465.7" r="0.91" fill-opacity="0.93"/><circle cx="70.1" cy="474.1" r="1.45" fill-opacity="0.67"/><circle cx="19.8" cy="455.0" r="1.43" fill-opacity="0.73"/><circle cx="29.4" cy="448.4" r="0.91" fill-opacity="0.72"/><circle cx="70.5" cy="479.6" r="1.33" fill-opacity="0.88"/><circle cx="28.8" cy="475.0" r="0.96" fill-opacity="0.76"/></g>
</g>
<rect x="58.70" y="479.60" width="12.00" height="1.90" fill="#fff"/>
<clipPath id="c12"><rect x="76.70" y="442.00" width="56.60" height="42.50"/></clipPath>
<g clip-path="url(#c12)">
<rect x="76.70" y="442.00" width="56.60" height="42.50" fill="#000"/>
<g fill="#ff1a1a"><circle cx="85.1" cy="468.2" r="0.72" fill-opacity="0.83"/><circle cx="111.1" cy="458.3" r="1.03" fill-opacity="0.74"/><circle cx="79.1" cy="464.5" r="1.03" fill-opacity="0.71"/><circle cx="126.5" cy="473.3" r="0.86" fill-opacity="0.54"/><circle cx="83.9" cy="476.4" r="1.08" fill-opacity="0.77"/><circle cx="101.7" cy="463.3" r="0.76" fill-opacity="0.72"/><circle cx="84.9" cy="468.4" r="1.04" fill-opacity="0.80"/><circle cx="90.6" cy="445.9" r="0.83" fill-opacity="0.81"/><circle cx="105.6" cy="473.8" r="0.90" fill-opacity="0.64"/><circle cx="128.1" cy="449.1" r="0.75" fill-opacity="0.75"/><circle cx="112.4" cy="460.4" r="0.99" fill-opacity="0.66"/><circle cx="114.5" cy="479.8" r="1.18" fill-opacity="0.78"/><circle cx="103.3" cy="482.3" r="0.91" fill-opacity="0.78"/><circle cx="125.9" cy="471.0" r="0.87" fill-opacity="0.85"/><circle cx="110.7" cy="480.9" r="1.04" fill-opacity="0.72"/><circle cx="131.8" cy="464.4" r="0.88" fill-opacity="0.96"/><circle cx="130.1" cy="449.3" r="0.65" fill-opacity="0.91"/><circle cx="126.7" cy="458.3" r="0.78" fill-opacity="0.81"/><circle cx="129.9" cy="451.1" r="0.91" fill-opacity="0.80"/><circle cx="89.2" cy="459.6" r="0.70" fill-opacity="0.69"/><circle cx="89.7" cy="445.4" r="0.87" fill-opacity="0.49"/><circle cx="83.4" cy="448.4" r="0.89" fill-opacity="0.59"/></g>
</g>
<rect x="117.30" y="479.60" width="12.00" height="1.90" fill="#fff"/>
<clipPath id="c13"><rect x="135.30" y="442.00" width="56.70" height="42.50"/></clipPath>
<g clip-path="url(#c13)">
<rect x="135.30" y="442.00" width="56.70" height="42.50" fill="#000"/>
<g fill="#ff1a1a"><circle cx="190.8" cy="461.4" r="1.10" fill-opacity="0.84"/><circle cx="147.5" cy="445.3" r="1.02" fill-opacity="0.47"/><circle cx="157.0" cy="479.8" r="1.21" fill-opacity="0.47"/><circle cx="140.0" cy="451.5" r="1.18" fill-opacity="0.41"/><circle cx="148.1" cy="446.6" r="0.69" fill-opacity="0.71"/><circle cx="145.7" cy="459.4" r="1.11" fill-opacity="0.83"/><circle cx="158.8" cy="475.4" r="1.00" fill-opacity="0.90"/><circle cx="149.4" cy="457.7" r="1.01" fill-opacity="0.97"/><circle cx="170.4" cy="462.2" r="0.78" fill-opacity="0.57"/><circle cx="147.5" cy="483.9" r="1.22" fill-opacity="0.94"/><circle cx="165.3" cy="472.1" r="0.81" fill-opacity="0.69"/><circle cx="143.6" cy="459.9" r="0.78" fill-opacity="0.46"/><circle cx="187.4" cy="446.1" r="1.17" fill-opacity="0.82"/><circle cx="140.4" cy="462.6" r="1.30" fill-opacity="0.99"/><circle cx="167.2" cy="474.8" r="1.10" fill-opacity="0.58"/><circle cx="166.5" cy="467.4" r="0.88" fill-opacity="0.89"/><circle cx="160.5" cy="473.9" r="0.65" fill-opacity="0.67"/><circle cx="137.8" cy="469.5" r="1.21" fill-opacity="0.73"/><circle cx="167.4" cy="468.5" r="0.76" fill-opacity="0.63"/><circle cx="168.1" cy="469.5" r="0.87" fill-opacity="0.69"/><circle cx="154.1" cy="465.6" r="1.07" fill-opacity="0.60"/><circle cx="174.1" cy="478.1" r="0.98" fill-opacity="0.99"/></g>
</g>
<rect x="176.00" y="479.60" width="12.00" height="1.90" fill="#fff"/>
<clipPath id="c14"><rect x="18.00" y="486.50" width="56.70" height="42.50"/></clipPath>
<g clip-path="url(#c14)">
<rect x="18.00" y="486.50" width="56.70" height="42.50" fill="#000"/>
<g fill="#1c1cff"><circle cx="27.2" cy="515.4" r="1.08" fill-opacity="1.00"/><circle cx="27.7" cy="499.2" r="0.93" fill-opacity="0.86"/><circle cx="60.2" cy="495.3" r="0.93" fill-opacity="0.95"/><circle cx="59.4" cy="500.3" r="1.55" fill-opacity="0.84"/><circle cx="29.3" cy="522.2" r="0.93" fill-opacity="0.92"/><circle cx="49.0" cy="513.4" r="1.54" fill-opacity="1.00"/><circle cx="29.5" cy="529.1" r="0.92" fill-opacity="0.87"/><circle cx="65.7" cy="488.4" r="0.91" fill-opacity="0.95"/><circle cx="67.4" cy="524.5" r="1.19" fill-opacity="0.96"/><circle cx="58.8" cy="492.8" r="1.49" fill-opacity="0.92"/><circle cx="68.5" cy="522.2" r="1.26" fill-opacity="0.88"/><circle cx="50.8" cy="487.7" r="1.54" fill-opacity="0.80"/><circle cx="65.6" cy="489.1" r="1.07" fill-opacity="0.77"/><circle cx="55.0" cy="490.8" r="1.46" fill-opacity="0.79"/><circle cx="30.8" cy="514.8" r="1.05" fill-opacity="0.79"/><circle cx="59.7" cy="498.7" r="1.50" fill-opacity="0.96"/><circle cx="57.0" cy="517.7" r="1.34" fill-opacity="0.85"/><circle cx="46.8" cy="525.3" r="1.24" fill-opacity="0.93"/><circle cx="33.0" cy="515.3" r="1.28" fill-opacity="0.99"/><circle cx="65.5" cy="478.2" r="1.33" fill-opacity="0.98"/><circle cx="74.1" cy="522.3" r="1.15" fill-opacity="0.94"/><circle cx="44.0" cy="487.0" r="1.29" fill-opacity="0.86"/><circle cx="32.4" cy="516.1" r="1.39" fill-opacity="0.79"/><circle cx="70.3" cy="529.2" r="1.37" fill-opacity="0.75"/><circle cx="72.6" cy="528.5" r="0.98" fill-opacity="0.81"/><circle cx="66.7" cy="498.1" r="1.43" fill-opacity="0.95"/><circle cx="62.7" cy="482.6" r="1.47" fill-opacity="0.80"/><circle cx="26.6" cy="502.3" r="0.97" fill-opacity="0.83"/><circle cx="42.0" cy="511.3" r="1.52" fill-opacity="0.95"/><circle cx="67.3" cy="490.7" r="1.27" fill-opacity="0.84"/><circle cx="26.1" cy="517.8" r="1.46" fill-opacity="0.83"/><circle cx="28.0" cy="514.4" r="1.32" fill-opacity="0.80"/><circle cx="41.1" cy="525.0" r="1.11" fill-opacity="0.94"/><circle cx="26.3" cy="491.8" r="1.28" fill-opacity="0.77"/><circle cx="55.4" cy="489.9" r="1.57" fill-opacity="0.88"/><circle cx="24.7" cy="508.5" r="1.37" fill-opacity="0.98"/><circle cx="62.3" cy="484.0" r="1.39" fill-opacity="0.91"/><circle cx="53.0" cy="511.7" r="1.44" fill-opacity="0.85"/><circle cx="46.5" cy="515.1" r="1.02" fill-opacity="0.78"/><circle cx="38.8" cy="512.3" r="1.35" fill-opacity="0.78"/><circle cx="67.4" cy="523.9" r="1.04" fill-opacity="0.82"/><circle cx="71.7" cy="528.2" r="1.55" fill-opacity="0.83"/><circle cx="41.4" cy="493.0" r="1.04" fill-opacity="0.84"/><circle cx="34.9" cy="519.2" r="1.46" fill-opacity="0.75"/><circle cx="43.5" cy="490.3" r="1.18" fill-opacity="1.00"/><circle cx="42.0" cy="514.9" r="0.95" fill-opacity="0.88"/><circle cx="57.5" cy="524.9" r="1.05" fill-opacity="0.90"/><circle cx="54.9" cy="499.7" r="1.12" fill-opacity="0.91"/><circle cx="57.1" cy="491.5" r="1.57" fill-opacity="0.78"/><circle cx="51.3" cy="494.1" r="1.52" fill-opacity="0.99"/><circle cx="14.6" cy="511.3" r="1.45" fill-opacity="0.89"/><circle cx="49.4" cy="492.3" r="1.49" fill-opacity="0.92"/><circle cx="64.5" cy="491.9" r="1.55" fill-opacity="0.80"/><circle cx="63.5" cy="501.2" r="1.30" fill-opacity="0.96"/><circle cx="53.6" cy="499.3" r="1.39" fill-opacity="0.85"/><circle cx="22.1" cy="514.0" r="1.30" fill-opacity="0.86"/><circle cx="22.8" cy="507.0" r="0.93" fill-opacity="0.85"/><circle cx="64.5" cy="510.9" r="1.10" fill-opacity="0.96"/><circle cx="62.3" cy="520.1" r="1.18" fill-opacity="0.78"/><circle cx="64.7" cy="488.2" r="0.96" fill-opacity="0.83"/><circle cx="68.5" cy="520.4" r="1.23" fill-opacity="0.87"/><circle cx="37.9" cy="506.1" r="0.93" fill-opacity="0.95"/><circle cx="25.7" cy="514.6" r="1.28" fill-opacity="0.77"/><circle cx="39.7" cy="517.1" r="1.55" fill-opacity="0.94"/><circle cx="70.3" cy="507.1" r="1.56" fill-opacity="0.87"/><circle cx="20.1" cy="519.4" r="1.44" fill-opacity="0.83"/><circle cx="53.2" cy="497.4" r="1.22" fill-opacity="0.97"/><circle cx="21.6" cy="496.0" r="1.18" fill-opacity="0.94"/><circle cx="26.1" cy="526.2" r="1.52" fill-opacity="0.92"/><circle cx="72.7" cy="515.9" r="1.50" fill-opacity="0.95"/><circle cx="41.6" cy="515.3" r="1.45" fill-opacity="0.82"/><circle cx="52.2" cy="502.6" r="1.20" fill-opacity="0.98"/><circle cx="66.9" cy="521.3" r="0.95" fill-opacity="0.89"/><circle cx="33.3" cy="521.6" r="1.52" fill-opacity="0.91"/><circle cx="37.4" cy="506.4" r="1.38" fill-opacity="0.94"/><circle cx="32.9" cy="514.4" r="1.37" fill-opacity="0.78"/><circle cx="75.0" cy="525.1" r="0.96" fill-opacity="0.81"/><circle cx="49.6" cy="522.6" r="1.30" fill-opacity="0.84"/><circle cx="73.9" cy="520.1" r="0.95" fill-opacity="0.79"/><circle cx="72.8" cy="492.3" r="1.00" fill-opacity="0.95"/><circle cx="45.0" cy="501.1" r="1.59" fill-opacity="0.98"/><circle cx="46.9" cy="508.6" r="1.01" fill-opacity="0.98"/><circle cx="45.3" cy="498.3" r="1.09" fill-opacity="0.97"/><circle cx="38.0" cy="487.0" r="1.40" fill-opacity="0.87"/><circle cx="71.5" cy="510.2" r="0.94" fill-opacity="0.79"/><circle cx="26.0" cy="527.9" r="1.32" fill-opacity="0.78"/><circle cx="60.6" cy="497.0" r="1.25" fill-opacity="0.97"/><circle cx="46.4" cy="493.7" r="1.05" fill-opacity="0.90"/><circle cx="64.2" cy="519.1" r="1.57" fill-opacity="0.86"/><circle cx="59.5" cy="502.7" r="1.29" fill-opacity="0.97"/><circle cx="64.0" cy="484.3" r="1.47" fill-opacity="0.76"/><circle cx="27.9" cy="500.1" r="1.30" fill-opacity="0.79"/><circle cx="55.6" cy="519.5" r="1.24" fill-opacity="0.96"/><circle cx="49.0" cy="514.4" r="1.08" fill-opacity="0.90"/><circle cx="60.0" cy="497.2" r="1.44" fill-opacity="0.78"/><circle cx="46.8" cy="505.4" r="1.60" fill-opacity="0.80"/><circle cx="58.2" cy="489.2" r="1.39" fill-opacity="0.99"/><circle cx="70.8" cy="495.6" r="1.08" fill-opacity="0.99"/><circle cx="40.3" cy="489.2" r="1.08" fill-opacity="0.85"/><circle cx="23.4" cy="523.6" r="1.10" fill-opacity="0.90"/><circle cx="22.1" cy="512.3" r="0.93" fill-opacity="0.77"/><circle cx="55.3" cy="492.0" r="1.19" fill-opacity="0.94"/><circle cx="18.6" cy="513.8" r="1.14" fill-opacity="0.98"/><circle cx="50.9" cy="511.0" r="1.42" fill-opacity="0.78"/><circle cx="42.6" cy="513.4" r="0.96" fill-opacity="0.78"/><circle cx="60.6" cy="500.8" r="0.91" fill-opacity="0.92"/><circle cx="33.5" cy="511.9" r="1.59" fill-opacity="0.80"/><circle cx="24.2" cy="528.4" r="1.38" fill-opacity="0.90"/><circle cx="36.2" cy="522.5" r="1.29" fill-opacity="0.83"/><circle cx="60.7" cy="496.7" r="1.15" fill-opacity="0.88"/><circle cx="30.7" cy="524.6" r="1.09" fill-opacity="0.85"/><circle cx="21.9" cy="527.5" r="1.22" fill-opacity="0.87"/><circle cx="75.3" cy="527.4" r="1.09" fill-opacity="0.83"/><circle cx="61.4" cy="493.0" r="1.42" fill-opacity="0.98"/><circle cx="57.8" cy="490.3" r="1.27" fill-opacity="0.84"/><circle cx="51.3" cy="513.7" r="1.56" fill-opacity="0.92"/><circle cx="74.3" cy="512.5" r="1.24" fill-opacity="0.84"/><circle cx="26.3" cy="515.1" r="1.48" fill-opacity="0.77"/><circle cx="21.8" cy="520.4" r="1.04" fill-opacity="0.82"/><circle cx="24.7" cy="510.8" r="1.39" fill-opacity="0.98"/><circle cx="54.7" cy="512.4" r="1.41" fill-opacity="0.92"/><circle cx="62.4" cy="519.0" r="1.11" fill-opacity="0.86"/><circle cx="14.9" cy="527.8" r="1.12" fill-opacity="0.84"/><circle cx="63.6" cy="516.6" r="1.08" fill-opacity="0.88"/><circle cx="60.0" cy="527.5" r="1.44" fill-opacity="0.92"/><circle cx="55.4" cy="521.9" r="1.21" fill-opacity="0.92"/><circle cx="21.5" cy="504.4" r="1.11" fill-opacity="0.84"/><circle cx="61.7" cy="491.7" r="1.03" fill-opacity="0.87"/><circle cx="54.2" cy="518.7" r="1.36" fill-opacity="0.99"/><circle cx="26.3" cy="490.2" r="1.56" fill-opacity="0.90"/><circle cx="58.9" cy="518.1" r="1.14" fill-opacity="0.81"/><circle cx="37.5" cy="509.0" r="1.17" fill-opacity="0.99"/><circle cx="56.8" cy="524.4" r="1.32" fill-opacity="0.84"/><circle cx="32.9" cy="514.9" r="0.90" fill-opacity="0.79"/><circle cx="65.6" cy="493.0" r="1.24" fill-opacity="0.93"/><circle cx="72.3" cy="525.6" r="1.07" fill-opacity="0.87"/><circle cx="54.3" cy="509.3" r="1.25" fill-opacity="0.97"/><circle cx="27.3" cy="522.5" r="1.05" fill-opacity="0.92"/><circle cx="41.4" cy="520.2" r="1.00" fill-opacity="0.99"/><circle cx="34.6" cy="523.0" r="1.57" fill-opacity="0.85"/><circle cx="64.3" cy="495.8" r="0.97" fill-opacity="0.97"/><circle cx="23.0" cy="531.2" r="1.05" fill-opacity="0.83"/><circle cx="28.3" cy="508.4" r="1.13" fill-opacity="0.96"/><circle cx="29.9" cy="506.3" r="1.07" fill-opacity="0.76"/><circle cx="37.7" cy="499.5" r="0.97" fill-opacity="0.90"/><circle cx="71.2" cy="523.9" r="0.98" fill-opacity="0.85"/><circle cx="64.1" cy="496.0" r="0.91" fill-opacity="0.78"/><circle cx="34.9" cy="516.2" r="1.36" fill-opacity="1.00"/><circle cx="30.3" cy="525.4" r="1.12" fill-opacity="0.86"/><circle cx="51.5" cy="501.5" r="0.90" fill-opacity="0.80"/><circle cx="34.4" cy="520.4" r="1.15" fill-opacity="0.90"/><circle cx="20.0" cy="519.7" r="1.50" fill-opacity="0.81"/><circle cx="74.0" cy="505.3" r="0.95" fill-opacity="0.89"/><circle cx="53.0" cy="494.4" r="1.59" fill-opacity="0.83"/><circle cx="38.2" cy="519.7" r="1.25" fill-opacity="0.92"/><circle cx="41.5" cy="488.9" r="1.51" fill-opacity="0.91"/><circle cx="64.5" cy="488.1" r="1.36" fill-opacity="0.84"/><circle cx="22.3" cy="487.9" r="1.25" fill-opacity="0.87"/><circle cx="31.6" cy="511.2" r="1.29" fill-opacity="0.86"/><circle cx="56.3" cy="508.3" r="1.15" fill-opacity="0.78"/><circle cx="26.4" cy="524.6" r="1.06" fill-opacity="0.98"/><circle cx="15.8" cy="516.6" r="1.19" fill-opacity="0.79"/><circle cx="69.3" cy="516.6" r="1.32" fill-opacity="0.96"/><circle cx="60.8" cy="490.5" r="1.33" fill-opacity="0.81"/><circle cx="66.8" cy="484.2" r="1.37" fill-opacity="0.87"/><circle cx="28.4" cy="526.2" r="1.52" fill-opacity="0.86"/><circle cx="38.6" cy="517.6" r="1.44" fill-opacity="0.99"/><circle cx="40.2" cy="528.3" r="1.49" fill-opacity="0.86"/><circle cx="26.2" cy="527.8" r="1.53" fill-opacity="0.92"/><circle cx="33.3" cy="505.2" r="1.10" fill-opacity="0.97"/><circle cx="23.4" cy="518.9" r="1.59" fill-opacity="0.76"/><circle cx="52.9" cy="512.6" r="0.97" fill-opacity="0.87"/><circle cx="65.8" cy="484.8" r="1.54" fill-opacity="0.97"/><circle cx="54.4" cy="486.5" r="0.99" fill-opacity="0.81"/><circle cx="31.3" cy="527.1" r="1.45" fill-opacity="0.91"/><circle cx="38.6" cy="519.3" r="1.28" fill-opacity="0.77"/><circle cx="74.8" cy="524.7" r="1.07" fill-opacity="0.87"/><circle cx="51.2" cy="497.3" r="1.54" fill-opacity="0.97"/><circle cx="33.3" cy="527.9" r="1.50" fill-opacity="0.97"/><circle cx="21.0" cy="517.8" r="1.34" fill-opacity="0.94"/><circle cx="44.9" cy="496.3" r="1.52" fill-opacity="0.95"/><circle cx="27.7" cy="527.1" r="1.46" fill-opacity="0.78"/><circle cx="52.7" cy="496.7" r="0.91" fill-opacity="0.92"/><circle cx="49.1" cy="500.5" r="1.27" fill-opacity="0.79"/><circle cx="58.1" cy="486.9" r="1.40" fill-opacity="0.85"/><circle cx="23.6" cy="487.4" r="1.20" fill-opacity="0.80"/><circle cx="61.1" cy="523.2" r="0.91" fill-opacity="0.75"/><circle cx="71.2" cy="521.9" r="1.19" fill-opacity="0.92"/><circle cx="31.9" cy="513.4" r="1.30" fill-opacity="0.92"/><circle cx="39.4" cy="516.7" r="1.53" fill-opacity="0.94"/><circle cx="22.8" cy="523.6" r="1.49" fill-opacity="0.96"/><circle cx="42.4" cy="525.1" r="1.07" fill-opacity="0.78"/><circle cx="36.5" cy="517.5" r="1.41" fill-opacity="0.90"/><circle cx="23.9" cy="517.2" r="0.90" fill-opacity="0.91"/><circle cx="20.9" cy="514.1" r="1.48" fill-opacity="0.77"/><circle cx="32.2" cy="518.1" r="1.09" fill-opacity="0.97"/><circle cx="43.4" cy="524.6" r="1.36" fill-opacity="0.79"/><circle cx="53.1" cy="488.5" r="0.99" fill-opacity="0.77"/><circle cx="67.3" cy="525.6" r="1.57" fill-opacity="0.89"/><circle cx="45.3" cy="492.9" r="1.50" fill-opacity="0.89"/></g>
</g>
<rect x="58.70" y="524.10" width="12.00" height="1.90" fill="#fff"/>
<clipPath id="c15"><rect x="76.70" y="486.50" width="56.60" height="42.50"/></clipPath>
<g clip-path="url(#c15)">
<rect x="76.70" y="486.50" width="56.60" height="42.50" fill="#000"/>
<g fill="#1c1cff"><circle cx="124.6" cy="522.4" r="1.40" fill-opacity="0.87"/><circle cx="115.0" cy="516.5" r="1.01" fill-opacity="0.83"/><circle cx="132.7" cy="525.5" r="0.94" fill-opacity="0.83"/><circle cx="130.0" cy="501.7" r="1.34" fill-opacity="0.92"/><circle cx="94.2" cy="510.4" r="1.43" fill-opacity="0.89"/><circle cx="104.5" cy="512.8" r="1.13" fill-opacity="0.82"/><circle cx="122.7" cy="508.7" r="1.44" fill-opacity="0.89"/><circle cx="84.9" cy="516.6" r="0.97" fill-opacity="0.87"/><circle cx="125.8" cy="527.6" r="1.25" fill-opacity="0.75"/><circle cx="124.4" cy="499.7" r="1.36" fill-opacity="0.86"/><circle cx="105.3" cy="493.6" r="0.92" fill-opacity="0.92"/><circle cx="99.5" cy="518.0" r="1.05" fill-opacity="0.98"/><circle cx="127.7" cy="499.9" r="0.97" fill-opacity="0.95"/><circle cx="94.8" cy="521.0" r="0.93" fill-opacity="0.97"/><circle cx="128.1" cy="499.4" r="1.50" fill-opacity="0.88"/><circle cx="123.6" cy="498.3" r="0.97" fill-opacity="0.96"/><circle cx="106.6" cy="524.3" r="1.36" fill-opacity="0.90"/><circle cx="84.8" cy="495.4" r="1.32" fill-opacity="0.91"/><circle cx="94.4" cy="513.3" r="1.11" fill-opacity="0.84"/><circle cx="80.7" cy="518.2" r="0.96" fill-opacity="0.81"/><circle cx="122.4" cy="489.3" r="1.30" fill-opacity="0.80"/><circle cx="132.8" cy="487.9" r="0.95" fill-opacity="0.94"/><circle cx="94.8" cy="513.2" r="1.17" fill-opacity="0.91"/><circle cx="133.7" cy="502.5" r="1.08" fill-opacity="0.86"/><circle cx="96.5" cy="524.7" r="1.12" fill-opacity="0.84"/><circle cx="78.6" cy="504.2" r="1.23" fill-opacity="0.99"/><circle cx="124.1" cy="508.1" r="1.37" fill-opacity="0.76"/><circle cx="118.3" cy="520.4" r="1.27" fill-opacity="0.93"/><circle cx="120.8" cy="509.1" r="1.28" fill-opacity="0.98"/><circle cx="130.3" cy="504.2" r="1.49" fill-opacity="0.91"/><circle cx="103.8" cy="504.6" r="1.49" fill-opacity="0.82"/><circle cx="123.9" cy="501.4" r="1.30" fill-opacity="0.98"/><circle cx="116.4" cy="502.5" r="1.08" fill-opacity="0.76"/><circle cx="95.4" cy="498.8" r="1.14" fill-opacity="0.96"/><circle cx="126.1" cy="489.7" r="1.27" fill-opacity="0.81"/><circle cx="88.9" cy="514.1" r="1.42" fill-opacity="0.95"/><circle cx="118.7" cy="513.2" r="1.36" fill-opacity="0.97"/><circle cx="81.0" cy="506.8" r="1.36" fill-opacity="0.98"/><circle cx="98.5" cy="492.0" r="1.16" fill-opacity="0.78"/><circle cx="124.3" cy="526.3" r="1.33" fill-opacity="0.89"/><circle cx="85.6" cy="488.4" r="0.97" fill-opacity="0.98"/><circle cx="124.6" cy="505.5" r="1.08" fill-opacity="0.83"/><circle cx="85.6" cy="506.8" r="1.17" fill-opacity="0.86"/><circle cx="103.2" cy="518.3" r="1.41" fill-opacity="0.81"/><circle cx="131.0" cy="493.6" r="1.16" fill-opacity="0.84"/><circle cx="96.1" cy="511.0" r="1.11" fill-opacity="0.93"/><circle cx="92.7" cy="498.3" r="1.26" fill-opacity="0.80"/><circle cx="119.9" cy="528.2" r="1.42" fill-opacity="0.97"/><circle cx="92.2" cy="495.8" r="1.39" fill-opacity="0.93"/><circle cx="83.7" cy="511.2" r="1.37" fill-opacity="0.78"/><circle cx="105.8" cy="489.8" r="1.07" fill-opacity="0.88"/><circle cx="124.0" cy="506.2" r="0.93" fill-opacity="0.80"/><circle cx="123.4" cy="528.4" r="1.17" fill-opacity="0.97"/><circle cx="131.9" cy="511.6" r="1.35" fill-opacity="0.89"/><circle cx="88.9" cy="510.1" r="0.95" fill-opacity="0.89"/><circle cx="121.3" cy="527.7" r="1.02" fill-opacity="0.99"/><circle cx="101.3" cy="524.1" r="1.01" fill-opacity="1.00"/><circle cx="111.4" cy="498.3" r="0.90" fill-opacity="0.89"/><circle cx="116.5" cy="519.5" r="1.46" fill-opacity="0.76"/><circle cx="81.7" cy="522.5" r="1.22" fill-opacity="0.75"/><circle cx="101.1" cy="513.2" r="1.21" fill-opacity="0.92"/><circle cx="104.6" cy="519.2" r="1.00" fill-opacity="0.81"/><circle cx="118.9" cy="528.1" r="0.94" fill-opacity="1.00"/><circle cx="91.9" cy="519.5" r="1.34" fill-opacity="0.97"/><circle cx="98.2" cy="493.0" r="1.16" fill-opacity="0.81"/><circle cx="80.1" cy="507.8" r="1.22" fill-opacity="0.86"/><circle cx="115.8" cy="509.3" r="0.98" fill-opacity="0.76"/><circle cx="83.3" cy="501.0" r="1.44" fill-opacity="0.92"/><circle cx="93.8" cy="516.1" r="1.35" fill-opacity="0.88"/><circle cx="109.5" cy="513.7" r="0.98" fill-opacity="0.97"/><circle cx="108.8" cy="497.5" r="1.30" fill-opacity="0.85"/><circle cx="80.4" cy="516.2" r="1.07" fill-opacity="0.82"/><circle cx="101.3" cy="514.1" r="0.95" fill-opacity="0.82"/><circle cx="112.0" cy="495.9" r="1.26" fill-opacity="0.83"/><circle cx="92.1" cy="490.9" r="1.31" fill-opacity="0.82"/><circle cx="93.3" cy="497.0" r="1.22" fill-opacity="0.82"/><circle cx="132.8" cy="495.1" r="1.39" fill-opacity="0.97"/><circle cx="94.2" cy="521.5" r="1.13" fill-opacity="0.96"/><circle cx="99.4" cy="516.9" r="0.93" fill-opacity="0.81"/><circle cx="94.7" cy="517.3" r="0.97" fill-opacity="0.99"/><circle cx="130.8" cy="500.7" r="1.47" fill-opacity="0.79"/><circle cx="129.2" cy="524.1" r="1.47" fill-opacity="0.95"/><circle cx="96.7" cy="493.4" r="1.36" fill-opacity="0.93"/><circle cx="95.2" cy="528.5" r="1.37" fill-opacity="0.94"/><circle cx="86.9" cy="512.4" r="1.47" fill-opacity="0.79"/><circle cx="86.5" cy="516.5" r="1.38" fill-opacity="0.83"/><circle cx="125.9" cy="526.4" r="1.12" fill-opacity="0.82"/><circle cx="118.5" cy="529.2" r="0.95" fill-opacity="0.78"/><circle cx="82.8" cy="521.6" r="1.15" fill-opacity="0.80"/><circle cx="122.5" cy="526.8" r="1.08" fill-opacity="0.94"/><circle cx="93.1" cy="519.7" r="1.17" fill-opacity="0.86"/><circle cx="90.0" cy="514.1" r="1.18" fill-opacity="0.88"/><circle cx="131.3" cy="498.7" r="0.90" fill-opacity="0.89"/><circle cx="93.4" cy="524.4" r="1.36" fill-opacity="0.80"/><circle cx="78.6" cy="495.1" r="0.99" fill-opacity="0.83"/><circle cx="116.3" cy="498.3" r="1.03" fill-opacity="0.78"/><circle cx="121.8" cy="506.7" r="1.19" fill-opacity="0.82"/><circle cx="101.7" cy="490.2" r="0.98" fill-opacity="0.94"/><circle cx="131.5" cy="499.0" r="1.28" fill-opacity="0.83"/><circle cx="129.6" cy="501.8" r="0.98" fill-opacity="0.80"/><circle cx="91.7" cy="523.8" r="1.37" fill-opacity="0.85"/><circle cx="98.2" cy="526.3" r="0.99" fill-opacity="0.76"/><circle cx="109.8" cy="523.7" r="1.14" fill-opacity="1.00"/><circle cx="93.1" cy="519.3" r="0.94" fill-opacity="0.80"/><circle cx="108.3" cy="488.1" r="1.29" fill-opacity="0.76"/><circle cx="130.7" cy="493.8" r="1.22" fill-opacity="0.95"/><circle cx="95.7" cy="517.3" r="0.91" fill-opacity="0.97"/><circle cx="80.2" cy="495.9" r="1.05" fill-opacity="0.81"/><circle cx="93.8" cy="490.8" r="1.39" fill-opacity="0.94"/><circle cx="100.0" cy="519.6" r="1.12" fill-opacity="0.78"/><circle cx="102.0" cy="519.3" r="1.19" fill-opacity="0.85"/><circle cx="102.3" cy="519.3" r="1.33" fill-opacity="0.84"/><circle cx="93.2" cy="490.9" r="1.49" fill-opacity="0.94"/><circle cx="121.7" cy="502.5" r="1.08" fill-opacity="0.92"/><circle cx="125.5" cy="525.7" r="1.04" fill-opacity="0.81"/><circle cx="117.1" cy="527.9" r="1.20" fill-opacity="0.96"/><circle cx="135.8" cy="503.0" r="1.11" fill-opacity="0.84"/><circle cx="86.7" cy="525.0" r="1.08" fill-opacity="0.88"/><circle cx="124.0" cy="502.8" r="1.42" fill-opacity="0.95"/><circle cx="113.7" cy="497.8" r="1.26" fill-opacity="0.93"/><circle cx="93.1" cy="503.3" r="1.45" fill-opacity="0.79"/><circle cx="122.4" cy="501.6" r="1.23" fill-opacity="0.80"/><circle cx="83.6" cy="515.1" r="1.48" fill-opacity="0.93"/><circle cx="118.1" cy="517.2" r="1.29" fill-opacity="0.77"/><circle cx="123.0" cy="492.7" r="1.14" fill-opacity="0.95"/><circle cx="89.0" cy="506.9" r="1.13" fill-opacity="0.78"/><circle cx="98.3" cy="518.1" r="1.10" fill-opacity="1.00"/><circle cx="100.4" cy="520.8" r="1.36" fill-opacity="0.85"/><circle cx="103.0" cy="518.9" r="1.49" fill-opacity="0.94"/><circle cx="88.9" cy="516.8" r="1.44" fill-opacity="0.78"/><circle cx="108.9" cy="527.2" r="1.00" fill-opacity="0.85"/><circle cx="95.2" cy="522.3" r="1.37" fill-opacity="0.86"/><circle cx="91.4" cy="493.0" r="1.49" fill-opacity="0.89"/><circle cx="109.1" cy="495.1" r="1.02" fill-opacity="0.84"/><circle cx="99.9" cy="496.5" r="0.96" fill-opacity="0.94"/><circle cx="97.0" cy="512.3" r="1.07" fill-opacity="0.88"/><circle cx="94.2" cy="498.9" r="1.06" fill-opacity="0.82"/><circle cx="95.1" cy="520.7" r="1.16" fill-opacity="0.86"/><circle cx="93.8" cy="505.6" r="0.92" fill-opacity="0.89"/><circle cx="103.4" cy="490.0" r="1.04" fill-opacity="0.81"/><circle cx="85.5" cy="512.9" r="1.47" fill-opacity="0.96"/><circle cx="84.6" cy="491.2" r="1.00" fill-opacity="0.93"/><circle cx="94.7" cy="505.6" r="1.06" fill-opacity="0.81"/><circle cx="94.6" cy="518.9" r="1.15" fill-opacity="0.95"/><circle cx="77.7" cy="491.5" r="1.49" fill-opacity="0.78"/><circle cx="99.7" cy="503.3" r="0.91" fill-opacity="0.90"/><circle cx="124.2" cy="503.6" r="0.97" fill-opacity="0.81"/><circle cx="129.4" cy="522.3" r="1.41" fill-opacity="0.94"/><circle cx="87.7" cy="512.9" r="1.14" fill-opacity="0.78"/><circle cx="128.3" cy="495.2" r="1.34" fill-opacity="0.77"/><circle cx="104.7" cy="510.5" r="1.04" fill-opacity="0.83"/><circle cx="98.4" cy="526.9" r="1.47" fill-opacity="0.94"/><circle cx="99.7" cy="501.9" r="1.30" fill-opacity="0.85"/><circle cx="84.8" cy="514.1" r="0.93" fill-opacity="0.78"/><circle cx="89.1" cy="517.0" r="0.92" fill-opacity="0.80"/><circle cx="127.0" cy="526.2" r="1.29" fill-opacity="0.91"/><circle cx="115.5" cy="527.7" r="1.37" fill-opacity="0.87"/><circle cx="121.1" cy="498.2" r="1.18" fill-opacity="0.95"/><circle cx="93.2" cy="512.5" r="1.37" fill-opacity="0.92"/><circle cx="109.5" cy="503.7" r="1.47" fill-opacity="0.78"/><circle cx="116.4" cy="512.7" r="1.50" fill-opacity="0.86"/><circle cx="129.6" cy="499.1" r="1.43" fill-opacity="0.93"/><circle cx="104.6" cy="519.4" r="1.01" fill-opacity="0.75"/><circle cx="123.4" cy="499.5" r="0.97" fill-opacity="0.91"/><circle cx="82.3" cy="512.4" r="1.20" fill-opacity="0.91"/><circle cx="93.4" cy="521.6" r="1.32" fill-opacity="0.96"/><circle cx="94.4" cy="526.8" r="1.01" fill-opacity="0.93"/><circle cx="110.2" cy="517.5" r="1.02" fill-opacity="0.76"/><circle cx="95.0" cy="519.8" r="1.28" fill-opacity="0.76"/><circle cx="131.3" cy="496.6" r="1.48" fill-opacity="0.79"/><circle cx="123.3" cy="503.1" r="1.37" fill-opacity="0.91"/><circle cx="115.1" cy="526.0" r="1.33" fill-opacity="0.88"/><circle cx="117.7" cy="510.7" r="1.27" fill-opacity="0.95"/><circle cx="131.1" cy="512.1" r="1.33" fill-opacity="0.81"/><circle cx="91.8" cy="515.8" r="1.21" fill-opacity="1.00"/><circle cx="88.5" cy="525.9" r="0.92" fill-opacity="0.78"/><circle cx="94.5" cy="493.7" r="1.32" fill-opacity="0.95"/><circle cx="113.3" cy="528.5" r="1.28" fill-opacity="1.00"/><circle cx="127.9" cy="501.9" r="1.01" fill-opacity="0.80"/><circle cx="94.8" cy="525.6" r="0.94" fill-opacity="0.81"/><circle cx="90.3" cy="525.4" r="1.32" fill-opacity="0.82"/><circle cx="96.0" cy="506.4" r="0.92" fill-opacity="0.83"/><circle cx="98.8" cy="527.1" r="0.95" fill-opacity="0.93"/><circle cx="89.6" cy="497.1" r="1.42" fill-opacity="0.95"/><circle cx="94.2" cy="515.2" r="1.13" fill-opacity="0.88"/><circle cx="101.9" cy="527.6" r="0.95" fill-opacity="0.76"/><circle cx="82.6" cy="520.1" r="1.15" fill-opacity="0.80"/><circle cx="100.3" cy="505.6" r="1.30" fill-opacity="0.96"/><circle cx="86.3" cy="511.4" r="1.24" fill-opacity="0.83"/><circle cx="126.6" cy="505.1" r="1.20" fill-opacity="0.95"/></g>
</g>
<rect x="117.30" y="524.10" width="12.00" height="1.90" fill="#fff"/>
<clipPath id="c16"><rect x="135.30" y="486.50" width="56.70" height="42.50"/></clipPath>
<g clip-path="url(#c16)">
<rect x="135.30" y="486.50" width="56.70" height="42.50" fill="#000"/>
<g fill="#1c1cff"><circle cx="178.1" cy="524.0" r="1.19" fill-opacity="0.91"/><circle cx="151.1" cy="507.1" r="0.88" fill-opacity="0.78"/><circle cx="174.7" cy="528.3" r="1.32" fill-opacity="0.74"/><circle cx="175.5" cy="523.0" r="0.91" fill-opacity="0.92"/><circle cx="178.2" cy="485.9" r="1.05" fill-opacity="0.75"/><circle cx="137.7" cy="528.7" r="1.14" fill-opacity="0.87"/><circle cx="153.2" cy="526.5" r="1.15" fill-opacity="0.98"/><circle cx="170.9" cy="501.7" r="1.40" fill-opacity="0.86"/><circle cx="181.3" cy="525.6" r="1.03" fill-opacity="0.90"/><circle cx="172.6" cy="492.4" r="1.16" fill-opacity="0.92"/><circle cx="139.0" cy="490.5" r="1.12" fill-opacity="0.92"/><circle cx="129.2" cy="524.3" r="0.93" fill-opacity="0.95"/><circle cx="141.8" cy="496.1" r="0.98" fill-opacity="0.94"/><circle cx="139.2" cy="517.8" r="0.98" fill-opacity="0.96"/><circle cx="182.9" cy="524.5" r="0.80" fill-opacity="0.85"/><circle cx="181.7" cy="490.1" r="1.39" fill-opacity="0.85"/><circle cx="139.7" cy="527.3" r="1.12" fill-opacity="0.90"/><circle cx="154.4" cy="523.7" r="1.34" fill-opacity="0.74"/><circle cx="137.2" cy="497.9" r="1.38" fill-opacity="0.98"/><circle cx="178.7" cy="486.3" r="0.83" fill-opacity="0.80"/><circle cx="181.6" cy="527.4" r="1.12" fill-opacity="0.82"/><circle cx="185.7" cy="500.6" r="0.83" fill-opacity="0.96"/><circle cx="183.8" cy="519.3" r="1.21" fill-opacity="0.93"/><circle cx="178.6" cy="514.7" r="1.36" fill-opacity="0.76"/><circle cx="150.3" cy="488.2" r="0.90" fill-opacity="0.75"/><circle cx="161.3" cy="505.3" r="0.91" fill-opacity="0.74"/><circle cx="167.0" cy="519.7" r="1.16" fill-opacity="0.84"/><circle cx="176.0" cy="493.2" r="1.34" fill-opacity="0.97"/><circle cx="176.7" cy="484.3" r="0.81" fill-opacity="0.80"/><circle cx="186.8" cy="488.8" r="1.39" fill-opacity="0.99"/><circle cx="180.5" cy="525.6" r="1.07" fill-opacity="0.84"/><circle cx="152.0" cy="525.4" r="1.27" fill-opacity="0.94"/><circle cx="172.1" cy="510.5" r="0.80" fill-opacity="0.89"/><circle cx="155.5" cy="509.3" r="1.31" fill-opacity="0.72"/><circle cx="181.3" cy="492.9" r="1.17" fill-opacity="0.72"/><circle cx="178.2" cy="518.4" r="1.32" fill-opacity="0.88"/><circle cx="191.7" cy="512.4" r="1.24" fill-opacity="0.83"/><circle cx="144.4" cy="492.5" r="1.05" fill-opacity="0.93"/><circle cx="182.8" cy="484.4" r="1.29" fill-opacity="0.74"/><circle cx="140.9" cy="525.9" r="1.05" fill-opacity="0.92"/><circle cx="187.7" cy="496.5" r="1.32" fill-opacity="0.90"/><circle cx="178.5" cy="524.4" r="0.86" fill-opacity="0.80"/><circle cx="185.4" cy="521.0" r="0.89" fill-opacity="0.83"/><circle cx="148.9" cy="525.5" r="1.09" fill-opacity="0.94"/><circle cx="174.7" cy="524.0" r="1.22" fill-opacity="0.99"/><circle cx="143.9" cy="505.4" r="1.20" fill-opacity="0.71"/><circle cx="145.1" cy="499.5" r="1.11" fill-opacity="0.87"/><circle cx="180.8" cy="490.6" r="1.07" fill-opacity="0.72"/><circle cx="155.6" cy="495.1" r="1.26" fill-opacity="0.91"/><circle cx="182.9" cy="523.7" r="1.31" fill-opacity="0.85"/><circle cx="171.8" cy="528.3" r="1.23" fill-opacity="0.96"/><circle cx="160.5" cy="520.0" r="0.82" fill-opacity="0.98"/><circle cx="173.9" cy="489.2" r="1.25" fill-opacity="0.81"/><circle cx="182.0" cy="517.7" r="1.18" fill-opacity="0.93"/><circle cx="179.8" cy="517.2" r="1.16" fill-opacity="0.83"/><circle cx="176.5" cy="522.1" r="0.84" fill-opacity="0.99"/><circle cx="134.5" cy="521.0" r="1.14" fill-opacity="0.70"/><circle cx="173.0" cy="525.0" r="1.14" fill-opacity="0.82"/><circle cx="164.5" cy="507.1" r="1.25" fill-opacity="0.72"/><circle cx="137.4" cy="525.7" r="1.27" fill-opacity="0.80"/><circle cx="159.0" cy="521.2" r="1.21" fill-opacity="0.97"/><circle cx="181.1" cy="520.2" r="1.10" fill-opacity="0.86"/><circle cx="141.5" cy="487.9" r="0.98" fill-opacity="0.82"/><circle cx="183.5" cy="493.9" r="0.93" fill-opacity="0.93"/><circle cx="182.9" cy="489.2" r="1.13" fill-opacity="0.71"/><circle cx="142.6" cy="496.0" r="1.25" fill-opacity="0.74"/><circle cx="136.1" cy="507.2" r="1.06" fill-opacity="0.77"/><circle cx="142.3" cy="522.6" r="1.05" fill-opacity="1.00"/><circle cx="143.4" cy="517.1" r="1.08" fill-opacity="0.94"/><circle cx="175.4" cy="526.9" r="1.00" fill-opacity="0.94"/><circle cx="186.6" cy="488.3" r="1.22" fill-opacity="0.74"/><circle cx="172.2" cy="526.8" r="0.98" fill-opacity="0.90"/><circle cx="148.3" cy="487.2" r="0.85" fill-opacity="0.75"/><circle cx="175.7" cy="517.2" r="0.80" fill-opacity="0.98"/><circle cx="179.6" cy="521.3" r="1.19" fill-opacity="0.97"/><circle cx="187.0" cy="488.7" r="0.97" fill-opacity="0.86"/><circle cx="169.4" cy="531.3" r="1.40" fill-opacity="0.92"/><circle cx="168.3" cy="492.6" r="0.90" fill-opacity="0.93"/><circle cx="143.4" cy="503.3" r="1.14" fill-opacity="0.99"/><circle cx="141.5" cy="501.8" r="1.20" fill-opacity="0.79"/><circle cx="153.6" cy="501.2" r="0.98" fill-opacity="0.82"/><circle cx="167.2" cy="510.0" r="1.20" fill-opacity="0.76"/><circle cx="176.3" cy="520.5" r="1.38" fill-opacity="0.94"/><circle cx="149.2" cy="525.8" r="1.40" fill-opacity="0.86"/><circle cx="187.9" cy="518.2" r="0.92" fill-opacity="0.90"/><circle cx="162.3" cy="513.4" r="0.86" fill-opacity="0.92"/><circle cx="182.0" cy="517.5" r="0.98" fill-opacity="0.74"/><circle cx="137.3" cy="523.3" r="1.00" fill-opacity="0.94"/><circle cx="139.3" cy="525.9" r="1.16" fill-opacity="0.88"/><circle cx="187.4" cy="505.6" r="1.10" fill-opacity="0.89"/><circle cx="174.2" cy="531.9" r="1.09" fill-opacity="0.91"/><circle cx="138.9" cy="532.7" r="0.92" fill-opacity="0.98"/><circle cx="175.7" cy="525.7" r="1.37" fill-opacity="0.96"/><circle cx="171.2" cy="530.1" r="0.90" fill-opacity="0.82"/><circle cx="193.1" cy="526.3" r="0.84" fill-opacity="0.85"/><circle cx="141.0" cy="518.1" r="1.14" fill-opacity="0.73"/><circle cx="187.4" cy="520.9" r="1.39" fill-opacity="0.74"/><circle cx="178.9" cy="521.9" r="1.02" fill-opacity="0.96"/><circle cx="138.8" cy="498.7" r="1.36" fill-opacity="0.74"/><circle cx="132.9" cy="522.0" r="1.15" fill-opacity="0.73"/><circle cx="161.0" cy="488.7" r="0.93" fill-opacity="0.80"/><circle cx="133.5" cy="529.8" r="0.91" fill-opacity="0.90"/><circle cx="135.8" cy="529.0" r="0.94" fill-opacity="0.89"/><circle cx="137.2" cy="517.7" r="1.30" fill-opacity="0.81"/><circle cx="165.2" cy="490.8" r="0.91" fill-opacity="0.88"/><circle cx="131.9" cy="529.9" r="0.83" fill-opacity="0.87"/><circle cx="183.6" cy="490.7" r="0.86" fill-opacity="0.88"/><circle cx="131.4" cy="524.3" r="1.11" fill-opacity="0.94"/><circle cx="139.7" cy="530.9" r="1.30" fill-opacity="0.83"/><circle cx="153.4" cy="518.7" r="1.35" fill-opacity="0.99"/><circle cx="142.7" cy="522.2" r="0.84" fill-opacity="0.90"/><circle cx="187.5" cy="519.0" r="1.17" fill-opacity="0.98"/><circle cx="186.2" cy="492.5" r="0.93" fill-opacity="0.79"/><circle cx="188.8" cy="495.5" r="1.35" fill-opacity="0.92"/><circle cx="177.6" cy="488.0" r="1.09" fill-opacity="0.83"/><circle cx="173.0" cy="512.8" r="1.01" fill-opacity="0.78"/><circle cx="144.8" cy="505.9" r="1.01" fill-opacity="0.78"/><circle cx="157.1" cy="507.6" r="1.02" fill-opacity="0.93"/><circle cx="156.3" cy="513.9" r="1.26" fill-opacity="0.98"/><circle cx="142.2" cy="520.0" r="0.90" fill-opacity="0.70"/><circle cx="148.0" cy="488.4" r="1.17" fill-opacity="0.96"/><circle cx="172.7" cy="524.2" r="1.38" fill-opacity="0.79"/><circle cx="139.0" cy="522.8" r="1.34" fill-opacity="0.93"/><circle cx="185.1" cy="487.1" r="0.84" fill-opacity="0.97"/><circle cx="141.6" cy="494.4" r="1.33" fill-opacity="0.74"/><circle cx="174.0" cy="528.8" r="1.14" fill-opacity="0.72"/><circle cx="169.4" cy="523.9" r="0.94" fill-opacity="0.84"/><circle cx="167.3" cy="526.9" r="1.38" fill-opacity="0.74"/><circle cx="189.9" cy="519.1" r="1.33" fill-opacity="0.80"/><circle cx="147.3" cy="518.0" r="1.01" fill-opacity="0.82"/><circle cx="178.3" cy="492.1" r="1.38" fill-opacity="0.81"/><circle cx="147.8" cy="501.7" r="0.87" fill-opacity="0.89"/><circle cx="154.8" cy="487.6" r="0.81" fill-opacity="0.94"/><circle cx="134.8" cy="529.0" r="1.14" fill-opacity="0.80"/><circle cx="167.9" cy="493.8" r="1.16" fill-opacity="0.82"/><circle cx="148.1" cy="521.5" r="1.30" fill-opacity="0.72"/><circle cx="184.4" cy="489.2" r="0.85" fill-opacity="0.86"/><circle cx="182.2" cy="489.4" r="1.39" fill-opacity="0.83"/><circle cx="168.9" cy="493.0" r="1.39" fill-opacity="0.93"/><circle cx="184.4" cy="494.2" r="1.18" fill-opacity="0.90"/><circle cx="183.5" cy="488.0" r="0.91" fill-opacity="0.98"/><circle cx="178.1" cy="490.6" r="1.04" fill-opacity="0.98"/><circle cx="175.2" cy="525.0" r="1.31" fill-opacity="0.91"/><circle cx="179.0" cy="482.4" r="1.20" fill-opacity="0.77"/><circle cx="172.5" cy="516.9" r="1.23" fill-opacity="0.75"/><circle cx="139.6" cy="528.3" r="0.83" fill-opacity="0.74"/><circle cx="151.1" cy="516.5" r="0.81" fill-opacity="0.78"/><circle cx="186.4" cy="532.5" r="1.20" fill-opacity="0.78"/><circle cx="150.0" cy="508.3" r="1.01" fill-opacity="0.96"/><circle cx="181.6" cy="488.9" r="1.39" fill-opacity="0.91"/><circle cx="185.4" cy="528.0" r="1.01" fill-opacity="0.89"/><circle cx="186.3" cy="513.1" r="1.05" fill-opacity="0.73"/><circle cx="145.0" cy="525.9" r="0.88" fill-opacity="0.91"/><circle cx="141.3" cy="525.0" r="1.23" fill-opacity="0.84"/><circle cx="182.3" cy="490.6" r="1.35" fill-opacity="0.78"/><circle cx="183.3" cy="490.9" r="0.86" fill-opacity="0.96"/><circle cx="171.6" cy="523.7" r="0.89" fill-opacity="0.96"/><circle cx="138.8" cy="530.7" r="1.17" fill-opacity="0.73"/><circle cx="136.4" cy="525.8" r="1.30" fill-opacity="0.77"/><circle cx="152.6" cy="527.0" r="1.02" fill-opacity="0.90"/><circle cx="188.3" cy="488.6" r="1.21" fill-opacity="0.96"/><circle cx="134.8" cy="526.6" r="1.08" fill-opacity="0.89"/><circle cx="180.7" cy="487.2" r="1.08" fill-opacity="0.85"/><circle cx="179.7" cy="516.2" r="1.38" fill-opacity="0.79"/><circle cx="183.4" cy="490.1" r="1.14" fill-opacity="0.89"/><circle cx="149.2" cy="487.4" r="0.96" fill-opacity="0.97"/><circle cx="172.4" cy="531.8" r="0.93" fill-opacity="0.85"/><circle cx="144.7" cy="489.6" r="0.90" fill-opacity="0.71"/><circle cx="188.1" cy="524.2" r="1.36" fill-opacity="0.82"/><circle cx="170.7" cy="525.2" r="1.06" fill-opacity="0.97"/></g>
</g>
<rect x="176.00" y="524.10" width="12.00" height="1.90" fill="#fff"/>
<clipPath id="c17"><rect x="18.00" y="546.00" width="56.70" height="42.50"/></clipPath>
<g clip-path="url(#c17)">
<rect x="18.00" y="546.00" width="56.70" height="42.50" fill="#000"/>
<g fill="#ff1a1a"><circle cx="64.9" cy="555.0" r="1.17" fill-opacity="0.75"/><circle cx="40.5" cy="572.2" r="0.70" fill-opacity="0.60"/><circle cx="41.9" cy="555.8" r="1.00" fill-opacity="0.71"/><circle cx="39.7" cy="557.8" r="0.73" fill-opacity="0.86"/><circle cx="69.2" cy="560.9" r="1.08" fill-opacity="0.66"/><circle cx="61.1" cy="556.1" r="0.94" fill-opacity="0.70"/><circle cx="67.4" cy="578.4" r="0.66" fill-opacity="0.55"/><circle cx="44.1" cy="555.1" r="0.74" fill-opacity="0.98"/><circle cx="71.3" cy="546.7" r="0.61" fill-opacity="0.81"/><circle cx="71.7" cy="583.8" r="1.02" fill-opacity="0.87"/><circle cx="45.4" cy="566.8" r="1.11" fill-opacity="0.55"/><circle cx="56.7" cy="576.6" r="0.69" fill-opacity="0.89"/><circle cx="27.6" cy="587.1" r="1.06" fill-opacity="0.73"/><circle cx="51.1" cy="587.4" r="0.82" fill-opacity="0.60"/><circle cx="57.1" cy="584.4" r="0.69" fill-opacity="0.88"/><circle cx="40.0" cy="575.2" r="0.89" fill-opacity="0.98"/><circle cx="50.7" cy="587.1" r="1.18" fill-opacity="0.56"/><circle cx="71.2" cy="578.2" r="0.69" fill-opacity="0.79"/><circle cx="33.4" cy="548.0" r="0.63" fill-opacity="0.68"/><circle cx="67.6" cy="549.1" r="0.95" fill-opacity="0.94"/><circle cx="38.6" cy="576.5" r="0.96" fill-opacity="0.88"/><circle cx="45.3" cy="587.7" r="0.84" fill-opacity="0.61"/><circle cx="24.9" cy="556.9" r="0.67" fill-opacity="0.97"/><circle cx="25.5" cy="581.7" r="1.06" fill-opacity="0.73"/><circle cx="20.9" cy="554.6" r="1.16" fill-opacity="0.71"/><circle cx="62.3" cy="551.3" r="0.63" fill-opacity="0.68"/><circle cx="37.9" cy="554.7" r="0.98" fill-opacity="0.79"/><circle cx="49.8" cy="559.4" r="0.85" fill-opacity="0.63"/><circle cx="49.3" cy="562.5" r="0.99" fill-opacity="0.98"/><circle cx="36.3" cy="571.2" r="0.66" fill-opacity="0.91"/><circle cx="48.2" cy="571.2" r="0.94" fill-opacity="0.56"/><circle cx="67.8" cy="546.5" r="0.72" fill-opacity="0.74"/><circle cx="70.3" cy="575.7" r="1.14" fill-opacity="0.67"/><circle cx="49.2" cy="571.5" r="0.74" fill-opacity="0.55"/><circle cx="37.3" cy="549.7" r="0.60" fill-opacity="0.59"/><circle cx="66.8" cy="572.1" r="1.05" fill-opacity="0.79"/><circle cx="45.3" cy="583.8" r="0.81" fill-opacity="0.63"/><circle cx="34.4" cy="549.1" r="0.61" fill-opacity="0.64"/></g>
</g>
<rect x="58.70" y="583.60" width="12.00" height="1.90" fill="#fff"/>
<clipPath id="c18"><rect x="76.70" y="546.00" width="56.60" height="42.50"/></clipPath>
<g clip-path="url(#c18)">
<rect x="76.70" y="546.00" width="56.60" height="42.50" fill="#000"/>
<g fill="#ff1a1a"><circle cx="103.9" cy="574.3" r="0.81" fill-opacity="0.75"/><circle cx="127.8" cy="578.0" r="0.58" fill-opacity="0.51"/><circle cx="102.4" cy="562.6" r="0.98" fill-opacity="0.76"/><circle cx="103.2" cy="560.9" r="0.61" fill-opacity="0.70"/><circle cx="129.0" cy="553.1" r="0.73" fill-opacity="0.57"/><circle cx="111.2" cy="556.8" r="0.53" fill-opacity="0.74"/><circle cx="94.1" cy="573.5" r="0.95" fill-opacity="0.69"/><circle cx="128.3" cy="580.1" r="0.53" fill-opacity="0.52"/><circle cx="114.2" cy="566.3" r="0.50" fill-opacity="0.81"/><circle cx="113.5" cy="564.5" r="0.76" fill-opacity="0.49"/><circle cx="107.8" cy="552.0" r="0.83" fill-opacity="0.87"/><circle cx="88.9" cy="557.3" r="0.79" fill-opacity="0.84"/><circle cx="86.3" cy="562.6" r="0.80" fill-opacity="0.48"/><circle cx="80.6" cy="577.8" r="0.81" fill-opacity="0.69"/><circle cx="107.6" cy="550.4" r="0.74" fill-opacity="0.64"/><circle cx="105.8" cy="552.9" r="0.53" fill-opacity="0.66"/></g>
</g>
<rect x="117.30" y="583.60" width="12.00" height="1.90" fill="#fff"/>
<clipPath id="c19"><rect x="135.30" y="546.00" width="56.70" height="42.50"/></clipPath>
<g clip-path="url(#c19)">
<rect x="135.30" y="546.00" width="56.70" height="42.50" fill="#000"/>
<g fill="#ff1a1a"><circle cx="137.0" cy="582.9" r="0.79" fill-opacity="0.41"/><circle cx="166.5" cy="556.1" r="0.85" fill-opacity="0.83"/><circle cx="152.4" cy="571.4" r="0.70" fill-opacity="0.54"/><circle cx="159.9" cy="562.8" r="0.69" fill-opacity="0.88"/><circle cx="176.7" cy="547.6" r="0.64" fill-opacity="0.88"/><circle cx="178.4" cy="571.8" r="0.76" fill-opacity="0.74"/><circle cx="144.6" cy="563.3" r="0.61" fill-opacity="0.50"/><circle cx="174.4" cy="547.5" r="0.57" fill-opacity="0.75"/></g>
</g>
<rect x="176.00" y="583.60" width="12.00" height="1.90" fill="#fff"/>
<clipPath id="c20"><rect x="18.00" y="590.50" width="56.70" height="42.50"/></clipPath>
<g clip-path="url(#c20)">
<rect x="18.00" y="590.50" width="56.70" height="42.50" fill="#000"/>
<g fill="#1c1cff"><circle cx="31.7" cy="594.7" r="1.00" fill-opacity="0.62"/><circle cx="53.4" cy="597.0" r="1.19" fill-opacity="0.84"/><circle cx="34.7" cy="593.2" r="1.10" fill-opacity="0.95"/><circle cx="37.2" cy="595.0" r="1.19" fill-opacity="0.95"/><circle cx="44.2" cy="595.2" r="1.05" fill-opacity="0.99"/><circle cx="35.1" cy="606.2" r="1.12" fill-opacity="0.87"/><circle cx="70.0" cy="616.9" r="0.74" fill-opacity="0.98"/><circle cx="63.9" cy="627.3" r="0.80" fill-opacity="0.65"/><circle cx="73.3" cy="629.8" r="0.66" fill-opacity="0.54"/><circle cx="25.6" cy="618.6" r="0.75" fill-opacity="0.58"/><circle cx="47.4" cy="631.4" r="0.89" fill-opacity="0.54"/><circle cx="25.9" cy="603.2" r="0.80" fill-opacity="0.60"/><circle cx="22.7" cy="604.9" r="0.73" fill-opacity="0.60"/><circle cx="22.8" cy="614.6" r="1.05" fill-opacity="0.68"/><circle cx="24.2" cy="608.5" r="0.65" fill-opacity="0.57"/><circle cx="32.8" cy="628.9" r="0.63" fill-opacity="0.74"/><circle cx="18.8" cy="605.6" r="1.19" fill-opacity="0.92"/><circle cx="44.6" cy="601.7" r="0.76" fill-opacity="0.77"/><circle cx="42.9" cy="601.7" r="0.62" fill-opacity="0.89"/><circle cx="74.7" cy="631.4" r="0.90" fill-opacity="0.70"/><circle cx="24.6" cy="632.5" r="0.86" fill-opacity="0.53"/><circle cx="73.0" cy="618.2" r="1.05" fill-opacity="0.77"/><circle cx="30.1" cy="624.6" r="1.05" fill-opacity="0.76"/><circle cx="71.3" cy="598.1" r="1.18" fill-opacity="0.79"/><circle cx="24.3" cy="626.1" r="1.12" fill-opacity="0.91"/><circle cx="43.0" cy="616.2" r="0.96" fill-opacity="0.86"/><circle cx="41.6" cy="595.6" r="0.80" fill-opacity="0.68"/><circle cx="20.5" cy="598.0" r="1.00" fill-opacity="0.76"/><circle cx="28.7" cy="626.5" r="0.63" fill-opacity="0.50"/><circle cx="55.2" cy="628.5" r="1.11" fill-opacity="0.82"/><circle cx="43.6" cy="601.4" r="1.16" fill-opacity="0.83"/><circle cx="29.3" cy="627.9" r="1.05" fill-opacity="0.98"/><circle cx="39.5" cy="609.1" r="0.95" fill-opacity="0.65"/><circle cx="34.9" cy="630.0" r="1.09" fill-opacity="0.94"/><circle cx="60.7" cy="618.2" r="0.62" fill-opacity="0.91"/><circle cx="29.3" cy="617.3" r="0.99" fill-opacity="0.60"/><circle cx="58.5" cy="593.9" r="0.66" fill-opacity="0.88"/><circle cx="36.3" cy="611.9" r="0.98" fill-opacity="0.77"/><circle cx="66.4" cy="625.0" r="0.76" fill-opacity="0.55"/><circle cx="45.1" cy="630.1" r="0.74" fill-opacity="0.89"/><circle cx="43.8" cy="631.0" r="0.63" fill-opacity="0.60"/><circle cx="61.8" cy="632.0" r="1.17" fill-opacity="0.93"/><circle cx="34.3" cy="613.3" r="0.60" fill-opacity="0.73"/><circle cx="46.0" cy="594.5" r="0.71" fill-opacity="0.94"/><circle cx="48.3" cy="619.0" r="1.11" fill-opacity="0.97"/><circle cx="71.9" cy="600.6" r="0.97" fill-opacity="0.54"/><circle cx="31.6" cy="606.6" r="0.63" fill-opacity="0.56"/><circle cx="54.2" cy="625.1" r="0.83" fill-opacity="0.58"/><circle cx="54.9" cy="596.8" r="1.13" fill-opacity="0.51"/><circle cx="30.8" cy="629.3" r="1.03" fill-opacity="0.66"/><circle cx="22.0" cy="617.9" r="0.88" fill-opacity="0.53"/><circle cx="70.4" cy="594.9" r="1.06" fill-opacity="0.74"/><circle cx="55.5" cy="594.7" r="1.12" fill-opacity="0.99"/><circle cx="18.4" cy="605.7" r="0.98" fill-opacity="0.78"/><circle cx="67.6" cy="613.2" r="0.81" fill-opacity="1.00"/><circle cx="35.3" cy="617.0" r="0.79" fill-opacity="0.51"/><circle cx="50.1" cy="608.6" r="0.61" fill-opacity="0.91"/><circle cx="56.0" cy="623.1" r="0.90" fill-opacity="0.81"/><circle cx="32.1" cy="611.4" r="0.97" fill-opacity="0.75"/><circle cx="46.3" cy="607.6" r="0.71" fill-opacity="0.60"/><circle cx="33.5" cy="631.9" r="0.70" fill-opacity="0.67"/><circle cx="22.1" cy="604.8" r="1.02" fill-opacity="0.63"/><circle cx="73.0" cy="607.1" r="0.67" fill-opacity="0.93"/><circle cx="35.8" cy="610.1" r="1.10" fill-opacity="0.66"/><circle cx="63.5" cy="593.2" r="0.88" fill-opacity="0.61"/><circle cx="70.0" cy="605.1" r="1.07" fill-opacity="0.86"/><circle cx="26.0" cy="628.6" r="1.04" fill-opacity="0.68"/><circle cx="20.9" cy="630.6" r="0.92" fill-opacity="0.52"/><circle cx="38.7" cy="599.6" r="0.74" fill-opacity="0.83"/><circle cx="51.8" cy="615.0" r="1.12" fill-opacity="0.58"/><circle cx="59.2" cy="611.5" r="0.86" fill-opacity="0.92"/><circle cx="57.4" cy="607.5" r="0.64" fill-opacity="0.90"/><circle cx="60.4" cy="626.0" r="1.15" fill-opacity="0.95"/><circle cx="43.4" cy="614.7" r="0.99" fill-opacity="0.81"/><circle cx="61.0" cy="594.6" r="0.92" fill-opacity="0.71"/><circle cx="40.1" cy="604.2" r="0.72" fill-opacity="0.96"/><circle cx="50.7" cy="632.6" r="0.85" fill-opacity="0.84"/><circle cx="53.1" cy="615.7" r="0.92" fill-opacity="0.50"/><circle cx="35.6" cy="625.3" r="1.09" fill-opacity="0.55"/><circle cx="24.7" cy="612.5" r="1.12" fill-opacity="0.59"/><circle cx="32.1" cy="624.7" r="0.99" fill-opacity="0.52"/><circle cx="31.7" cy="594.4" r="1.00" fill-opacity="0.55"/><circle cx="49.2" cy="595.9" r="0.72" fill-opacity="0.57"/><circle cx="52.4" cy="616.8" r="0.64" fill-opacity="0.73"/><circle cx="38.5" cy="611.7" r="0.72" fill-opacity="0.70"/><circle cx="69.2" cy="621.9" r="1.01" fill-opacity="0.64"/><circle cx="51.2" cy="592.6" r="1.08" fill-opacity="0.63"/><circle cx="32.6" cy="596.1" r="0.90" fill-opacity="0.97"/><circle cx="19.7" cy="614.9" r="0.98" fill-opacity="0.62"/><circle cx="49.5" cy="591.7" r="0.74" fill-opacity="0.88"/><circle cx="42.7" cy="632.7" r="1.05" fill-opacity="0.57"/><circle cx="24.3" cy="596.1" r="1.13" fill-opacity="0.64"/><circle cx="19.4" cy="631.5" r="1.15" fill-opacity="0.81"/><circle cx="57.2" cy="595.0" r="0.77" fill-opacity="0.57"/><circle cx="19.7" cy="598.6" r="0.80" fill-opacity="0.83"/><circle cx="57.0" cy="612.3" r="0.76" fill-opacity="0.65"/><circle cx="35.2" cy="603.5" r="0.87" fill-opacity="0.70"/><circle cx="48.2" cy="623.4" r="0.67" fill-opacity="0.55"/><circle cx="30.1" cy="613.1" r="0.70" fill-opacity="0.91"/><circle cx="60.0" cy="631.9" r="0.94" fill-opacity="0.72"/></g>
</g>
<rect x="58.70" y="628.10" width="12.00" height="1.90" fill="#fff"/>
<clipPath id="c21"><rect x="76.70" y="590.50" width="56.60" height="42.50"/></clipPath>
<g clip-path="url(#c21)">
<rect x="76.70" y="590.50" width="56.60" height="42.50" fill="#000"/>
<g fill="#1c1cff"><circle cx="127.4" cy="598.9" r="0.77" fill-opacity="0.56"/><circle cx="119.4" cy="627.0" r="1.29" fill-opacity="0.84"/><circle cx="112.9" cy="619.7" r="0.99" fill-opacity="0.77"/><circle cx="84.8" cy="592.3" r="1.22" fill-opacity="0.90"/><circle cx="131.3" cy="622.0" r="1.05" fill-opacity="0.58"/><circle cx="125.9" cy="613.0" r="1.22" fill-opacity="0.89"/><circle cx="121.2" cy="617.4" r="1.18" fill-opacity="0.71"/><circle cx="117.1" cy="612.8" r="1.07" fill-opacity="0.99"/><circle cx="127.0" cy="620.9" r="1.06" fill-opacity="0.62"/><circle cx="124.2" cy="607.9" r="0.92" fill-opacity="0.93"/><circle cx="103.7" cy="620.2" r="0.81" fill-opacity="0.88"/><circle cx="130.6" cy="616.6" r="1.21" fill-opacity="0.79"/><circle cx="117.4" cy="609.4" r="0.89" fill-opacity="0.97"/><circle cx="113.5" cy="629.8" r="0.90" fill-opacity="0.63"/><circle cx="107.2" cy="615.7" r="0.73" fill-opacity="0.54"/><circle cx="110.8" cy="591.6" r="0.78" fill-opacity="0.97"/><circle cx="130.8" cy="628.8" r="0.87" fill-opacity="0.99"/><circle cx="98.0" cy="624.9" r="0.88" fill-opacity="0.97"/><circle cx="86.4" cy="593.1" r="0.82" fill-opacity="0.80"/><circle cx="80.6" cy="618.8" r="1.19" fill-opacity="0.90"/><circle cx="124.0" cy="619.5" r="1.00" fill-opacity="0.76"/><circle cx="91.8" cy="613.5" r="1.06" fill-opacity="0.75"/><circle cx="127.3" cy="623.9" r="0.88" fill-opacity="0.95"/><circle cx="95.6" cy="612.2" r="0.76" fill-opacity="0.84"/><circle cx="80.1" cy="597.1" r="1.22" fill-opacity="0.96"/><circle cx="106.4" cy="624.4" r="0.99" fill-opacity="0.52"/><circle cx="84.7" cy="616.4" r="1.18" fill-opacity="0.74"/><circle cx="129.7" cy="629.5" r="0.72" fill-opacity="0.55"/><circle cx="114.5" cy="630.6" r="1.05" fill-opacity="0.88"/><circle cx="110.9" cy="618.1" r="0.75" fill-opacity="0.92"/><circle cx="123.3" cy="626.8" r="1.28" fill-opacity="0.87"/><circle cx="83.6" cy="615.0" r="0.71" fill-opacity="0.87"/><circle cx="130.3" cy="600.3" r="0.77" fill-opacity="0.91"/><circle cx="128.1" cy="600.8" r="1.19" fill-opacity="0.87"/><circle cx="81.5" cy="616.3" r="1.28" fill-opacity="0.68"/><circle cx="77.3" cy="591.0" r="1.08" fill-opacity="0.98"/><circle cx="87.5" cy="618.6" r="1.01" fill-opacity="0.73"/><circle cx="113.4" cy="607.9" r="0.90" fill-opacity="0.73"/><circle cx="118.9" cy="616.4" r="0.87" fill-opacity="0.67"/><circle cx="81.4" cy="626.3" r="0.97" fill-opacity="0.57"/><circle cx="129.7" cy="616.7" r="1.19" fill-opacity="0.70"/><circle cx="89.9" cy="600.2" r="1.08" fill-opacity="0.98"/><circle cx="93.3" cy="611.2" r="0.99" fill-opacity="0.80"/><circle cx="122.9" cy="617.3" r="0.70" fill-opacity="0.84"/><circle cx="102.3" cy="629.5" r="1.19" fill-opacity="0.89"/><circle cx="132.8" cy="627.1" r="0.84" fill-opacity="0.98"/><circle cx="110.6" cy="613.6" r="0.90" fill-opacity="0.91"/><circle cx="110.9" cy="615.5" r="1.03" fill-opacity="0.97"/><circle cx="108.3" cy="618.3" r="0.70" fill-opacity="0.51"/><circle cx="97.3" cy="624.0" r="1.17" fill-opacity="0.75"/><circle cx="95.3" cy="616.4" r="1.26" fill-opacity="0.66"/><circle cx="115.5" cy="593.5" r="1.00" fill-opacity="0.61"/><circle cx="132.9" cy="613.8" r="1.16" fill-opacity="0.95"/><circle cx="106.1" cy="614.6" r="1.04" fill-opacity="0.88"/><circle cx="125.8" cy="614.5" r="1.00" fill-opacity="0.62"/><circle cx="120.6" cy="630.6" r="1.15" fill-opacity="0.61"/><circle cx="133.2" cy="614.0" r="1.23" fill-opacity="0.57"/><circle cx="108.6" cy="596.3" r="1.04" fill-opacity="0.56"/><circle cx="121.9" cy="611.5" r="1.21" fill-opacity="0.66"/><circle cx="107.8" cy="598.0" r="0.82" fill-opacity="0.62"/><circle cx="109.1" cy="592.8" r="1.24" fill-opacity="0.79"/><circle cx="110.3" cy="608.5" r="1.27" fill-opacity="0.82"/><circle cx="89.9" cy="607.2" r="0.77" fill-opacity="0.77"/><circle cx="78.0" cy="601.9" r="1.08" fill-opacity="0.69"/><circle cx="93.5" cy="619.9" r="0.87" fill-opacity="0.54"/><circle cx="117.4" cy="621.0" r="0.80" fill-opacity="0.57"/><circle cx="127.6" cy="614.7" r="0.71" fill-opacity="0.58"/><circle cx="122.3" cy="592.5" r="0.80" fill-opacity="0.89"/><circle cx="101.6" cy="597.4" r="0.79" fill-opacity="0.50"/><circle cx="82.0" cy="612.3" r="0.92" fill-opacity="0.50"/><circle cx="110.6" cy="625.6" r="0.80" fill-opacity="0.88"/><circle cx="121.0" cy="595.4" r="1.14" fill-opacity="0.68"/><circle cx="132.8" cy="609.0" r="1.11" fill-opacity="0.89"/><circle cx="79.7" cy="618.3" r="0.73" fill-opacity="0.65"/><circle cx="107.3" cy="594.3" r="1.19" fill-opacity="0.53"/><circle cx="99.9" cy="592.9" r="1.13" fill-opacity="0.93"/><circle cx="104.3" cy="597.6" r="1.23" fill-opacity="0.98"/><circle cx="112.9" cy="627.4" r="1.12" fill-opacity="0.95"/><circle cx="130.9" cy="604.7" r="0.99" fill-opacity="0.79"/><circle cx="125.3" cy="594.2" r="1.00" fill-opacity="0.79"/><circle cx="95.4" cy="603.9" r="1.10" fill-opacity="0.99"/><circle cx="123.1" cy="631.3" r="1.22" fill-opacity="0.75"/><circle cx="119.3" cy="598.6" r="0.81" fill-opacity="0.64"/><circle cx="88.7" cy="591.3" r="0.88" fill-opacity="0.69"/><circle cx="109.9" cy="611.4" r="1.00" fill-opacity="0.83"/><circle cx="95.3" cy="610.7" r="1.12" fill-opacity="0.79"/><circle cx="106.3" cy="620.4" r="0.89" fill-opacity="0.96"/><circle cx="101.4" cy="604.8" r="1.05" fill-opacity="0.78"/><circle cx="130.7" cy="596.9" r="1.14" fill-opacity="0.63"/><circle cx="78.4" cy="611.9" r="1.04" fill-opacity="0.60"/><circle cx="129.5" cy="625.4" r="0.71" fill-opacity="1.00"/><circle cx="101.8" cy="631.4" r="0.96" fill-opacity="0.96"/><circle cx="95.1" cy="597.5" r="0.84" fill-opacity="0.83"/><circle cx="104.4" cy="610.9" r="1.21" fill-opacity="0.59"/><circle cx="108.4" cy="603.6" r="0.75" fill-opacity="0.68"/><circle cx="87.8" cy="621.6" r="1.19" fill-opacity="0.92"/><circle cx="119.4" cy="620.0" r="1.17" fill-opacity="0.80"/><circle cx="87.5" cy="603.1" r="1.04" fill-opacity="0.77"/><circle cx="87.5" cy="628.6" r="1.03" fill-opacity="0.78"/><circle cx="113.2" cy="601.8" r="0.85" fill-opacity="0.94"/><circle cx="114.2" cy="608.7" r="1.16" fill-opacity="0.95"/><circle cx="103.5" cy="628.6" r="1.05" fill-opacity="0.64"/><circle cx="114.9" cy="603.2" r="0.92" fill-opacity="0.90"/><circle cx="111.8" cy="620.2" r="1.26" fill-opacity="0.50"/><circle cx="129.2" cy="621.7" r="0.87" fill-opacity="0.57"/><circle cx="83.7" cy="615.2" r="1.18" fill-opacity="0.67"/><circle cx="114.8" cy="616.8" r="1.12" fill-opacity="0.93"/><circle cx="126.5" cy="603.5" r="0.94" fill-opacity="0.95"/><circle cx="122.3" cy="628.2" r="0.78" fill-opacity="0.64"/><circle cx="89.0" cy="627.5" r="0.88" fill-opacity="0.81"/><circle cx="122.7" cy="610.5" r="0.93" fill-opacity="1.00"/><circle cx="112.3" cy="614.8" r="0.80" fill-opacity="1.00"/><circle cx="117.5" cy="598.5" r="0.76" fill-opacity="1.00"/><circle cx="116.8" cy="609.0" r="1.15" fill-opacity="1.00"/><circle cx="121.7" cy="621.6" r="0.80" fill-opacity="1.00"/><circle cx="121.2" cy="606.6" r="1.26" fill-opacity="1.00"/><circle cx="114.7" cy="621.1" r="1.03" fill-opacity="1.00"/><circle cx="117.0" cy="606.8" r="1.14" fill-opacity="1.00"/><circle cx="117.1" cy="605.9" r="0.92" fill-opacity="1.00"/><circle cx="111.6" cy="604.0" r="1.23" fill-opacity="1.00"/><circle cx="120.2" cy="597.9" r="0.74" fill-opacity="1.00"/><circle cx="119.3" cy="606.4" r="1.14" fill-opacity="1.00"/><circle cx="115.9" cy="614.2" r="0.73" fill-opacity="1.00"/><circle cx="112.7" cy="624.2" r="1.30" fill-opacity="1.00"/><circle cx="111.8" cy="626.3" r="1.17" fill-opacity="1.00"/><circle cx="110.5" cy="612.1" r="1.15" fill-opacity="1.00"/><circle cx="113.9" cy="601.8" r="1.04" fill-opacity="1.00"/><circle cx="120.3" cy="604.8" r="1.12" fill-opacity="1.00"/><circle cx="110.2" cy="614.7" r="1.06" fill-opacity="1.00"/><circle cx="121.5" cy="625.8" r="0.88" fill-opacity="1.00"/><circle cx="118.4" cy="615.6" r="0.89" fill-opacity="1.00"/><circle cx="111.5" cy="611.5" r="0.96" fill-opacity="1.00"/><circle cx="122.0" cy="622.2" r="0.76" fill-opacity="1.00"/><circle cx="117.8" cy="607.5" r="0.89" fill-opacity="1.00"/><circle cx="122.6" cy="627.6" r="1.02" fill-opacity="1.00"/><circle cx="111.7" cy="620.5" r="1.07" fill-opacity="1.00"/><circle cx="112.5" cy="600.3" r="1.15" fill-opacity="1.00"/><circle cx="117.2" cy="610.2" r="0.71" fill-opacity="1.00"/><circle cx="117.6" cy="588.5" r="1.03" fill-opacity="1.00"/><circle cx="108.7" cy="610.4" r="1.01" fill-opacity="1.00"/><circle cx="110.0" cy="622.1" r="0.94" fill-opacity="1.00"/><circle cx="110.8" cy="619.6" r="1.26" fill-opacity="1.00"/><circle cx="117.2" cy="606.8" r="1.07" fill-opacity="1.00"/><circle cx="121.8" cy="616.1" r="1.06" fill-opacity="1.00"/><circle cx="114.5" cy="625.4" r="0.80" fill-opacity="1.00"/><circle cx="110.4" cy="608.0" r="0.71" fill-opacity="1.00"/><circle cx="114.2" cy="606.1" r="1.26" fill-opacity="1.00"/><circle cx="110.2" cy="616.9" r="1.19" fill-opacity="1.00"/><circle cx="120.1" cy="592.8" r="1.26" fill-opacity="1.00"/><circle cx="119.2" cy="613.1" r="0.74" fill-opacity="1.00"/><circle cx="122.8" cy="606.6" r="1.29" fill-opacity="1.00"/><circle cx="118.9" cy="610.7" r="0.82" fill-opacity="1.00"/><circle cx="115.0" cy="607.7" r="1.13" fill-opacity="1.00"/><circle cx="118.4" cy="609.0" r="0.73" fill-opacity="1.00"/><circle cx="113.5" cy="611.5" r="0.90" fill-opacity="1.00"/><circle cx="113.1" cy="613.8" r="1.06" fill-opacity="1.00"/><circle cx="115.8" cy="608.8" r="0.94" fill-opacity="1.00"/><circle cx="112.0" cy="607.4" r="0.99" fill-opacity="1.00"/><circle cx="115.8" cy="635.2" r="0.87" fill-opacity="1.00"/><circle cx="119.0" cy="612.1" r="1.12" fill-opacity="1.00"/><circle cx="111.8" cy="628.1" r="0.98" fill-opacity="1.00"/><circle cx="113.7" cy="596.2" r="1.02" fill-opacity="1.00"/><circle cx="115.7" cy="614.7" r="1.09" fill-opacity="1.00"/><circle cx="119.3" cy="599.0" r="1.29" fill-opacity="1.00"/><circle cx="114.8" cy="632.7" r="0.90" fill-opacity="1.00"/><circle cx="112.8" cy="614.3" r="0.75" fill-opacity="1.00"/><circle cx="113.7" cy="617.4" r="1.10" fill-opacity="1.00"/><circle cx="118.1" cy="618.1" r="0.94" fill-opacity="1.00"/><circle cx="119.9" cy="619.0" r="1.04" fill-opacity="1.00"/><circle cx="114.6" cy="626.1" r="1.15" fill-opacity="1.00"/><circle cx="99.3" cy="610.2" r="0.89" fill-opacity="1.00"/><circle cx="110.0" cy="614.0" r="1.11" fill-opacity="1.00"/><circle cx="104.0" cy="624.0" r="1.17" fill-opacity="1.00"/><circle cx="99.6" cy="616.1" r="0.73" fill-opacity="1.00"/><circle cx="100.4" cy="628.7" r="0.78" fill-opacity="1.00"/><circle cx="110.1" cy="622.7" r="1.04" fill-opacity="1.00"/><circle cx="102.7" cy="612.8" r="1.10" fill-opacity="1.00"/><circle cx="99.1" cy="616.5" r="0.82" fill-opacity="1.00"/><circle cx="113.3" cy="620.3" r="0.88" fill-opacity="1.00"/><circle cx="113.1" cy="626.2" r="0.70" fill-opacity="1.00"/><circle cx="116.1" cy="615.5" r="1.17" fill-opacity="1.00"/><circle cx="112.1" cy="624.1" r="0.80" fill-opacity="1.00"/><circle cx="105.4" cy="617.2" r="1.22" fill-opacity="1.00"/><circle cx="112.1" cy="620.8" r="1.02" fill-opacity="1.00"/><circle cx="108.4" cy="627.6" r="0.73" fill-opacity="1.00"/><circle cx="100.4" cy="612.6" r="0.77" fill-opacity="1.00"/><circle cx="113.8" cy="623.3" r="1.23" fill-opacity="1.00"/><circle cx="106.5" cy="628.4" r="0.72" fill-opacity="1.00"/><circle cx="98.8" cy="617.3" r="1.07" fill-opacity="1.00"/><circle cx="109.1" cy="617.4" r="1.19" fill-opacity="1.00"/></g>
</g>
<rect x="117.30" y="628.10" width="12.00" height="1.90" fill="#fff"/>
<clipPath id="c22"><rect x="135.30" y="590.50" width="56.70" height="42.50"/></clipPath>
<g clip-path="url(#c22)">
<rect x="135.30" y="590.50" width="56.70" height="42.50" fill="#000"/>
<g fill="#1c1cff"><circle cx="181.9" cy="616.0" r="0.96" fill-opacity="0.50"/><circle cx="171.9" cy="621.8" r="0.84" fill-opacity="0.74"/><circle cx="149.2" cy="607.8" r="0.89" fill-opacity="0.93"/><circle cx="167.8" cy="609.7" r="0.76" fill-opacity="0.88"/><circle cx="153.6" cy="592.9" r="0.88" fill-opacity="0.76"/><circle cx="182.3" cy="609.2" r="0.94" fill-opacity="0.68"/><circle cx="163.2" cy="593.9" r="0.83" fill-opacity="0.60"/><circle cx="158.3" cy="601.8" r="0.95" fill-opacity="0.69"/><circle cx="158.2" cy="608.5" r="0.92" fill-opacity="0.70"/><circle cx="178.4" cy="620.2" r="0.77" fill-opacity="0.79"/><circle cx="171.2" cy="591.4" r="0.81" fill-opacity="0.64"/><circle cx="155.6" cy="607.8" r="1.08" fill-opacity="0.87"/><circle cx="152.4" cy="592.2" r="0.97" fill-opacity="0.69"/><circle cx="137.4" cy="602.9" r="0.68" fill-opacity="1.00"/><circle cx="149.5" cy="611.4" r="0.62" fill-opacity="0.93"/><circle cx="163.9" cy="591.3" r="0.90" fill-opacity="0.93"/><circle cx="162.2" cy="613.9" r="1.07" fill-opacity="0.71"/><circle cx="167.1" cy="628.0" r="0.93" fill-opacity="0.76"/><circle cx="154.4" cy="616.7" r="0.98" fill-opacity="0.87"/><circle cx="147.2" cy="603.3" r="0.87" fill-opacity="0.56"/><circle cx="179.1" cy="601.8" r="0.75" fill-opacity="0.64"/><circle cx="147.6" cy="626.1" r="0.79" fill-opacity="0.54"/><circle cx="180.6" cy="623.9" r="0.63" fill-opacity="0.57"/><circle cx="137.8" cy="612.0" r="0.92" fill-opacity="0.63"/><circle cx="180.7" cy="597.4" r="0.77" fill-opacity="0.71"/><circle cx="159.5" cy="613.9" r="0.88" fill-opacity="0.59"/><circle cx="137.6" cy="606.5" r="0.78" fill-opacity="0.72"/><circle cx="138.2" cy="627.4" r="0.65" fill-opacity="0.56"/><circle cx="160.6" cy="615.2" r="0.65" fill-opacity="0.92"/><circle cx="162.7" cy="620.2" r="0.82" fill-opacity="0.73"/><circle cx="158.0" cy="606.8" r="0.81" fill-opacity="0.82"/><circle cx="175.5" cy="614.7" r="0.67" fill-opacity="0.59"/><circle cx="164.1" cy="600.3" r="0.78" fill-opacity="0.88"/><circle cx="187.6" cy="594.8" r="0.73" fill-opacity="0.73"/><circle cx="142.7" cy="625.1" r="1.09" fill-opacity="0.88"/><circle cx="181.2" cy="602.5" r="0.71" fill-opacity="0.54"/><circle cx="161.2" cy="607.4" r="0.65" fill-opacity="0.85"/><circle cx="156.2" cy="618.7" r="1.04" fill-opacity="0.55"/><circle cx="163.8" cy="623.5" r="0.96" fill-opacity="0.67"/><circle cx="161.6" cy="598.4" r="0.71" fill-opacity="0.63"/><circle cx="138.0" cy="616.9" r="0.61" fill-opacity="0.78"/><circle cx="174.8" cy="626.7" r="0.98" fill-opacity="0.74"/><circle cx="161.9" cy="620.8" r="0.83" fill-opacity="0.64"/><circle cx="139.8" cy="597.0" r="0.75" fill-opacity="0.80"/><circle cx="150.5" cy="599.7" r="0.85" fill-opacity="0.53"/><circle cx="153.3" cy="631.0" r="0.70" fill-opacity="0.74"/><circle cx="152.5" cy="601.7" r="0.63" fill-opacity="0.50"/><circle cx="136.6" cy="608.0" r="0.82" fill-opacity="0.78"/><circle cx="158.2" cy="612.1" r="0.94" fill-opacity="0.80"/><circle cx="171.6" cy="594.4" r="1.02" fill-opacity="0.77"/><circle cx="184.1" cy="622.7" r="0.67" fill-opacity="0.89"/><circle cx="137.0" cy="623.5" r="1.01" fill-opacity="0.53"/><circle cx="171.8" cy="597.9" r="1.00" fill-opacity="0.84"/><circle cx="187.2" cy="600.9" r="0.77" fill-opacity="0.72"/><circle cx="136.1" cy="610.0" r="0.78" fill-opacity="0.67"/><circle cx="144.7" cy="602.9" r="1.01" fill-opacity="0.69"/><circle cx="155.5" cy="602.1" r="1.01" fill-opacity="0.82"/><circle cx="140.7" cy="596.4" r="0.63" fill-opacity="0.53"/><circle cx="188.9" cy="594.7" r="0.84" fill-opacity="0.76"/><circle cx="153.4" cy="601.7" r="0.70" fill-opacity="0.59"/><circle cx="151.7" cy="618.3" r="0.96" fill-opacity="0.63"/><circle cx="153.1" cy="597.3" r="0.70" fill-opacity="0.69"/><circle cx="170.4" cy="591.0" r="0.64" fill-opacity="0.57"/><circle cx="178.0" cy="625.6" r="0.79" fill-opacity="0.87"/><circle cx="137.5" cy="620.1" r="0.65" fill-opacity="0.51"/><circle cx="144.1" cy="621.0" r="1.07" fill-opacity="0.54"/><circle cx="176.5" cy="593.2" r="0.67" fill-opacity="0.64"/><circle cx="185.6" cy="617.5" r="0.99" fill-opacity="0.69"/><circle cx="171.4" cy="594.8" r="0.99" fill-opacity="0.51"/><circle cx="145.2" cy="601.2" r="0.60" fill-opacity="0.59"/><circle cx="158.7" cy="612.0" r="1.04" fill-opacity="0.90"/><circle cx="151.9" cy="592.6" r="1.05" fill-opacity="0.90"/><circle cx="161.5" cy="610.6" r="0.82" fill-opacity="0.70"/><circle cx="140.9" cy="596.6" r="0.72" fill-opacity="0.89"/><circle cx="147.7" cy="630.1" r="0.78" fill-opacity="0.64"/><circle cx="173.5" cy="602.0" r="0.84" fill-opacity="0.82"/><circle cx="183.1" cy="601.2" r="0.99" fill-opacity="0.99"/><circle cx="168.2" cy="632.6" r="1.09" fill-opacity="0.71"/><circle cx="188.8" cy="612.9" r="0.63" fill-opacity="0.78"/><circle cx="155.3" cy="628.2" r="0.72" fill-opacity="0.74"/></g>
</g>
<rect x="176.00" y="628.10" width="12.00" height="1.90" fill="#fff"/>
<clipPath id="c23"><rect x="311.80" y="442.00" width="56.50" height="42.50"/></clipPath>
<g clip-path="url(#c23)">
<rect x="311.80" y="442.00" width="56.50" height="42.50" fill="#000"/>
<g fill="#ff1a1a"><circle cx="316.7" cy="466.8" r="0.66" fill-opacity="0.76"/><circle cx="346.5" cy="464.2" r="0.88" fill-opacity="0.44"/><circle cx="359.7" cy="459.9" r="0.77" fill-opacity="0.78"/><circle cx="357.4" cy="467.7" r="0.82" fill-opacity="0.31"/><circle cx="336.0" cy="478.5" r="0.80" fill-opacity="0.53"/><circle cx="324.8" cy="456.8" r="0.67" fill-opacity="0.36"/><circle cx="364.7" cy="469.5" r="0.71" fill-opacity="0.39"/><circle cx="330.0" cy="459.5" r="0.56" fill-opacity="0.47"/><circle cx="332.5" cy="473.3" r="0.86" fill-opacity="0.30"/><circle cx="319.5" cy="478.3" r="0.50" fill-opacity="0.43"/></g>
</g>
<rect x="352.30" y="479.60" width="12.00" height="1.90" fill="#fff"/>
<clipPath id="c24"><rect x="370.50" y="442.00" width="56.50" height="42.50"/></clipPath>
<g clip-path="url(#c24)">
<rect x="370.50" y="442.00" width="56.50" height="42.50" fill="#000"/>
<g fill="#ff1a1a"><circle cx="399.3" cy="467.4" r="0.75" fill-opacity="0.97"/><circle cx="411.7" cy="474.3" r="0.83" fill-opacity="0.92"/><circle cx="412.0" cy="467.2" r="0.65" fill-opacity="0.73"/><circle cx="425.3" cy="465.7" r="0.79" fill-opacity="0.81"/><circle cx="378.5" cy="456.0" r="0.99" fill-opacity="0.74"/><circle cx="392.4" cy="483.4" r="0.86" fill-opacity="0.73"/><circle cx="375.1" cy="467.3" r="0.85" fill-opacity="0.64"/><circle cx="423.2" cy="468.5" r="0.87" fill-opacity="0.93"/><circle cx="392.9" cy="483.5" r="0.94" fill-opacity="0.69"/><circle cx="396.2" cy="483.1" r="0.90" fill-opacity="0.51"/><circle cx="418.7" cy="459.6" r="0.75" fill-opacity="0.74"/><circle cx="382.1" cy="470.3" r="0.91" fill-opacity="0.73"/><circle cx="397.7" cy="456.2" r="0.95" fill-opacity="0.92"/><circle cx="373.4" cy="468.8" r="1.00" fill-opacity="1.00"/><circle cx="414.4" cy="482.5" r="0.92" fill-opacity="0.92"/><circle cx="412.2" cy="452.7" r="0.96" fill-opacity="0.81"/><circle cx="400.6" cy="452.2" r="1.07" fill-opacity="0.90"/><circle cx="414.9" cy="452.3" r="0.68" fill-opacity="0.59"/><circle cx="392.0" cy="456.5" r="0.97" fill-opacity="0.70"/><circle cx="426.7" cy="444.3" r="0.80" fill-opacity="0.94"/><circle cx="398.8" cy="470.5" r="1.02" fill-opacity="0.82"/><circle cx="380.2" cy="444.2" r="1.09" fill-opacity="0.71"/><circle cx="399.8" cy="446.7" r="0.85" fill-opacity="0.68"/><circle cx="379.8" cy="470.8" r="0.94" fill-opacity="0.80"/><circle cx="417.5" cy="483.1" r="1.02" fill-opacity="0.54"/><circle cx="400.1" cy="470.3" r="1.04" fill-opacity="0.77"/><circle cx="395.9" cy="454.3" r="0.71" fill-opacity="0.92"/><circle cx="371.5" cy="473.4" r="1.09" fill-opacity="0.53"/><circle cx="380.9" cy="454.0" r="1.01" fill-opacity="0.91"/><circle cx="422.4" cy="467.9" r="0.86" fill-opacity="0.74"/><circle cx="402.0" cy="473.2" r="0.75" fill-opacity="0.95"/><circle cx="381.0" cy="483.6" r="0.83" fill-opacity="0.52"/><circle cx="376.2" cy="470.3" r="1.05" fill-opacity="0.54"/><circle cx="371.8" cy="456.2" r="0.99" fill-opacity="0.60"/><circle cx="393.1" cy="453.4" r="0.60" fill-opacity="0.55"/></g>
</g>
<rect x="411.00" y="479.60" width="12.00" height="1.90" fill="#fff"/>
<clipPath id="c25"><rect x="311.80" y="486.50" width="56.50" height="42.50"/></clipPath>
<g clip-path="url(#c25)">
<rect x="311.80" y="486.50" width="56.50" height="42.50" fill="#000"/>
<g fill="#1c1cff"><circle cx="314.8" cy="490.2" r="0.66" fill-opacity="0.34"/><circle cx="362.7" cy="488.1" r="0.71" fill-opacity="0.43"/><circle cx="359.9" cy="493.3" r="0.63" fill-opacity="0.43"/><circle cx="325.7" cy="486.6" r="0.67" fill-opacity="0.34"/><circle cx="345.6" cy="489.5" r="0.63" fill-opacity="0.48"/><circle cx="363.0" cy="490.4" r="0.56" fill-opacity="0.62"/><circle cx="313.0" cy="525.2" r="0.73" fill-opacity="0.41"/><circle cx="359.1" cy="519.2" r="0.64" fill-opacity="0.62"/><circle cx="323.5" cy="512.4" r="0.71" fill-opacity="0.62"/><circle cx="329.6" cy="503.4" r="0.81" fill-opacity="0.51"/><circle cx="350.5" cy="513.6" r="0.77" fill-opacity="0.66"/><circle cx="339.3" cy="514.9" r="0.65" fill-opacity="0.31"/><circle cx="354.4" cy="494.2" r="0.83" fill-opacity="0.67"/><circle cx="349.0" cy="493.7" r="0.63" fill-opacity="0.46"/><circle cx="315.9" cy="505.9" r="0.73" fill-opacity="0.43"/><circle cx="322.5" cy="490.2" r="0.75" fill-opacity="0.31"/><circle cx="331.7" cy="496.2" r="0.71" fill-opacity="0.59"/><circle cx="363.2" cy="513.6" r="0.90" fill-opacity="0.69"/><circle cx="347.4" cy="496.4" r="0.69" fill-opacity="0.37"/><circle cx="367.8" cy="505.4" r="0.80" fill-opacity="0.32"/><circle cx="319.4" cy="494.7" r="0.60" fill-opacity="0.44"/><circle cx="327.2" cy="505.0" r="0.67" fill-opacity="0.34"/><circle cx="315.3" cy="501.6" r="0.54" fill-opacity="0.47"/><circle cx="312.3" cy="509.3" r="0.53" fill-opacity="0.58"/><circle cx="334.6" cy="528.4" r="0.61" fill-opacity="0.49"/><circle cx="354.2" cy="500.7" r="0.64" fill-opacity="0.56"/><circle cx="366.6" cy="524.1" r="0.67" fill-opacity="0.59"/><circle cx="350.2" cy="502.3" r="0.59" fill-opacity="0.33"/><circle cx="361.5" cy="488.9" r="0.71" fill-opacity="0.52"/><circle cx="320.1" cy="514.4" r="0.87" fill-opacity="0.61"/><circle cx="333.8" cy="491.9" r="0.89" fill-opacity="0.51"/><circle cx="347.4" cy="520.6" r="0.65" fill-opacity="0.32"/><circle cx="319.5" cy="514.9" r="0.64" fill-opacity="0.65"/><circle cx="353.6" cy="528.2" r="0.77" fill-opacity="0.42"/><circle cx="356.5" cy="487.7" r="0.71" fill-opacity="0.65"/><circle cx="340.9" cy="492.3" r="0.70" fill-opacity="0.52"/><circle cx="332.6" cy="524.5" r="0.64" fill-opacity="0.41"/><circle cx="340.4" cy="495.1" r="0.63" fill-opacity="0.46"/><circle cx="364.8" cy="489.9" r="0.58" fill-opacity="0.38"/><circle cx="368.0" cy="524.4" r="0.58" fill-opacity="0.53"/><circle cx="316.6" cy="500.0" r="0.64" fill-opacity="0.52"/><circle cx="364.3" cy="520.9" r="0.71" fill-opacity="0.61"/><circle cx="339.1" cy="517.5" r="0.81" fill-opacity="0.40"/><circle cx="358.9" cy="511.1" r="0.69" fill-opacity="0.46"/><circle cx="324.5" cy="507.8" r="0.55" fill-opacity="0.55"/><circle cx="362.6" cy="520.1" r="0.74" fill-opacity="0.50"/><circle cx="351.1" cy="491.7" r="0.52" fill-opacity="0.64"/><circle cx="332.2" cy="514.9" r="0.67" fill-opacity="0.44"/><circle cx="355.3" cy="501.1" r="0.80" fill-opacity="0.63"/><circle cx="322.0" cy="528.0" r="0.52" fill-opacity="0.47"/><circle cx="340.1" cy="521.7" r="0.57" fill-opacity="0.52"/><circle cx="332.6" cy="525.7" r="0.55" fill-opacity="0.41"/><circle cx="358.1" cy="500.2" r="0.88" fill-opacity="0.32"/><circle cx="333.7" cy="491.1" r="0.73" fill-opacity="0.69"/><circle cx="330.1" cy="514.0" r="0.61" fill-opacity="0.48"/><circle cx="344.1" cy="497.1" r="0.78" fill-opacity="0.50"/><circle cx="363.0" cy="498.2" r="0.88" fill-opacity="0.37"/><circle cx="312.9" cy="514.6" r="0.79" fill-opacity="0.49"/><circle cx="314.2" cy="528.9" r="0.56" fill-opacity="0.65"/><circle cx="362.2" cy="495.9" r="0.85" fill-opacity="0.49"/><circle cx="356.9" cy="494.3" r="0.81" fill-opacity="0.70"/><circle cx="350.8" cy="506.9" r="0.89" fill-opacity="0.70"/><circle cx="350.5" cy="505.0" r="0.78" fill-opacity="0.70"/><circle cx="353.9" cy="502.0" r="0.57" fill-opacity="0.70"/><circle cx="349.1" cy="503.1" r="0.74" fill-opacity="0.70"/><circle cx="350.0" cy="500.6" r="0.52" fill-opacity="0.70"/><circle cx="346.8" cy="499.2" r="0.87" fill-opacity="0.70"/><circle cx="353.2" cy="496.9" r="0.85" fill-opacity="0.70"/><circle cx="349.4" cy="501.3" r="0.54" fill-opacity="0.70"/><circle cx="348.3" cy="502.7" r="0.61" fill-opacity="0.70"/><circle cx="354.2" cy="511.7" r="0.53" fill-opacity="0.70"/><circle cx="354.6" cy="498.6" r="0.82" fill-opacity="0.70"/><circle cx="354.8" cy="504.7" r="0.80" fill-opacity="0.70"/><circle cx="349.2" cy="502.3" r="0.70" fill-opacity="0.70"/><circle cx="352.5" cy="503.7" r="0.60" fill-opacity="0.70"/><circle cx="358.2" cy="503.1" r="0.53" fill-opacity="0.70"/><circle cx="352.2" cy="500.2" r="0.76" fill-opacity="0.70"/><circle cx="351.0" cy="500.1" r="0.88" fill-opacity="0.70"/></g>
</g>
<rect x="352.30" y="524.10" width="12.00" height="1.90" fill="#fff"/>
<clipPath id="c26"><rect x="370.50" y="486.50" width="56.50" height="42.50"/></clipPath>
<g clip-path="url(#c26)">
<rect x="370.50" y="486.50" width="56.50" height="42.50" fill="#000"/>
<g fill="#1c1cff"><circle cx="424.8" cy="509.8" r="0.69" fill-opacity="0.94"/><circle cx="394.0" cy="520.0" r="0.62" fill-opacity="0.62"/><circle cx="425.2" cy="521.2" r="0.61" fill-opacity="0.74"/><circle cx="394.5" cy="496.2" r="0.65" fill-opacity="0.68"/><circle cx="378.5" cy="494.6" r="1.03" fill-opacity="0.69"/><circle cx="387.2" cy="503.4" r="0.65" fill-opacity="0.91"/><circle cx="399.5" cy="514.6" r="1.09" fill-opacity="0.59"/><circle cx="402.6" cy="506.9" r="0.98" fill-opacity="0.79"/><circle cx="395.7" cy="492.1" r="0.87" fill-opacity="0.87"/><circle cx="424.1" cy="505.8" r="0.86" fill-opacity="0.87"/><circle cx="395.8" cy="503.7" r="0.97" fill-opacity="0.90"/><circle cx="414.0" cy="526.1" r="0.69" fill-opacity="0.76"/><circle cx="374.0" cy="526.4" r="0.72" fill-opacity="0.76"/><circle cx="409.7" cy="506.5" r="0.84" fill-opacity="0.74"/><circle cx="403.2" cy="513.7" r="0.96" fill-opacity="0.74"/><circle cx="393.2" cy="493.2" r="0.61" fill-opacity="0.68"/><circle cx="424.4" cy="506.6" r="0.68" fill-opacity="0.74"/><circle cx="412.0" cy="521.7" r="0.78" fill-opacity="0.79"/><circle cx="373.6" cy="522.1" r="0.80" fill-opacity="0.60"/><circle cx="382.1" cy="521.1" r="1.04" fill-opacity="0.63"/><circle cx="425.1" cy="496.0" r="0.64" fill-opacity="0.56"/><circle cx="379.7" cy="517.0" r="0.88" fill-opacity="0.92"/><circle cx="382.2" cy="493.7" r="1.03" fill-opacity="0.74"/><circle cx="397.1" cy="518.8" r="0.60" fill-opacity="0.57"/><circle cx="375.5" cy="501.6" r="0.65" fill-opacity="0.76"/><circle cx="394.2" cy="501.8" r="0.73" fill-opacity="0.72"/><circle cx="413.5" cy="527.1" r="1.09" fill-opacity="0.56"/><circle cx="406.0" cy="517.9" r="1.06" fill-opacity="0.77"/><circle cx="383.9" cy="505.3" r="1.07" fill-opacity="0.60"/><circle cx="399.3" cy="502.2" r="0.76" fill-opacity="0.58"/><circle cx="396.1" cy="511.4" r="1.00" fill-opacity="0.93"/><circle cx="388.3" cy="498.7" r="0.67" fill-opacity="0.76"/><circle cx="414.8" cy="514.4" r="0.82" fill-opacity="0.93"/><circle cx="424.3" cy="524.9" r="0.77" fill-opacity="0.83"/><circle cx="373.0" cy="513.2" r="0.73" fill-opacity="0.76"/><circle cx="426.8" cy="499.0" r="0.73" fill-opacity="0.82"/><circle cx="377.7" cy="498.1" r="1.01" fill-opacity="0.60"/><circle cx="414.2" cy="504.4" r="0.81" fill-opacity="0.91"/><circle cx="394.3" cy="489.3" r="0.89" fill-opacity="0.72"/><circle cx="415.6" cy="508.9" r="0.99" fill-opacity="0.84"/><circle cx="407.4" cy="521.8" r="0.93" fill-opacity="0.59"/><circle cx="379.3" cy="490.3" r="0.85" fill-opacity="0.93"/><circle cx="383.8" cy="490.5" r="0.69" fill-opacity="0.79"/><circle cx="419.5" cy="523.4" r="0.64" fill-opacity="0.61"/><circle cx="396.9" cy="504.9" r="1.05" fill-opacity="0.70"/><circle cx="418.3" cy="524.4" r="1.04" fill-opacity="0.55"/><circle cx="407.9" cy="502.3" r="1.06" fill-opacity="0.92"/><circle cx="375.3" cy="491.4" r="0.84" fill-opacity="0.76"/><circle cx="378.9" cy="487.8" r="0.67" fill-opacity="0.67"/><circle cx="375.3" cy="504.5" r="0.78" fill-opacity="0.70"/><circle cx="405.6" cy="502.0" r="0.64" fill-opacity="0.74"/><circle cx="416.8" cy="519.6" r="0.91" fill-opacity="0.87"/><circle cx="425.9" cy="495.8" r="0.89" fill-opacity="0.74"/><circle cx="410.5" cy="527.3" r="0.65" fill-opacity="0.94"/><circle cx="395.1" cy="487.0" r="0.79" fill-opacity="0.80"/><circle cx="408.8" cy="528.6" r="0.92" fill-opacity="0.86"/><circle cx="380.7" cy="491.1" r="0.82" fill-opacity="0.66"/><circle cx="403.8" cy="511.4" r="0.82" fill-opacity="0.83"/><circle cx="413.3" cy="513.5" r="0.68" fill-opacity="0.67"/><circle cx="398.8" cy="518.0" r="0.73" fill-opacity="0.79"/><circle cx="378.8" cy="515.2" r="1.01" fill-opacity="0.75"/><circle cx="373.6" cy="498.0" r="1.09" fill-opacity="0.80"/><circle cx="405.6" cy="526.7" r="0.89" fill-opacity="0.82"/><circle cx="419.6" cy="511.1" r="0.96" fill-opacity="0.60"/><circle cx="419.6" cy="527.2" r="0.67" fill-opacity="0.56"/><circle cx="405.7" cy="498.7" r="0.85" fill-opacity="0.74"/><circle cx="370.8" cy="497.6" r="1.05" fill-opacity="0.73"/><circle cx="400.7" cy="526.2" r="0.68" fill-opacity="0.71"/><circle cx="393.7" cy="518.5" r="0.83" fill-opacity="0.92"/><circle cx="418.4" cy="523.9" r="0.73" fill-opacity="0.73"/><circle cx="371.0" cy="513.1" r="0.66" fill-opacity="0.73"/><circle cx="403.4" cy="524.9" r="0.68" fill-opacity="0.59"/><circle cx="406.3" cy="487.8" r="0.65" fill-opacity="0.57"/><circle cx="423.8" cy="511.7" r="0.83" fill-opacity="0.65"/><circle cx="384.8" cy="512.2" r="0.89" fill-opacity="0.70"/><circle cx="379.6" cy="505.0" r="0.80" fill-opacity="0.74"/><circle cx="395.1" cy="493.6" r="0.95" fill-opacity="0.77"/><circle cx="374.3" cy="506.6" r="0.77" fill-opacity="0.89"/><circle cx="384.1" cy="524.4" r="1.04" fill-opacity="0.64"/><circle cx="422.8" cy="506.1" r="1.09" fill-opacity="0.60"/></g>
</g>
<rect x="411.00" y="524.10" width="12.00" height="1.90" fill="#fff"/>
<clipPath id="c27"><rect x="311.80" y="546.00" width="56.50" height="42.50"/></clipPath>
<g clip-path="url(#c27)">
<rect x="311.80" y="546.00" width="56.50" height="42.50" fill="#000"/>
<g fill="#ff1a1a"><circle cx="329.6" cy="578.7" r="0.54" fill-opacity="0.44"/><circle cx="333.9" cy="584.1" r="0.64" fill-opacity="0.60"/><circle cx="317.5" cy="553.3" r="0.78" fill-opacity="0.58"/><circle cx="352.5" cy="564.8" r="0.70" fill-opacity="0.40"/><circle cx="324.4" cy="548.2" r="0.57" fill-opacity="0.53"/><circle cx="345.2" cy="577.3" r="0.76" fill-opacity="0.71"/><circle cx="353.5" cy="546.4" r="0.86" fill-opacity="0.55"/><circle cx="336.4" cy="549.7" r="0.56" fill-opacity="0.33"/><circle cx="317.0" cy="579.5" r="0.65" fill-opacity="0.69"/><circle cx="367.4" cy="572.5" r="0.58" fill-opacity="0.38"/></g>
</g>
<rect x="352.30" y="583.60" width="12.00" height="1.90" fill="#fff"/>
<clipPath id="c28"><rect x="370.50" y="546.00" width="56.50" height="42.50"/></clipPath>
<g clip-path="url(#c28)">
<rect x="370.50" y="546.00" width="56.50" height="42.50" fill="#000"/>
<g fill="#ff1a1a"><circle cx="393.8" cy="563.3" r="1.05" fill-opacity="0.95"/><circle cx="387.9" cy="582.1" r="1.08" fill-opacity="0.92"/><circle cx="371.9" cy="587.7" r="0.73" fill-opacity="0.90"/><circle cx="380.2" cy="570.5" r="0.80" fill-opacity="0.84"/><circle cx="413.9" cy="581.9" r="1.02" fill-opacity="0.94"/><circle cx="405.5" cy="568.6" r="0.99" fill-opacity="0.81"/><circle cx="415.4" cy="562.2" r="1.08" fill-opacity="0.95"/><circle cx="381.6" cy="579.8" r="0.87" fill-opacity="0.80"/><circle cx="415.8" cy="574.6" r="0.93" fill-opacity="0.94"/><circle cx="379.1" cy="548.9" r="0.74" fill-opacity="0.68"/><circle cx="377.9" cy="547.8" r="0.84" fill-opacity="0.93"/><circle cx="414.4" cy="565.4" r="1.04" fill-opacity="0.79"/><circle cx="403.3" cy="548.6" r="0.76" fill-opacity="0.69"/><circle cx="375.1" cy="561.5" r="0.90" fill-opacity="0.54"/><circle cx="385.8" cy="578.9" r="0.80" fill-opacity="0.83"/><circle cx="379.3" cy="554.7" r="0.99" fill-opacity="0.88"/><circle cx="376.6" cy="572.4" r="0.99" fill-opacity="0.88"/><circle cx="412.7" cy="579.9" r="0.79" fill-opacity="0.81"/><circle cx="385.4" cy="569.1" r="0.98" fill-opacity="0.93"/><circle cx="412.2" cy="575.0" r="0.66" fill-opacity="0.95"/><circle cx="392.3" cy="582.8" r="0.64" fill-opacity="0.80"/><circle cx="398.4" cy="587.0" r="0.98" fill-opacity="0.75"/><circle cx="412.0" cy="565.6" r="1.07" fill-opacity="0.58"/><circle cx="423.1" cy="584.9" r="0.75" fill-opacity="0.86"/><circle cx="417.2" cy="575.9" r="1.06" fill-opacity="0.77"/><circle cx="397.2" cy="587.1" r="0.85" fill-opacity="0.81"/><circle cx="417.0" cy="550.1" r="0.73" fill-opacity="0.83"/><circle cx="388.5" cy="580.5" r="0.86" fill-opacity="0.96"/><circle cx="397.9" cy="555.0" r="0.93" fill-opacity="0.55"/><circle cx="411.1" cy="561.5" r="0.75" fill-opacity="0.58"/></g>
</g>
<rect x="411.00" y="583.60" width="12.00" height="1.90" fill="#fff"/>
<clipPath id="c29"><rect x="311.80" y="590.50" width="56.50" height="42.50"/></clipPath>
<g clip-path="url(#c29)">
<rect x="311.80" y="590.50" width="56.50" height="42.50" fill="#000"/>
<g fill="#1c1cff"><circle cx="339.7" cy="611.0" r="0.88" fill-opacity="0.76"/><circle cx="330.9" cy="613.7" r="0.81" fill-opacity="0.72"/><circle cx="365.5" cy="622.1" r="0.94" fill-opacity="0.70"/><circle cx="326.7" cy="602.6" r="0.50" fill-opacity="0.63"/><circle cx="320.7" cy="602.6" r="0.57" fill-opacity="0.40"/><circle cx="355.2" cy="604.3" r="0.83" fill-opacity="0.81"/><circle cx="328.2" cy="615.0" r="0.56" fill-opacity="0.45"/><circle cx="351.4" cy="594.1" r="0.99" fill-opacity="0.51"/><circle cx="361.4" cy="631.5" r="0.54" fill-opacity="0.58"/><circle cx="339.8" cy="600.4" r="0.63" fill-opacity="0.58"/><circle cx="338.6" cy="601.9" r="0.80" fill-opacity="0.64"/><circle cx="342.8" cy="592.0" r="0.96" fill-opacity="0.58"/><circle cx="334.6" cy="598.2" r="0.64" fill-opacity="0.67"/><circle cx="335.8" cy="629.8" r="0.73" fill-opacity="0.57"/><circle cx="359.2" cy="625.1" r="0.98" fill-opacity="0.78"/><circle cx="344.2" cy="625.8" r="0.57" fill-opacity="0.45"/><circle cx="312.1" cy="618.9" r="0.90" fill-opacity="0.49"/><circle cx="354.4" cy="600.8" r="0.92" fill-opacity="0.47"/><circle cx="327.7" cy="603.4" r="0.73" fill-opacity="0.75"/><circle cx="340.4" cy="625.6" r="0.54" fill-opacity="0.69"/><circle cx="315.6" cy="593.8" r="0.71" fill-opacity="0.79"/><circle cx="350.0" cy="621.0" r="0.59" fill-opacity="0.82"/><circle cx="363.0" cy="614.8" r="0.90" fill-opacity="0.63"/><circle cx="358.1" cy="607.9" r="0.79" fill-opacity="0.52"/><circle cx="349.1" cy="613.3" r="0.89" fill-opacity="0.83"/><circle cx="361.9" cy="618.0" r="0.85" fill-opacity="0.46"/><circle cx="312.5" cy="598.0" r="0.79" fill-opacity="0.55"/><circle cx="331.7" cy="601.3" r="0.81" fill-opacity="0.50"/><circle cx="327.5" cy="590.5" r="0.94" fill-opacity="0.54"/><circle cx="354.5" cy="600.3" r="0.82" fill-opacity="0.66"/><circle cx="331.5" cy="615.0" r="0.79" fill-opacity="0.51"/><circle cx="338.5" cy="596.2" r="0.97" fill-opacity="0.46"/><circle cx="313.9" cy="615.8" r="0.73" fill-opacity="0.51"/><circle cx="321.2" cy="626.1" r="0.75" fill-opacity="0.63"/><circle cx="335.9" cy="630.3" r="0.54" fill-opacity="0.56"/><circle cx="330.6" cy="605.8" r="0.86" fill-opacity="0.80"/><circle cx="350.3" cy="599.3" r="0.58" fill-opacity="0.64"/><circle cx="349.7" cy="614.3" r="0.71" fill-opacity="0.69"/><circle cx="338.3" cy="598.4" r="0.60" fill-opacity="0.55"/><circle cx="329.0" cy="600.7" r="0.92" fill-opacity="0.47"/><circle cx="312.1" cy="616.2" r="0.84" fill-opacity="0.56"/><circle cx="335.5" cy="605.8" r="0.69" fill-opacity="0.50"/><circle cx="367.8" cy="614.1" r="0.80" fill-opacity="0.54"/><circle cx="361.6" cy="595.8" r="0.56" fill-opacity="0.51"/><circle cx="339.1" cy="614.5" r="0.69" fill-opacity="0.47"/><circle cx="363.2" cy="609.4" r="0.74" fill-opacity="0.74"/><circle cx="336.6" cy="596.0" r="0.66" fill-opacity="0.45"/><circle cx="359.1" cy="593.2" r="0.56" fill-opacity="0.55"/><circle cx="348.9" cy="598.9" r="0.80" fill-opacity="0.59"/><circle cx="354.6" cy="601.1" r="0.58" fill-opacity="0.43"/><circle cx="350.6" cy="630.5" r="0.51" fill-opacity="0.50"/><circle cx="328.8" cy="612.8" r="0.63" fill-opacity="0.61"/><circle cx="348.4" cy="592.5" r="0.79" fill-opacity="0.58"/><circle cx="313.4" cy="595.0" r="0.70" fill-opacity="0.51"/><circle cx="362.1" cy="596.8" r="0.96" fill-opacity="0.54"/><circle cx="364.7" cy="601.5" r="0.85" fill-opacity="0.65"/><circle cx="354.8" cy="597.3" r="0.63" fill-opacity="0.73"/><circle cx="327.6" cy="623.9" r="0.65" fill-opacity="0.74"/><circle cx="316.4" cy="624.2" r="0.73" fill-opacity="0.49"/><circle cx="347.6" cy="617.2" r="0.79" fill-opacity="0.43"/><circle cx="326.5" cy="619.3" r="0.52" fill-opacity="0.63"/><circle cx="338.2" cy="601.9" r="0.87" fill-opacity="0.61"/><circle cx="335.3" cy="608.8" r="0.70" fill-opacity="0.61"/><circle cx="337.4" cy="629.7" r="0.56" fill-opacity="0.65"/><circle cx="346.2" cy="607.7" r="0.70" fill-opacity="0.49"/><circle cx="321.8" cy="618.9" r="0.55" fill-opacity="0.72"/><circle cx="348.2" cy="595.1" r="0.93" fill-opacity="0.65"/><circle cx="340.6" cy="599.5" r="0.53" fill-opacity="0.61"/><circle cx="365.8" cy="596.7" r="0.88" fill-opacity="0.42"/><circle cx="329.9" cy="592.2" r="0.58" fill-opacity="0.56"/><circle cx="345.2" cy="592.6" r="0.62" fill-opacity="0.49"/><circle cx="318.4" cy="613.2" r="0.82" fill-opacity="0.81"/><circle cx="362.0" cy="630.6" r="0.93" fill-opacity="0.67"/><circle cx="314.9" cy="624.8" r="0.73" fill-opacity="0.41"/><circle cx="328.2" cy="615.1" r="0.72" fill-opacity="0.75"/><circle cx="350.4" cy="619.1" r="0.87" fill-opacity="0.79"/><circle cx="337.1" cy="604.1" r="0.52" fill-opacity="0.84"/><circle cx="364.3" cy="625.6" r="0.75" fill-opacity="0.45"/><circle cx="338.9" cy="611.9" r="0.51" fill-opacity="0.74"/><circle cx="324.4" cy="619.2" r="0.92" fill-opacity="0.51"/><circle cx="333.6" cy="593.6" r="0.90" fill-opacity="0.54"/><circle cx="353.3" cy="595.4" r="0.91" fill-opacity="0.82"/><circle cx="367.1" cy="611.9" r="0.52" fill-opacity="0.71"/><circle cx="342.9" cy="626.1" r="0.90" fill-opacity="0.59"/><circle cx="356.7" cy="608.6" r="0.80" fill-opacity="0.44"/><circle cx="363.4" cy="619.1" r="0.55" fill-opacity="0.82"/><circle cx="337.5" cy="596.9" r="0.79" fill-opacity="0.66"/><circle cx="342.8" cy="619.1" r="0.50" fill-opacity="0.80"/><circle cx="314.9" cy="614.3" r="0.75" fill-opacity="0.55"/><circle cx="325.9" cy="599.7" r="0.60" fill-opacity="0.78"/><circle cx="344.3" cy="632.1" r="0.68" fill-opacity="0.54"/><circle cx="346.1" cy="630.4" r="0.71" fill-opacity="0.74"/><circle cx="356.5" cy="594.4" r="0.96" fill-opacity="0.43"/><circle cx="333.3" cy="592.1" r="1.00" fill-opacity="0.41"/><circle cx="340.8" cy="591.7" r="0.56" fill-opacity="0.74"/><circle cx="314.8" cy="591.0" r="0.65" fill-opacity="0.53"/><circle cx="319.7" cy="623.9" r="0.89" fill-opacity="0.62"/><circle cx="361.1" cy="592.3" r="0.57" fill-opacity="0.64"/><circle cx="326.2" cy="627.8" r="0.54" fill-opacity="0.63"/><circle cx="316.7" cy="604.8" r="0.91" fill-opacity="0.68"/></g>
</g>
<rect x="352.30" y="628.10" width="12.00" height="1.90" fill="#fff"/>
<clipPath id="c30"><rect x="370.50" y="590.50" width="56.50" height="42.50"/></clipPath>
<g clip-path="url(#c30)">
<rect x="370.50" y="590.50" width="56.50" height="42.50" fill="#000"/>
<g fill="#1c1cff"><circle cx="397.9" cy="598.9" r="1.09" fill-opacity="0.96"/><circle cx="412.7" cy="626.0" r="0.61" fill-opacity="0.88"/><circle cx="376.7" cy="607.0" r="0.85" fill-opacity="0.62"/><circle cx="401.3" cy="609.9" r="0.62" fill-opacity="0.64"/><circle cx="399.7" cy="624.1" r="0.96" fill-opacity="0.64"/><circle cx="421.7" cy="622.2" r="0.94" fill-opacity="0.63"/><circle cx="419.8" cy="629.6" r="0.79" fill-opacity="0.86"/><circle cx="422.4" cy="629.6" r="0.93" fill-opacity="0.83"/><circle cx="378.4" cy="626.0" r="0.96" fill-opacity="0.76"/><circle cx="418.9" cy="625.3" r="1.08" fill-opacity="0.87"/><circle cx="398.9" cy="614.9" r="0.62" fill-opacity="0.70"/><circle cx="384.3" cy="596.3" r="0.65" fill-opacity="0.90"/><circle cx="376.0" cy="605.6" r="0.91" fill-opacity="0.66"/><circle cx="406.1" cy="601.2" r="0.95" fill-opacity="0.84"/><circle cx="416.0" cy="607.3" r="0.69" fill-opacity="0.69"/><circle cx="415.3" cy="594.2" r="1.06" fill-opacity="0.89"/><circle cx="417.2" cy="597.5" r="0.95" fill-opacity="0.55"/><circle cx="383.0" cy="599.2" r="1.06" fill-opacity="0.89"/><circle cx="400.1" cy="612.2" r="0.91" fill-opacity="0.88"/><circle cx="390.8" cy="606.8" r="1.07" fill-opacity="0.61"/><circle cx="371.0" cy="627.0" r="1.07" fill-opacity="0.72"/><circle cx="409.5" cy="594.2" r="0.62" fill-opacity="0.50"/><circle cx="373.6" cy="608.1" r="0.60" fill-opacity="0.83"/><circle cx="396.5" cy="600.5" r="0.98" fill-opacity="0.75"/><circle cx="412.5" cy="591.7" r="0.87" fill-opacity="0.92"/><circle cx="401.9" cy="621.7" r="0.62" fill-opacity="0.63"/><circle cx="413.5" cy="611.9" r="0.77" fill-opacity="0.64"/><circle cx="391.9" cy="623.2" r="1.02" fill-opacity="0.88"/><circle cx="387.5" cy="618.1" r="0.72" fill-opacity="0.95"/><circle cx="395.4" cy="599.8" r="1.04" fill-opacity="0.82"/><circle cx="386.5" cy="603.7" r="0.73" fill-opacity="0.89"/><circle cx="426.8" cy="615.5" r="0.65" fill-opacity="0.75"/><circle cx="381.2" cy="621.7" r="0.62" fill-opacity="0.59"/><circle cx="419.4" cy="628.3" r="0.61" fill-opacity="0.63"/><circle cx="373.1" cy="595.9" r="0.77" fill-opacity="0.80"/><circle cx="373.6" cy="620.5" r="1.10" fill-opacity="0.72"/><circle cx="370.6" cy="617.2" r="1.01" fill-opacity="0.99"/><circle cx="386.0" cy="621.7" r="0.98" fill-opacity="0.79"/><circle cx="407.9" cy="610.8" r="0.69" fill-opacity="0.51"/><circle cx="406.6" cy="592.1" r="0.69" fill-opacity="0.71"/><circle cx="424.0" cy="592.3" r="0.90" fill-opacity="0.89"/><circle cx="393.3" cy="617.5" r="0.80" fill-opacity="0.61"/><circle cx="384.5" cy="606.3" r="0.95" fill-opacity="0.99"/><circle cx="396.3" cy="616.6" r="0.61" fill-opacity="0.81"/><circle cx="415.2" cy="615.5" r="0.83" fill-opacity="0.74"/><circle cx="384.5" cy="608.0" r="0.77" fill-opacity="0.52"/><circle cx="400.0" cy="619.9" r="0.72" fill-opacity="0.86"/><circle cx="379.3" cy="596.6" r="0.95" fill-opacity="0.94"/><circle cx="377.5" cy="596.7" r="0.64" fill-opacity="0.78"/><circle cx="420.7" cy="619.3" r="0.92" fill-opacity="0.74"/><circle cx="410.7" cy="603.5" r="0.89" fill-opacity="0.78"/><circle cx="404.2" cy="594.2" r="0.87" fill-opacity="0.56"/><circle cx="370.8" cy="617.3" r="0.78" fill-opacity="0.83"/><circle cx="394.2" cy="616.2" r="0.99" fill-opacity="0.52"/><circle cx="405.7" cy="602.8" r="1.07" fill-opacity="0.68"/><circle cx="378.9" cy="601.9" r="1.00" fill-opacity="0.62"/><circle cx="410.4" cy="591.6" r="1.07" fill-opacity="0.74"/><circle cx="417.6" cy="627.1" r="0.74" fill-opacity="0.67"/><circle cx="396.3" cy="621.4" r="0.75" fill-opacity="0.94"/><circle cx="379.4" cy="599.6" r="0.69" fill-opacity="0.82"/><circle cx="383.2" cy="607.0" r="1.01" fill-opacity="0.53"/><circle cx="388.9" cy="611.6" r="0.71" fill-opacity="0.59"/><circle cx="383.5" cy="621.8" r="0.75" fill-opacity="0.72"/><circle cx="384.8" cy="627.1" r="1.04" fill-opacity="0.96"/><circle cx="378.4" cy="631.1" r="0.84" fill-opacity="0.83"/><circle cx="397.6" cy="602.3" r="0.84" fill-opacity="0.98"/><circle cx="373.5" cy="618.6" r="0.74" fill-opacity="0.90"/><circle cx="401.7" cy="597.7" r="0.79" fill-opacity="0.64"/><circle cx="373.8" cy="596.9" r="1.07" fill-opacity="0.85"/><circle cx="415.9" cy="607.3" r="1.01" fill-opacity="0.81"/><circle cx="397.3" cy="611.7" r="0.95" fill-opacity="0.51"/><circle cx="373.3" cy="627.0" r="0.71" fill-opacity="0.96"/><circle cx="411.0" cy="620.3" r="0.84" fill-opacity="0.53"/><circle cx="417.2" cy="627.9" r="1.09" fill-opacity="0.55"/><circle cx="423.3" cy="621.4" r="0.71" fill-opacity="0.86"/><circle cx="397.4" cy="617.6" r="1.08" fill-opacity="0.87"/><circle cx="381.3" cy="590.9" r="0.75" fill-opacity="0.62"/><circle cx="425.7" cy="601.2" r="1.01" fill-opacity="0.69"/><circle cx="413.0" cy="623.3" r="0.63" fill-opacity="0.79"/><circle cx="396.4" cy="632.1" r="0.77" fill-opacity="0.52"/><circle cx="381.7" cy="630.7" r="1.09" fill-opacity="0.92"/><circle cx="380.5" cy="625.6" r="0.78" fill-opacity="0.55"/><circle cx="382.9" cy="596.3" r="1.08" fill-opacity="0.95"/><circle cx="402.7" cy="609.6" r="1.00" fill-opacity="0.72"/><circle cx="391.7" cy="612.8" r="0.83" fill-opacity="0.87"/><circle cx="388.9" cy="606.6" r="1.00" fill-opacity="0.71"/><circle cx="422.4" cy="593.0" r="0.65" fill-opacity="0.79"/><circle cx="378.4" cy="612.1" r="0.86" fill-opacity="0.54"/><circle cx="380.2" cy="615.9" r="0.93" fill-opacity="0.60"/><circle cx="391.0" cy="627.3" r="0.64" fill-opacity="0.92"/></g>
</g>
<rect x="411.00" y="628.10" width="12.00" height="1.90" fill="#fff"/>
<text x="47.15" y="439.40" font-size="9" text-anchor="middle" fill="#111" stroke="#111" stroke-width="0.1">shCtrl</text>
<text x="47.15" y="543.80" font-size="9" text-anchor="middle" fill="#111" stroke="#111" stroke-width="0.1">shCtrl</text>
<text x="104.20" y="439.40" font-size="9" text-anchor="middle" fill="#111" stroke="#111" stroke-width="0.1">shSPAG6-1</text>
<text x="104.20" y="543.80" font-size="9" text-anchor="middle" fill="#111" stroke="#111" stroke-width="0.1">shSPAG6-1</text>
<text x="162.35" y="439.40" font-size="9" text-anchor="middle" fill="#111" stroke="#111" stroke-width="0.1">shSPAG6-2</text>
<text x="162.35" y="543.80" font-size="9" text-anchor="middle" fill="#111" stroke="#111" stroke-width="0.1">shSPAG6-2</text>
<text x="341.35" y="439.40" font-size="9" text-anchor="middle" fill="#111" stroke="#111" stroke-width="0.1">EV</text>
<text x="341.35" y="543.80" font-size="9" text-anchor="middle" fill="#111" stroke="#111" stroke-width="0.1">EV</text>
<text x="397.25" y="439.40" font-size="9" text-anchor="middle" fill="#111" stroke="#111" stroke-width="0.1">SPAG6</text>
<text x="397.25" y="543.80" font-size="9" text-anchor="middle" fill="#111" stroke="#111" stroke-width="0.1">SPAG6</text>
<text x="16.50" y="463.20" font-size="9" text-anchor="middle" transform="rotate(-90 16.50 463.20)" fill="#111" stroke="#111" stroke-width="0.25">EdU</text>
<text x="16.50" y="507.70" font-size="9" text-anchor="middle" transform="rotate(-90 16.50 507.70)" fill="#111" stroke="#111" stroke-width="0.25">Hoechst</text>
<text x="16.50" y="567.20" font-size="9" text-anchor="middle" transform="rotate(-90 16.50 567.20)" fill="#111" stroke="#111" stroke-width="0.25">EdU</text>
<text x="16.50" y="611.70" font-size="9" text-anchor="middle" transform="rotate(-90 16.50 611.70)" fill="#111" stroke="#111" stroke-width="0.25">Hoechst</text>
<text x="309.50" y="463.20" font-size="9" text-anchor="middle" transform="rotate(-90 309.50 463.20)" fill="#111" stroke="#111" stroke-width="0.25">EdU</text>
<text x="309.50" y="507.70" font-size="9" text-anchor="middle" transform="rotate(-90 309.50 507.70)" fill="#111" stroke="#111" stroke-width="0.25">Hoechst</text>
<text x="309.50" y="567.20" font-size="9" text-anchor="middle" transform="rotate(-90 309.50 567.20)" fill="#111" stroke="#111" stroke-width="0.25">EdU</text>
<text x="309.50" y="611.70" font-size="9" text-anchor="middle" transform="rotate(-90 309.50 611.70)" fill="#111" stroke="#111" stroke-width="0.25">Hoechst</text>
<text x="301.00" y="242.00" font-size="9.5" text-anchor="middle" fill="#111" stroke="#111" stroke-width="0.25">K562</text>
<line x1="262.20" y1="244.60" x2="340.40" y2="244.60" stroke="#444" stroke-width="1.5"/>
<text x="270.50" y="279.20" font-size="7.5" text-anchor="start" transform="rotate(-45 270.50 279.20)" fill="#111" stroke="#111" stroke-width="0.25">shCtrl</text>
<text x="291.80" y="279.20" font-size="7.5" text-anchor="start" transform="rotate(-45 291.80 279.20)" fill="#111" stroke="#111" stroke-width="0.25">shSPAG6-1</text>
<text x="312.30" y="279.20" font-size="7.5" text-anchor="start" transform="rotate(-45 312.30 279.20)" fill="#111" stroke="#111" stroke-width="0.25">shSPAG6-2</text>
<rect x="263.40" y="282.30" width="58.60" height="13.30" fill="#dadada"/>
<rect x="264.80" y="283.70" width="55.80" height="10.50" fill="none" stroke="#ececec" stroke-width="0.8"/>
<clipPath id="c31"><rect x="264.40" y="283.30" width="56.60" height="11.30"/></clipPath>
<g clip-path="url(#c31)"><g filter="url(#bl)">
<rect x="270.10" y="287.80" width="9.80" height="2.60" rx="1.30" fill="rgb(6,6,6)"/>
<rect x="287.15" y="288.05" width="10.50" height="1.30" rx="0.65" fill="rgb(156,156,156)"/>
<rect x="304.45" y="288.05" width="10.50" height="1.30" rx="0.65" fill="rgb(156,156,156)"/>
</g></g>
<rect x="264.10" y="283.00" width="57.20" height="11.90" fill="none" stroke="#222" stroke-width="1.4"/>
<text x="261.00" y="292.45" font-size="8" text-anchor="end" fill="#111" stroke="#111" stroke-width="0.25">Ki67</text>
<text x="325.40" y="292.45" font-size="8" text-anchor="start" fill="#111" stroke="#111" stroke-width="0.25">358 kDa</text>
<rect x="263.40" y="298.00" width="58.60" height="13.20" fill="#dadada"/>
<rect x="264.80" y="299.40" width="55.80" height="10.40" fill="none" stroke="#ececec" stroke-width="0.8"/>
<clipPath id="c32"><rect x="264.40" y="299.00" width="56.60" height="11.20"/></clipPath>
<g clip-path="url(#c32)"><g filter="url(#bl)">
<rect x="263.50" y="298.50" width="17.00" height="7.00" rx="2.00" fill="rgb(119,119,119)" filter="url(#bl2)"/>
<rect x="268.20" y="303.90" width="10.40" height="3.80" rx="1.90" fill="rgb(0,0,0)"/>
<rect x="286.90" y="304.20" width="11.00" height="3.20" rx="1.60" fill="rgb(182,182,182)" filter="url(#bl2)"/>
<rect x="304.70" y="304.20" width="11.00" height="3.20" rx="1.60" fill="rgb(182,182,182)" filter="url(#bl2)"/>
<rect x="285.40" y="299.50" width="14.00" height="4.00" rx="2.00" fill="rgb(199,199,199)" filter="url(#bl2)"/>
<rect x="303.20" y="299.50" width="14.00" height="4.00" rx="2.00" fill="rgb(199,199,199)" filter="url(#bl2)"/>
</g></g>
<rect x="264.10" y="298.70" width="57.20" height="11.80" fill="none" stroke="#222" stroke-width="1.4"/>
<text x="261.00" y="308.10" font-size="8" text-anchor="end" fill="#111" stroke="#111" stroke-width="0.25">PCNA</text>
<text x="325.40" y="308.10" font-size="8" text-anchor="start" fill="#111" stroke="#111" stroke-width="0.25">36 kDa</text>
<rect x="263.40" y="313.20" width="58.60" height="13.20" fill="#dadada"/>
<rect x="264.80" y="314.60" width="55.80" height="10.40" fill="none" stroke="#ececec" stroke-width="0.8"/>
<clipPath id="c33"><rect x="264.40" y="314.20" width="56.60" height="11.20"/></clipPath>
<g clip-path="url(#c33)"><g filter="url(#bl)">
<rect x="266.85" y="319.05" width="12.30" height="2.30" rx="1.15" fill="rgb(17,17,17)"/>
<rect x="286.55" y="319.05" width="11.70" height="2.30" rx="1.15" fill="rgb(21,21,21)"/>
<rect x="305.00" y="319.05" width="13.00" height="2.30" rx="1.15" fill="rgb(15,15,15)"/>
</g></g>
<rect x="264.10" y="313.90" width="57.20" height="11.80" fill="none" stroke="#222" stroke-width="1.4"/>
<text x="261.00" y="323.30" font-size="8" text-anchor="end" fill="#111" stroke="#111" stroke-width="0.25">GAPDH</text>
<text x="325.40" y="323.30" font-size="8" text-anchor="start" fill="#111" stroke="#111" stroke-width="0.25">37 kDa</text>
<text x="466.30" y="242.00" font-size="9.5" text-anchor="middle" fill="#111" stroke="#111" stroke-width="0.25">HEL</text>
<line x1="427.00" y1="244.60" x2="506.30" y2="244.60" stroke="#444" stroke-width="1.5"/>
<text x="435.40" y="279.20" font-size="7.5" text-anchor="start" transform="rotate(-45 435.40 279.20)" fill="#111" stroke="#111" stroke-width="0.25">shCtrl</text>
<text x="456.60" y="279.20" font-size="7.5" text-anchor="start" transform="rotate(-45 456.60 279.20)" fill="#111" stroke="#111" stroke-width="0.25">shSPAG6-1</text>
<text x="477.90" y="279.20" font-size="7.5" text-anchor="start" transform="rotate(-45 477.90 279.20)" fill="#111" stroke="#111" stroke-width="0.25">shSPAG6-2</text>
<rect x="424.00" y="282.30" width="59.00" height="13.30" fill="#dadada"/>
<rect x="425.40" y="283.70" width="56.20" height="10.50" fill="none" stroke="#ececec" stroke-width="0.8"/>
<clipPath id="c34"><rect x="425.00" y="283.30" width="57.00" height="11.30"/></clipPath>
<g clip-path="url(#c34)"><g filter="url(#bl)">
<rect x="428.85" y="288.60" width="12.30" height="3.00" rx="1.50" fill="rgb(0,0,0)"/>
<rect x="447.15" y="289.05" width="11.70" height="1.50" rx="0.75" fill="rgb(108,108,108)"/>
<rect x="465.65" y="289.05" width="11.70" height="1.50" rx="0.75" fill="rgb(115,115,115)"/>
<rect x="430.00" y="292.50" width="6.00" height="1.40" rx="0.70" fill="rgb(162,162,162)"/>
</g></g>
<rect x="424.70" y="283.00" width="57.60" height="11.90" fill="none" stroke="#222" stroke-width="1.4"/>
<text x="421.30" y="292.45" font-size="8" text-anchor="end" fill="#111" stroke="#111" stroke-width="0.25">Ki67</text>
<text x="485.80" y="292.45" font-size="8" text-anchor="start" fill="#111" stroke="#111" stroke-width="0.25">358 kDa</text>
<rect x="424.00" y="298.00" width="59.00" height="13.20" fill="#dadada"/>
<rect x="425.40" y="299.40" width="56.20" height="10.40" fill="none" stroke="#ececec" stroke-width="0.8"/>
<clipPath id="c35"><rect x="425.00" y="299.00" width="57.00" height="11.20"/></clipPath>
<g clip-path="url(#c35)"><g filter="url(#bl)">
<rect x="428.20" y="303.75" width="14.00" height="2.30" rx="1.15" fill="rgb(8,8,8)"/>
<rect x="444.80" y="304.10" width="14.00" height="1.80" rx="0.90" fill="rgb(119,119,119)"/>
<rect x="462.00" y="304.05" width="14.00" height="1.90" rx="0.95" fill="rgb(108,108,108)"/>
</g></g>
<rect x="424.70" y="298.70" width="57.60" height="11.80" fill="none" stroke="#222" stroke-width="1.4"/>
<text x="421.30" y="308.10" font-size="8" text-anchor="end" fill="#111" stroke="#111" stroke-width="0.25">PCNA</text>
<text x="485.80" y="308.10" font-size="8" text-anchor="start" fill="#111" stroke="#111" stroke-width="0.25">36 kDa</text>
<rect x="424.00" y="313.20" width="59.00" height="13.20" fill="#dadada"/>
<rect x="425.40" y="314.60" width="56.20" height="10.40" fill="none" stroke="#ececec" stroke-width="0.8"/>
<clipPath id="c36"><rect x="425.00" y="314.20" width="57.00" height="11.20"/></clipPath>
<g clip-path="url(#c36)"><g filter="url(#bl)">
<rect x="428.15" y="318.50" width="12.30" height="1.80" rx="0.90" fill="rgb(108,108,108)"/>
<rect x="446.55" y="318.40" width="12.30" height="2.00" rx="1.00" fill="rgb(75,75,75)"/>
<rect x="455.50" y="318.40" width="3.00" height="2.00" rx="1.00" fill="rgb(86,86,86)"/>
<rect x="465.70" y="318.50" width="11.00" height="1.80" rx="0.90" fill="rgb(82,82,82)"/>
</g></g>
<rect x="424.70" y="313.90" width="57.60" height="11.80" fill="none" stroke="#222" stroke-width="1.4"/>
<text x="421.30" y="323.30" font-size="8" text-anchor="end" fill="#111" stroke="#111" stroke-width="0.25">GAPDH</text>
<text x="485.80" y="323.30" font-size="8" text-anchor="start" fill="#111" stroke="#111" stroke-width="0.25">37 kDa</text>
<text x="295.00" y="345.20" font-size="9.5" text-anchor="middle" fill="#111" stroke="#111" stroke-width="0.25">HL-60</text>
<line x1="271.20" y1="347.80" x2="324.80" y2="347.80" stroke="#444" stroke-width="1.5"/>
<text x="283.00" y="371.80" font-size="7.5" text-anchor="start" transform="rotate(-45 283.00 371.80)" fill="#111" stroke="#111" stroke-width="0.25">EV</text>
<text x="300.90" y="371.80" font-size="7.5" text-anchor="start" transform="rotate(-45 300.90 371.80)" fill="#111" stroke="#111" stroke-width="0.25">SPAG6</text>
<rect x="273.10" y="375.10" width="39.30" height="13.30" fill="#dadada"/>
<rect x="274.50" y="376.50" width="36.50" height="10.50" fill="none" stroke="#ececec" stroke-width="0.8"/>
<clipPath id="c37"><rect x="274.10" y="376.10" width="37.30" height="11.30"/></clipPath>
<g clip-path="url(#c37)"><g filter="url(#bl)">
<rect x="278.60" y="381.90" width="11.00" height="1.60" rx="0.80" fill="rgb(134,134,134)"/>
<rect x="296.40" y="381.50" width="11.80" height="2.00" rx="1.00" fill="rgb(6,6,6)"/>
</g></g>
<rect x="273.80" y="375.80" width="37.90" height="11.90" fill="none" stroke="#222" stroke-width="1.4"/>
<text x="270.30" y="385.25" font-size="8" text-anchor="end" fill="#111" stroke="#111" stroke-width="0.25">Ki67</text>
<text x="316.00" y="385.25" font-size="8" text-anchor="start" fill="#111" stroke="#111" stroke-width="0.25">358 kDa</text>
<rect x="273.10" y="390.60" width="39.30" height="13.00" fill="#dadada"/>
<rect x="274.50" y="392.00" width="36.50" height="10.20" fill="none" stroke="#ececec" stroke-width="0.8"/>
<clipPath id="c38"><rect x="274.10" y="391.60" width="37.30" height="11.00"/></clipPath>
<g clip-path="url(#c38)"><g filter="url(#bl)">
<rect x="279.45" y="396.90" width="12.70" height="1.20" rx="0.60" fill="rgb(186,186,186)"/>
<rect x="295.45" y="396.90" width="12.70" height="1.60" rx="0.80" fill="rgb(43,43,43)"/>
</g></g>
<rect x="273.80" y="391.30" width="37.90" height="11.60" fill="none" stroke="#222" stroke-width="1.4"/>
<text x="270.30" y="400.60" font-size="8" text-anchor="end" fill="#111" stroke="#111" stroke-width="0.25">PCNA</text>
<text x="316.00" y="400.60" font-size="8" text-anchor="start" fill="#111" stroke="#111" stroke-width="0.25">36 kDa</text>
<rect x="273.10" y="406.00" width="39.30" height="13.20" fill="#dadada"/>
<rect x="274.50" y="407.40" width="36.50" height="10.40" fill="none" stroke="#ececec" stroke-width="0.8"/>
<clipPath id="c39"><rect x="274.10" y="407.00" width="37.30" height="11.20"/></clipPath>
<g clip-path="url(#c39)"><g filter="url(#bl)">
<rect x="276.00" y="411.10" width="14.00" height="3.40" rx="1.70" fill="rgb(2,2,2)"/>
<rect x="295.05" y="411.30" width="13.90" height="3.00" rx="1.50" fill="rgb(17,17,17)"/>
</g></g>
<rect x="273.80" y="406.70" width="37.90" height="11.80" fill="none" stroke="#222" stroke-width="1.4"/>
<text x="270.30" y="416.10" font-size="8" text-anchor="end" fill="#111" stroke="#111" stroke-width="0.25">GAPDH</text>
<text x="316.00" y="416.10" font-size="8" text-anchor="start" fill="#111" stroke="#111" stroke-width="0.25">37 kDa</text>
<text x="450.40" y="345.20" font-size="9.5" text-anchor="middle" fill="#111" stroke="#111" stroke-width="0.25">THP-1</text>
<line x1="427.30" y1="347.80" x2="481.00" y2="347.80" stroke="#444" stroke-width="1.5"/>
<text x="443.50" y="371.80" font-size="7.5" text-anchor="start" transform="rotate(-45 443.50 371.80)" fill="#111" stroke="#111" stroke-width="0.25">EV</text>
<text x="461.90" y="371.80" font-size="7.5" text-anchor="start" transform="rotate(-45 461.90 371.80)" fill="#111" stroke="#111" stroke-width="0.25">SPAG6</text>
<rect x="433.50" y="375.10" width="40.00" height="13.30" fill="#dadada"/>
<rect x="434.90" y="376.50" width="37.20" height="10.50" fill="none" stroke="#ececec" stroke-width="0.8"/>
<clipPath id="c40"><rect x="434.50" y="376.10" width="38.00" height="11.30"/></clipPath>
<g clip-path="url(#c40)"><g filter="url(#bl)">
<rect x="436.90" y="381.75" width="11.40" height="1.10" rx="0.55" fill="rgb(151,151,151)"/>
<rect x="456.00" y="380.95" width="12.60" height="1.90" rx="0.95" fill="rgb(39,39,39)"/>
</g></g>
<rect x="434.20" y="375.80" width="38.60" height="11.90" fill="none" stroke="#222" stroke-width="1.4"/>
<text x="430.70" y="385.25" font-size="8" text-anchor="end" fill="#111" stroke="#111" stroke-width="0.25">Ki67</text>
<text x="476.40" y="385.25" font-size="8" text-anchor="start" fill="#111" stroke="#111" stroke-width="0.25">358 kDa</text>
<rect x="433.50" y="390.60" width="40.00" height="13.00" fill="#dadada"/>
<rect x="434.90" y="392.00" width="37.20" height="10.20" fill="none" stroke="#ececec" stroke-width="0.8"/>
<clipPath id="c41"><rect x="434.50" y="391.60" width="38.00" height="11.00"/></clipPath>
<g clip-path="url(#c41)"><g filter="url(#bl)">
<rect x="437.80" y="396.90" width="13.00" height="1.20" rx="0.60" fill="rgb(177,177,177)"/>
<rect x="454.30" y="396.50" width="13.00" height="1.60" rx="0.80" fill="rgb(60,60,60)"/>
</g></g>
<rect x="434.20" y="391.30" width="38.60" height="11.60" fill="none" stroke="#222" stroke-width="1.4"/>
<text x="430.70" y="400.60" font-size="8" text-anchor="end" fill="#111" stroke="#111" stroke-width="0.25">PCNA</text>
<text x="476.40" y="400.60" font-size="8" text-anchor="start" fill="#111" stroke="#111" stroke-width="0.25">36 kDa</text>
<rect x="433.50" y="406.00" width="40.00" height="13.20" fill="#dadada"/>
<rect x="434.90" y="407.40" width="37.20" height="10.40" fill="none" stroke="#ececec" stroke-width="0.8"/>
<clipPath id="c42"><rect x="434.50" y="407.00" width="38.00" height="11.20"/></clipPath>
<g clip-path="url(#c42)"><g filter="url(#bl)">
<rect x="437.25" y="411.00" width="12.70" height="3.00" rx="1.50" fill="rgb(8,8,8)"/>
<rect x="455.05" y="411.00" width="13.10" height="3.00" rx="1.50" fill="rgb(15,15,15)"/>
</g></g>
<rect x="434.20" y="406.70" width="38.60" height="11.80" fill="none" stroke="#222" stroke-width="1.4"/>
<text x="430.70" y="416.10" font-size="8" text-anchor="end" fill="#111" stroke="#111" stroke-width="0.25">GAPDH</text>
<text x="476.40" y="416.10" font-size="8" text-anchor="start" fill="#111" stroke="#111" stroke-width="0.25">37 kDa</text>
<text x="7.00" y="14.80" font-size="10.5" text-anchor="start" font-weight="bold" fill="#111" stroke="#111" stroke-width="0.25">A</text>
<text x="231.50" y="15.60" font-size="10.5" text-anchor="start" font-weight="bold" fill="#111" stroke="#111" stroke-width="0.25">B</text>
<text x="6.50" y="235.00" font-size="10.5" text-anchor="start" font-weight="bold" fill="#111" stroke="#111" stroke-width="0.25">C</text>
<text x="6.50" y="326.00" font-size="10.5" text-anchor="start" font-weight="bold" fill="#111" stroke="#111" stroke-width="0.25">D</text>
<text x="235.80" y="235.00" font-size="10.5" text-anchor="start" font-weight="bold" fill="#111" stroke="#111" stroke-width="0.25">F</text>
<text x="7.00" y="439.30" font-size="10.5" text-anchor="start" font-weight="bold" fill="#111" stroke="#111" stroke-width="0.25">E</text>
<rect x="0.5" y="0.5" width="519" height="676" fill="none" stroke="#000" stroke-width="1"/>
</svg></body></html>
